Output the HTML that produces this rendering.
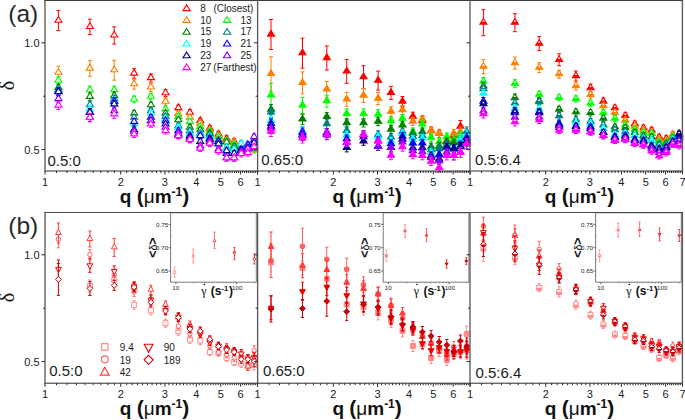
<!DOCTYPE html>
<html><head><meta charset="utf-8"><style>
html,body{margin:0;padding:0;background:#fff;width:685px;height:420px;overflow:hidden;}
body{position:relative;font-family:"Liberation Sans", sans-serif;}
</style></head><body>
<svg width="685" height="420" viewBox="0 0 685 420" style="position:absolute;left:0;top:0" font-family='"Liberation Sans", sans-serif'>
<rect width="685" height="420" fill="#fff"/>
<path d="M58.4,10.6 V30.6 M56.4,10.6 H60.4 M56.4,30.6 H60.4" stroke="#ff0000" stroke-width="1.0" fill="none"/>
<polygon points="54.9,22.2 62,22.2 58.4,16.5" fill="#fff"/>
<polygon points="54.9,22.2 62,22.2 58.4,16.5" fill="none" stroke="#ff0000" stroke-width="1.1" stroke-linejoin="miter"/>
<path d="M89.9,19.2 V34.6 M87.9,19.2 H91.9 M87.9,34.6 H91.9" stroke="#ff0000" stroke-width="1.0" fill="none"/>
<polygon points="86.3,28.5 93.4,28.5 89.9,22.8" fill="#fff"/>
<polygon points="86.3,28.5 93.4,28.5 89.9,22.8" fill="none" stroke="#ff0000" stroke-width="1.1" stroke-linejoin="miter"/>
<path d="M114.2,26.8 V44 M112.2,26.8 H116.2 M112.2,44 H116.2" stroke="#ff0000" stroke-width="1.0" fill="none"/>
<polygon points="110.7,37 117.8,37 114.2,31.3" fill="#fff"/>
<polygon points="110.7,37 117.8,37 114.2,31.3" fill="none" stroke="#ff0000" stroke-width="1.1" stroke-linejoin="miter"/>
<path d="M134.1,68.7 V78.3 M132.1,68.7 H136.1 M132.1,78.3 H136.1" stroke="#ff0000" stroke-width="1.0" fill="none"/>
<polygon points="130.6,75.1 137.7,75.1 134.1,69.4" fill="#fff"/>
<polygon points="130.6,75.1 137.7,75.1 134.1,69.4" fill="none" stroke="#ff0000" stroke-width="1.1" stroke-linejoin="miter"/>
<path d="M150.9,74 V82 M148.9,74 H152.9 M148.9,82 H152.9" stroke="#ff0000" stroke-width="1.0" fill="none"/>
<polygon points="147.4,79.6 154.5,79.6 150.9,73.9" fill="#fff"/>
<polygon points="147.4,79.6 154.5,79.6 150.9,73.9" fill="none" stroke="#ff0000" stroke-width="1.1" stroke-linejoin="miter"/>
<path d="M165.5,89.6 V96.6 M163.5,89.6 H167.5 M163.5,96.6 H167.5" stroke="#ff0000" stroke-width="1.0" fill="none"/>
<polygon points="162,94.7 169.1,94.7 165.5,89" fill="#fff"/>
<polygon points="162,94.7 169.1,94.7 165.5,89" fill="none" stroke="#ff0000" stroke-width="1.1" stroke-linejoin="miter"/>
<path d="M178.4,105 V111 M176.4,105 H180.4 M176.4,111 H180.4" stroke="#ff0000" stroke-width="1.0" fill="none"/>
<polygon points="174.8,109.6 181.9,109.6 178.4,103.9" fill="#fff"/>
<polygon points="174.8,109.6 181.9,109.6 178.4,103.9" fill="none" stroke="#ff0000" stroke-width="1.1" stroke-linejoin="miter"/>
<path d="M189.9,109.7 V115.7 M187.9,109.7 H191.9 M187.9,115.7 H191.9" stroke="#ff0000" stroke-width="1.0" fill="none"/>
<polygon points="186.3,114.3 193.4,114.3 189.9,108.6" fill="#fff"/>
<polygon points="186.3,114.3 193.4,114.3 189.9,108.6" fill="none" stroke="#ff0000" stroke-width="1.1" stroke-linejoin="miter"/>
<path d="M200.3,118 V124 M198.3,118 H202.3 M198.3,124 H202.3" stroke="#ff0000" stroke-width="1.0" fill="none"/>
<polygon points="196.7,122.6 203.8,122.6 200.3,116.9" fill="#fff"/>
<polygon points="196.7,122.6 203.8,122.6 200.3,116.9" fill="none" stroke="#ff0000" stroke-width="1.1" stroke-linejoin="miter"/>
<path d="M209.8,125.5 V131.5 M207.8,125.5 H211.8 M207.8,131.5 H211.8" stroke="#ff0000" stroke-width="1.0" fill="none"/>
<polygon points="206.2,130.1 213.3,130.1 209.8,124.4" fill="#fff"/>
<polygon points="206.2,130.1 213.3,130.1 209.8,124.4" fill="none" stroke="#ff0000" stroke-width="1.1" stroke-linejoin="miter"/>
<path d="M218.5,131.3 V137.3 M216.5,131.3 H220.5 M216.5,137.3 H220.5" stroke="#ff0000" stroke-width="1.0" fill="none"/>
<polygon points="215,135.9 222.1,135.9 218.5,130.2" fill="#fff"/>
<polygon points="215,135.9 222.1,135.9 218.5,130.2" fill="none" stroke="#ff0000" stroke-width="1.1" stroke-linejoin="miter"/>
<path d="M226.6,135.9 V141.9 M224.6,135.9 H228.6 M224.6,141.9 H228.6" stroke="#ff0000" stroke-width="1.0" fill="none"/>
<polygon points="223.1,140.5 230.2,140.5 226.6,134.8" fill="#fff"/>
<polygon points="223.1,140.5 230.2,140.5 226.6,134.8" fill="none" stroke="#ff0000" stroke-width="1.1" stroke-linejoin="miter"/>
<path d="M234.2,138.7 V144.7 M232.2,138.7 H236.2 M232.2,144.7 H236.2" stroke="#ff0000" stroke-width="1.0" fill="none"/>
<polygon points="230.6,143.3 237.7,143.3 234.2,137.6" fill="#fff"/>
<polygon points="230.6,143.3 237.7,143.3 234.2,137.6" fill="none" stroke="#ff0000" stroke-width="1.1" stroke-linejoin="miter"/>
<path d="M241.2,142 V148 M239.2,142 H243.2 M239.2,148 H243.2" stroke="#ff0000" stroke-width="1.0" fill="none"/>
<polygon points="237.7,146.6 244.8,146.6 241.2,140.9" fill="#fff"/>
<polygon points="237.7,146.6 244.8,146.6 241.2,140.9" fill="none" stroke="#ff0000" stroke-width="1.1" stroke-linejoin="miter"/>
<path d="M247.8,143 V149 M245.8,143 H249.8 M245.8,149 H249.8" stroke="#ff0000" stroke-width="1.0" fill="none"/>
<polygon points="244.3,147.6 251.4,147.6 247.8,141.9" fill="#fff"/>
<polygon points="244.3,147.6 251.4,147.6 247.8,141.9" fill="none" stroke="#ff0000" stroke-width="1.1" stroke-linejoin="miter"/>
<path d="M254.1,145 V151 M252.1,145 H256.1 M252.1,151 H256.1" stroke="#ff0000" stroke-width="1.0" fill="none"/>
<polygon points="250.5,149.6 257.6,149.6 254.1,143.9" fill="#fff"/>
<polygon points="250.5,149.6 257.6,149.6 254.1,143.9" fill="none" stroke="#ff0000" stroke-width="1.1" stroke-linejoin="miter"/>
<path d="M58.4,66.2 V79.2 M56.4,66.2 H60.4 M56.4,79.2 H60.4" stroke="#ff8000" stroke-width="1.0" fill="none"/>
<polygon points="54.9,74.3 62,74.3 58.4,68.6" fill="#fff"/>
<polygon points="54.9,74.3 62,74.3 58.4,68.6" fill="none" stroke="#ff8000" stroke-width="1.1" stroke-linejoin="miter"/>
<path d="M89.9,60.7 V76.3 M87.9,60.7 H91.9 M87.9,76.3 H91.9" stroke="#ff8000" stroke-width="1.0" fill="none"/>
<polygon points="86.3,70.1 93.4,70.1 89.9,64.4" fill="#fff"/>
<polygon points="86.3,70.1 93.4,70.1 89.9,64.4" fill="none" stroke="#ff8000" stroke-width="1.1" stroke-linejoin="miter"/>
<path d="M114.2,60.2 V80.2 M112.2,60.2 H116.2 M112.2,80.2 H116.2" stroke="#ff8000" stroke-width="1.0" fill="none"/>
<polygon points="110.7,71.8 117.8,71.8 114.2,66.1" fill="#fff"/>
<polygon points="110.7,71.8 117.8,71.8 114.2,66.1" fill="none" stroke="#ff8000" stroke-width="1.1" stroke-linejoin="miter"/>
<path d="M134.1,79.2 V89.2 M132.1,79.2 H136.1 M132.1,89.2 H136.1" stroke="#ff8000" stroke-width="1.0" fill="none"/>
<polygon points="130.6,85.8 137.7,85.8 134.1,80.1" fill="#fff"/>
<polygon points="130.6,85.8 137.7,85.8 134.1,80.1" fill="none" stroke="#ff8000" stroke-width="1.1" stroke-linejoin="miter"/>
<path d="M150.9,83.4 V91.4 M148.9,83.4 H152.9 M148.9,91.4 H152.9" stroke="#ff8000" stroke-width="1.0" fill="none"/>
<polygon points="147.4,89 154.5,89 150.9,83.3" fill="#fff"/>
<polygon points="147.4,89 154.5,89 150.9,83.3" fill="none" stroke="#ff8000" stroke-width="1.1" stroke-linejoin="miter"/>
<path d="M165.5,98.2 V105.2 M163.5,98.2 H167.5 M163.5,105.2 H167.5" stroke="#ff8000" stroke-width="1.0" fill="none"/>
<polygon points="162,103.3 169.1,103.3 165.5,97.6" fill="#fff"/>
<polygon points="162,103.3 169.1,103.3 165.5,97.6" fill="none" stroke="#ff8000" stroke-width="1.1" stroke-linejoin="miter"/>
<path d="M178.4,111 V117 M176.4,111 H180.4 M176.4,117 H180.4" stroke="#ff8000" stroke-width="1.0" fill="none"/>
<polygon points="174.8,115.6 181.9,115.6 178.4,109.9" fill="#fff"/>
<polygon points="174.8,115.6 181.9,115.6 178.4,109.9" fill="none" stroke="#ff8000" stroke-width="1.1" stroke-linejoin="miter"/>
<path d="M189.9,114.7 V120.7 M187.9,114.7 H191.9 M187.9,120.7 H191.9" stroke="#ff8000" stroke-width="1.0" fill="none"/>
<polygon points="186.3,119.3 193.4,119.3 189.9,113.6" fill="#fff"/>
<polygon points="186.3,119.3 193.4,119.3 189.9,113.6" fill="none" stroke="#ff8000" stroke-width="1.1" stroke-linejoin="miter"/>
<path d="M200.3,120.5 V126.5 M198.3,120.5 H202.3 M198.3,126.5 H202.3" stroke="#ff8000" stroke-width="1.0" fill="none"/>
<polygon points="196.7,125.1 203.8,125.1 200.3,119.4" fill="#fff"/>
<polygon points="196.7,125.1 203.8,125.1 200.3,119.4" fill="none" stroke="#ff8000" stroke-width="1.1" stroke-linejoin="miter"/>
<path d="M209.8,127.2 V133.2 M207.8,127.2 H211.8 M207.8,133.2 H211.8" stroke="#ff8000" stroke-width="1.0" fill="none"/>
<polygon points="206.2,131.8 213.3,131.8 209.8,126.1" fill="#fff"/>
<polygon points="206.2,131.8 213.3,131.8 209.8,126.1" fill="none" stroke="#ff8000" stroke-width="1.1" stroke-linejoin="miter"/>
<path d="M218.5,133 V139 M216.5,133 H220.5 M216.5,139 H220.5" stroke="#ff8000" stroke-width="1.0" fill="none"/>
<polygon points="215,137.6 222.1,137.6 218.5,131.9" fill="#fff"/>
<polygon points="215,137.6 222.1,137.6 218.5,131.9" fill="none" stroke="#ff8000" stroke-width="1.1" stroke-linejoin="miter"/>
<path d="M226.6,138 V144 M224.6,138 H228.6 M224.6,144 H228.6" stroke="#ff8000" stroke-width="1.0" fill="none"/>
<polygon points="223.1,142.6 230.2,142.6 226.6,136.9" fill="#fff"/>
<polygon points="223.1,142.6 230.2,142.6 226.6,136.9" fill="none" stroke="#ff8000" stroke-width="1.1" stroke-linejoin="miter"/>
<path d="M234.2,139.5 V145.5 M232.2,139.5 H236.2 M232.2,145.5 H236.2" stroke="#ff8000" stroke-width="1.0" fill="none"/>
<polygon points="230.6,144.1 237.7,144.1 234.2,138.4" fill="#fff"/>
<polygon points="230.6,144.1 237.7,144.1 234.2,138.4" fill="none" stroke="#ff8000" stroke-width="1.1" stroke-linejoin="miter"/>
<path d="M241.2,144 V150 M239.2,144 H243.2 M239.2,150 H243.2" stroke="#ff8000" stroke-width="1.0" fill="none"/>
<polygon points="237.7,148.6 244.8,148.6 241.2,142.9" fill="#fff"/>
<polygon points="237.7,148.6 244.8,148.6 241.2,142.9" fill="none" stroke="#ff8000" stroke-width="1.1" stroke-linejoin="miter"/>
<path d="M247.8,146 V152 M245.8,146 H249.8 M245.8,152 H249.8" stroke="#ff8000" stroke-width="1.0" fill="none"/>
<polygon points="244.3,150.6 251.4,150.6 247.8,144.9" fill="#fff"/>
<polygon points="244.3,150.6 251.4,150.6 247.8,144.9" fill="none" stroke="#ff8000" stroke-width="1.1" stroke-linejoin="miter"/>
<path d="M254.1,147 V153 M252.1,147 H256.1 M252.1,153 H256.1" stroke="#ff8000" stroke-width="1.0" fill="none"/>
<polygon points="250.5,151.6 257.6,151.6 254.1,145.9" fill="#fff"/>
<polygon points="250.5,151.6 257.6,151.6 254.1,145.9" fill="none" stroke="#ff8000" stroke-width="1.1" stroke-linejoin="miter"/>
<path d="M58.4,76.6 V84.6 M56.4,76.6 H60.4 M56.4,84.6 H60.4" stroke="#00ff00" stroke-width="1.0" fill="none"/>
<polygon points="54.9,82.2 62,82.2 58.4,76.5" fill="#fff"/>
<polygon points="54.9,82.2 62,82.2 58.4,76.5" fill="none" stroke="#00ff00" stroke-width="1.1" stroke-linejoin="miter"/>
<path d="M89.9,86.2 V94.2 M87.9,86.2 H91.9 M87.9,94.2 H91.9" stroke="#00ff00" stroke-width="1.0" fill="none"/>
<polygon points="86.3,91.8 93.4,91.8 89.9,86.1" fill="#fff"/>
<polygon points="86.3,91.8 93.4,91.8 89.9,86.1" fill="none" stroke="#00ff00" stroke-width="1.1" stroke-linejoin="miter"/>
<path d="M114.2,86.2 V94.2 M112.2,86.2 H116.2 M112.2,94.2 H116.2" stroke="#00ff00" stroke-width="1.0" fill="none"/>
<polygon points="110.7,91.8 117.8,91.8 114.2,86.1" fill="#fff"/>
<polygon points="110.7,91.8 117.8,91.8 114.2,86.1" fill="none" stroke="#00ff00" stroke-width="1.1" stroke-linejoin="miter"/>
<path d="M134.1,96.2 V102.6 M132.1,96.2 H136.1 M132.1,102.6 H136.1" stroke="#00ff00" stroke-width="1.0" fill="none"/>
<polygon points="130.6,101 137.7,101 134.1,95.3" fill="#fff"/>
<polygon points="130.6,101 137.7,101 134.1,95.3" fill="none" stroke="#00ff00" stroke-width="1.1" stroke-linejoin="miter"/>
<path d="M150.9,93.7 V99.7 M148.9,93.7 H152.9 M148.9,99.7 H152.9" stroke="#00ff00" stroke-width="1.0" fill="none"/>
<polygon points="147.4,98.3 154.5,98.3 150.9,92.6" fill="#fff"/>
<polygon points="147.4,98.3 154.5,98.3 150.9,92.6" fill="none" stroke="#00ff00" stroke-width="1.1" stroke-linejoin="miter"/>
<path d="M165.5,106.3 V112.3 M163.5,106.3 H167.5 M163.5,112.3 H167.5" stroke="#00ff00" stroke-width="1.0" fill="none"/>
<polygon points="162,110.9 169.1,110.9 165.5,105.2" fill="#fff"/>
<polygon points="162,110.9 169.1,110.9 165.5,105.2" fill="none" stroke="#00ff00" stroke-width="1.1" stroke-linejoin="miter"/>
<path d="M178.4,113.8 V119.8 M176.4,113.8 H180.4 M176.4,119.8 H180.4" stroke="#00ff00" stroke-width="1.0" fill="none"/>
<polygon points="174.8,118.4 181.9,118.4 178.4,112.7" fill="#fff"/>
<polygon points="174.8,118.4 181.9,118.4 178.4,112.7" fill="none" stroke="#00ff00" stroke-width="1.1" stroke-linejoin="miter"/>
<path d="M189.9,118.8 V124.8 M187.9,118.8 H191.9 M187.9,124.8 H191.9" stroke="#00ff00" stroke-width="1.0" fill="none"/>
<polygon points="186.3,123.4 193.4,123.4 189.9,117.7" fill="#fff"/>
<polygon points="186.3,123.4 193.4,123.4 189.9,117.7" fill="none" stroke="#00ff00" stroke-width="1.1" stroke-linejoin="miter"/>
<path d="M200.3,123.8 V129.8 M198.3,123.8 H202.3 M198.3,129.8 H202.3" stroke="#00ff00" stroke-width="1.0" fill="none"/>
<polygon points="196.7,128.4 203.8,128.4 200.3,122.7" fill="#fff"/>
<polygon points="196.7,128.4 203.8,128.4 200.3,122.7" fill="none" stroke="#00ff00" stroke-width="1.1" stroke-linejoin="miter"/>
<path d="M209.8,128.8 V134.8 M207.8,128.8 H211.8 M207.8,134.8 H211.8" stroke="#00ff00" stroke-width="1.0" fill="none"/>
<polygon points="206.2,133.4 213.3,133.4 209.8,127.7" fill="#fff"/>
<polygon points="206.2,133.4 213.3,133.4 209.8,127.7" fill="none" stroke="#00ff00" stroke-width="1.1" stroke-linejoin="miter"/>
<path d="M218.5,133.8 V139.8 M216.5,133.8 H220.5 M216.5,139.8 H220.5" stroke="#00ff00" stroke-width="1.0" fill="none"/>
<polygon points="215,138.4 222.1,138.4 218.5,132.7" fill="#fff"/>
<polygon points="215,138.4 222.1,138.4 218.5,132.7" fill="none" stroke="#00ff00" stroke-width="1.1" stroke-linejoin="miter"/>
<path d="M226.6,138 V144 M224.6,138 H228.6 M224.6,144 H228.6" stroke="#00ff00" stroke-width="1.0" fill="none"/>
<polygon points="223.1,142.6 230.2,142.6 226.6,136.9" fill="#fff"/>
<polygon points="223.1,142.6 230.2,142.6 226.6,136.9" fill="none" stroke="#00ff00" stroke-width="1.1" stroke-linejoin="miter"/>
<path d="M234.2,141.6 V147.6 M232.2,141.6 H236.2 M232.2,147.6 H236.2" stroke="#00ff00" stroke-width="1.0" fill="none"/>
<polygon points="230.6,146.2 237.7,146.2 234.2,140.5" fill="#fff"/>
<polygon points="230.6,146.2 237.7,146.2 234.2,140.5" fill="none" stroke="#00ff00" stroke-width="1.1" stroke-linejoin="miter"/>
<path d="M241.2,143 V149 M239.2,143 H243.2 M239.2,149 H243.2" stroke="#00ff00" stroke-width="1.0" fill="none"/>
<polygon points="237.7,147.6 244.8,147.6 241.2,141.9" fill="#fff"/>
<polygon points="237.7,147.6 244.8,147.6 241.2,141.9" fill="none" stroke="#00ff00" stroke-width="1.1" stroke-linejoin="miter"/>
<path d="M247.8,145 V151 M245.8,145 H249.8 M245.8,151 H249.8" stroke="#00ff00" stroke-width="1.0" fill="none"/>
<polygon points="244.3,149.6 251.4,149.6 247.8,143.9" fill="#fff"/>
<polygon points="244.3,149.6 251.4,149.6 247.8,143.9" fill="none" stroke="#00ff00" stroke-width="1.1" stroke-linejoin="miter"/>
<path d="M254.1,146 V152 M252.1,146 H256.1 M252.1,152 H256.1" stroke="#00ff00" stroke-width="1.0" fill="none"/>
<polygon points="250.5,150.6 257.6,150.6 254.1,144.9" fill="#fff"/>
<polygon points="250.5,150.6 257.6,150.6 254.1,144.9" fill="none" stroke="#00ff00" stroke-width="1.1" stroke-linejoin="miter"/>
<path d="M58.4,83.8 V91.8 M56.4,83.8 H60.4 M56.4,91.8 H60.4" stroke="#008000" stroke-width="1.0" fill="none"/>
<polygon points="54.9,89.4 62,89.4 58.4,83.7" fill="#fff"/>
<polygon points="54.9,89.4 62,89.4 58.4,83.7" fill="none" stroke="#008000" stroke-width="1.1" stroke-linejoin="miter"/>
<path d="M89.9,92.8 V100.8 M87.9,92.8 H91.9 M87.9,100.8 H91.9" stroke="#008000" stroke-width="1.0" fill="none"/>
<polygon points="86.3,98.4 93.4,98.4 89.9,92.7" fill="#fff"/>
<polygon points="86.3,98.4 93.4,98.4 89.9,92.7" fill="none" stroke="#008000" stroke-width="1.1" stroke-linejoin="miter"/>
<path d="M114.2,92 V100 M112.2,92 H116.2 M112.2,100 H116.2" stroke="#008000" stroke-width="1.0" fill="none"/>
<polygon points="110.7,97.6 117.8,97.6 114.2,91.9" fill="#fff"/>
<polygon points="110.7,97.6 117.8,97.6 114.2,91.9" fill="none" stroke="#008000" stroke-width="1.1" stroke-linejoin="miter"/>
<path d="M134.1,110.4 V116.8 M132.1,110.4 H136.1 M132.1,116.8 H136.1" stroke="#008000" stroke-width="1.0" fill="none"/>
<polygon points="130.6,115.2 137.7,115.2 134.1,109.5" fill="#fff"/>
<polygon points="130.6,115.2 137.7,115.2 134.1,109.5" fill="none" stroke="#008000" stroke-width="1.1" stroke-linejoin="miter"/>
<path d="M150.9,102.2 V108.2 M148.9,102.2 H152.9 M148.9,108.2 H152.9" stroke="#008000" stroke-width="1.0" fill="none"/>
<polygon points="147.4,106.8 154.5,106.8 150.9,101.1" fill="#fff"/>
<polygon points="147.4,106.8 154.5,106.8 150.9,101.1" fill="none" stroke="#008000" stroke-width="1.1" stroke-linejoin="miter"/>
<path d="M165.5,110.5 V116.5 M163.5,110.5 H167.5 M163.5,116.5 H167.5" stroke="#008000" stroke-width="1.0" fill="none"/>
<polygon points="162,115.1 169.1,115.1 165.5,109.4" fill="#fff"/>
<polygon points="162,115.1 169.1,115.1 165.5,109.4" fill="none" stroke="#008000" stroke-width="1.1" stroke-linejoin="miter"/>
<path d="M178.4,117.2 V123.2 M176.4,117.2 H180.4 M176.4,123.2 H180.4" stroke="#008000" stroke-width="1.0" fill="none"/>
<polygon points="174.8,121.8 181.9,121.8 178.4,116.1" fill="#fff"/>
<polygon points="174.8,121.8 181.9,121.8 178.4,116.1" fill="none" stroke="#008000" stroke-width="1.1" stroke-linejoin="miter"/>
<path d="M189.9,124.7 V130.7 M187.9,124.7 H191.9 M187.9,130.7 H191.9" stroke="#008000" stroke-width="1.0" fill="none"/>
<polygon points="186.3,129.3 193.4,129.3 189.9,123.6" fill="#fff"/>
<polygon points="186.3,129.3 193.4,129.3 189.9,123.6" fill="none" stroke="#008000" stroke-width="1.1" stroke-linejoin="miter"/>
<path d="M200.3,127.2 V133.2 M198.3,127.2 H202.3 M198.3,133.2 H202.3" stroke="#008000" stroke-width="1.0" fill="none"/>
<polygon points="196.7,131.8 203.8,131.8 200.3,126.1" fill="#fff"/>
<polygon points="196.7,131.8 203.8,131.8 200.3,126.1" fill="none" stroke="#008000" stroke-width="1.1" stroke-linejoin="miter"/>
<path d="M209.8,130.5 V136.5 M207.8,130.5 H211.8 M207.8,136.5 H211.8" stroke="#008000" stroke-width="1.0" fill="none"/>
<polygon points="206.2,135.1 213.3,135.1 209.8,129.4" fill="#fff"/>
<polygon points="206.2,135.1 213.3,135.1 209.8,129.4" fill="none" stroke="#008000" stroke-width="1.1" stroke-linejoin="miter"/>
<path d="M218.5,137.2 V143.2 M216.5,137.2 H220.5 M216.5,143.2 H220.5" stroke="#008000" stroke-width="1.0" fill="none"/>
<polygon points="215,141.8 222.1,141.8 218.5,136.1" fill="#fff"/>
<polygon points="215,141.8 222.1,141.8 218.5,136.1" fill="none" stroke="#008000" stroke-width="1.1" stroke-linejoin="miter"/>
<path d="M226.6,139.4 V145.4 M224.6,139.4 H228.6 M224.6,145.4 H228.6" stroke="#008000" stroke-width="1.0" fill="none"/>
<polygon points="223.1,144 230.2,144 226.6,138.3" fill="#fff"/>
<polygon points="223.1,144 230.2,144 226.6,138.3" fill="none" stroke="#008000" stroke-width="1.1" stroke-linejoin="miter"/>
<path d="M234.2,143.7 V149.7 M232.2,143.7 H236.2 M232.2,149.7 H236.2" stroke="#008000" stroke-width="1.0" fill="none"/>
<polygon points="230.6,148.3 237.7,148.3 234.2,142.6" fill="#fff"/>
<polygon points="230.6,148.3 237.7,148.3 234.2,142.6" fill="none" stroke="#008000" stroke-width="1.1" stroke-linejoin="miter"/>
<path d="M241.2,145 V151 M239.2,145 H243.2 M239.2,151 H243.2" stroke="#008000" stroke-width="1.0" fill="none"/>
<polygon points="237.7,149.6 244.8,149.6 241.2,143.9" fill="#fff"/>
<polygon points="237.7,149.6 244.8,149.6 241.2,143.9" fill="none" stroke="#008000" stroke-width="1.1" stroke-linejoin="miter"/>
<path d="M247.8,145 V151 M245.8,145 H249.8 M245.8,151 H249.8" stroke="#008000" stroke-width="1.0" fill="none"/>
<polygon points="244.3,149.6 251.4,149.6 247.8,143.9" fill="#fff"/>
<polygon points="244.3,149.6 251.4,149.6 247.8,143.9" fill="none" stroke="#008000" stroke-width="1.1" stroke-linejoin="miter"/>
<path d="M254.1,144 V150 M252.1,144 H256.1 M252.1,150 H256.1" stroke="#008000" stroke-width="1.0" fill="none"/>
<polygon points="250.5,148.6 257.6,148.6 254.1,142.9" fill="#fff"/>
<polygon points="250.5,148.6 257.6,148.6 254.1,142.9" fill="none" stroke="#008000" stroke-width="1.1" stroke-linejoin="miter"/>
<path d="M58.4,86 V94 M56.4,86 H60.4 M56.4,94 H60.4" stroke="#008080" stroke-width="1.0" fill="none"/>
<polygon points="54.9,91.6 62,91.6 58.4,85.9" fill="#fff"/>
<polygon points="54.9,91.6 62,91.6 58.4,85.9" fill="none" stroke="#008080" stroke-width="1.1" stroke-linejoin="miter"/>
<path d="M89.9,101.2 V109.2 M87.9,101.2 H91.9 M87.9,109.2 H91.9" stroke="#008080" stroke-width="1.0" fill="none"/>
<polygon points="86.3,106.8 93.4,106.8 89.9,101.1" fill="#fff"/>
<polygon points="86.3,106.8 93.4,106.8 89.9,101.1" fill="none" stroke="#008080" stroke-width="1.1" stroke-linejoin="miter"/>
<path d="M114.2,95.3 V103.3 M112.2,95.3 H116.2 M112.2,103.3 H116.2" stroke="#008080" stroke-width="1.0" fill="none"/>
<polygon points="110.7,100.9 117.8,100.9 114.2,95.2" fill="#fff"/>
<polygon points="110.7,100.9 117.8,100.9 114.2,95.2" fill="none" stroke="#008080" stroke-width="1.1" stroke-linejoin="miter"/>
<path d="M134.1,114.5 V120.9 M132.1,114.5 H136.1 M132.1,120.9 H136.1" stroke="#008080" stroke-width="1.0" fill="none"/>
<polygon points="130.6,119.3 137.7,119.3 134.1,113.6" fill="#fff"/>
<polygon points="130.6,119.3 137.7,119.3 134.1,113.6" fill="none" stroke="#008080" stroke-width="1.1" stroke-linejoin="miter"/>
<path d="M150.9,108 V114 M148.9,108 H152.9 M148.9,114 H152.9" stroke="#008080" stroke-width="1.0" fill="none"/>
<polygon points="147.4,112.6 154.5,112.6 150.9,106.9" fill="#fff"/>
<polygon points="147.4,112.6 154.5,112.6 150.9,106.9" fill="none" stroke="#008080" stroke-width="1.1" stroke-linejoin="miter"/>
<path d="M165.5,113.8 V119.8 M163.5,113.8 H167.5 M163.5,119.8 H167.5" stroke="#008080" stroke-width="1.0" fill="none"/>
<polygon points="162,118.4 169.1,118.4 165.5,112.7" fill="#fff"/>
<polygon points="162,118.4 169.1,118.4 165.5,112.7" fill="none" stroke="#008080" stroke-width="1.1" stroke-linejoin="miter"/>
<path d="M178.4,123 V129 M176.4,123 H180.4 M176.4,129 H180.4" stroke="#008080" stroke-width="1.0" fill="none"/>
<polygon points="174.8,127.6 181.9,127.6 178.4,121.9" fill="#fff"/>
<polygon points="174.8,127.6 181.9,127.6 178.4,121.9" fill="none" stroke="#008080" stroke-width="1.1" stroke-linejoin="miter"/>
<path d="M189.9,128 V134 M187.9,128 H191.9 M187.9,134 H191.9" stroke="#008080" stroke-width="1.0" fill="none"/>
<polygon points="186.3,132.6 193.4,132.6 189.9,126.9" fill="#fff"/>
<polygon points="186.3,132.6 193.4,132.6 189.9,126.9" fill="none" stroke="#008080" stroke-width="1.1" stroke-linejoin="miter"/>
<path d="M200.3,130.5 V136.5 M198.3,130.5 H202.3 M198.3,136.5 H202.3" stroke="#008080" stroke-width="1.0" fill="none"/>
<polygon points="196.7,135.1 203.8,135.1 200.3,129.4" fill="#fff"/>
<polygon points="196.7,135.1 203.8,135.1 200.3,129.4" fill="none" stroke="#008080" stroke-width="1.1" stroke-linejoin="miter"/>
<path d="M209.8,132.2 V138.2 M207.8,132.2 H211.8 M207.8,138.2 H211.8" stroke="#008080" stroke-width="1.0" fill="none"/>
<polygon points="206.2,136.8 213.3,136.8 209.8,131.1" fill="#fff"/>
<polygon points="206.2,136.8 213.3,136.8 209.8,131.1" fill="none" stroke="#008080" stroke-width="1.1" stroke-linejoin="miter"/>
<path d="M218.5,139 V145 M216.5,139 H220.5 M216.5,145 H220.5" stroke="#008080" stroke-width="1.0" fill="none"/>
<polygon points="215,143.6 222.1,143.6 218.5,137.9" fill="#fff"/>
<polygon points="215,143.6 222.1,143.6 218.5,137.9" fill="none" stroke="#008080" stroke-width="1.1" stroke-linejoin="miter"/>
<path d="M226.6,145.1 V151.1 M224.6,145.1 H228.6 M224.6,151.1 H228.6" stroke="#008080" stroke-width="1.0" fill="none"/>
<polygon points="223.1,149.7 230.2,149.7 226.6,144" fill="#fff"/>
<polygon points="223.1,149.7 230.2,149.7 226.6,144" fill="none" stroke="#008080" stroke-width="1.1" stroke-linejoin="miter"/>
<path d="M234.2,146 V152 M232.2,146 H236.2 M232.2,152 H236.2" stroke="#008080" stroke-width="1.0" fill="none"/>
<polygon points="230.6,150.6 237.7,150.6 234.2,144.9" fill="#fff"/>
<polygon points="230.6,150.6 237.7,150.6 234.2,144.9" fill="none" stroke="#008080" stroke-width="1.1" stroke-linejoin="miter"/>
<path d="M241.2,141 V147 M239.2,141 H243.2 M239.2,147 H243.2" stroke="#008080" stroke-width="1.0" fill="none"/>
<polygon points="237.7,145.6 244.8,145.6 241.2,139.9" fill="#fff"/>
<polygon points="237.7,145.6 244.8,145.6 241.2,139.9" fill="none" stroke="#008080" stroke-width="1.1" stroke-linejoin="miter"/>
<path d="M247.8,143 V149 M245.8,143 H249.8 M245.8,149 H249.8" stroke="#008080" stroke-width="1.0" fill="none"/>
<polygon points="244.3,147.6 251.4,147.6 247.8,141.9" fill="#fff"/>
<polygon points="244.3,147.6 251.4,147.6 247.8,141.9" fill="none" stroke="#008080" stroke-width="1.1" stroke-linejoin="miter"/>
<path d="M254.1,142 V148 M252.1,142 H256.1 M252.1,148 H256.1" stroke="#008080" stroke-width="1.0" fill="none"/>
<polygon points="250.5,146.6 257.6,146.6 254.1,140.9" fill="#fff"/>
<polygon points="250.5,146.6 257.6,146.6 254.1,140.9" fill="none" stroke="#008080" stroke-width="1.1" stroke-linejoin="miter"/>
<path d="M58.4,87 V95 M56.4,87 H60.4 M56.4,95 H60.4" stroke="#00ffff" stroke-width="1.0" fill="none"/>
<polygon points="54.9,92.6 62,92.6 58.4,86.9" fill="#fff"/>
<polygon points="54.9,92.6 62,92.6 58.4,86.9" fill="none" stroke="#00ffff" stroke-width="1.1" stroke-linejoin="miter"/>
<path d="M89.9,105.3 V113.3 M87.9,105.3 H91.9 M87.9,113.3 H91.9" stroke="#00ffff" stroke-width="1.0" fill="none"/>
<polygon points="86.3,110.9 93.4,110.9 89.9,105.2" fill="#fff"/>
<polygon points="86.3,110.9 93.4,110.9 89.9,105.2" fill="none" stroke="#00ffff" stroke-width="1.1" stroke-linejoin="miter"/>
<path d="M114.2,97 V105 M112.2,97 H116.2 M112.2,105 H116.2" stroke="#00ffff" stroke-width="1.0" fill="none"/>
<polygon points="110.7,102.6 117.8,102.6 114.2,96.9" fill="#fff"/>
<polygon points="110.7,102.6 117.8,102.6 114.2,96.9" fill="none" stroke="#00ffff" stroke-width="1.1" stroke-linejoin="miter"/>
<path d="M134.1,121.1 V127.5 M132.1,121.1 H136.1 M132.1,127.5 H136.1" stroke="#00ffff" stroke-width="1.0" fill="none"/>
<polygon points="130.6,125.9 137.7,125.9 134.1,120.2" fill="#fff"/>
<polygon points="130.6,125.9 137.7,125.9 134.1,120.2" fill="none" stroke="#00ffff" stroke-width="1.1" stroke-linejoin="miter"/>
<path d="M150.9,110.5 V116.5 M148.9,110.5 H152.9 M148.9,116.5 H152.9" stroke="#00ffff" stroke-width="1.0" fill="none"/>
<polygon points="147.4,115.1 154.5,115.1 150.9,109.4" fill="#fff"/>
<polygon points="147.4,115.1 154.5,115.1 150.9,109.4" fill="none" stroke="#00ffff" stroke-width="1.1" stroke-linejoin="miter"/>
<path d="M165.5,116 V122 M163.5,116 H167.5 M163.5,122 H167.5" stroke="#00ffff" stroke-width="1.0" fill="none"/>
<polygon points="162,120.6 169.1,120.6 165.5,114.9" fill="#fff"/>
<polygon points="162,120.6 169.1,120.6 165.5,114.9" fill="none" stroke="#00ffff" stroke-width="1.1" stroke-linejoin="miter"/>
<path d="M178.4,124.7 V130.7 M176.4,124.7 H180.4 M176.4,130.7 H180.4" stroke="#00ffff" stroke-width="1.0" fill="none"/>
<polygon points="174.8,129.3 181.9,129.3 178.4,123.6" fill="#fff"/>
<polygon points="174.8,129.3 181.9,129.3 178.4,123.6" fill="none" stroke="#00ffff" stroke-width="1.1" stroke-linejoin="miter"/>
<path d="M189.9,130.5 V136.5 M187.9,130.5 H191.9 M187.9,136.5 H191.9" stroke="#00ffff" stroke-width="1.0" fill="none"/>
<polygon points="186.3,135.1 193.4,135.1 189.9,129.4" fill="#fff"/>
<polygon points="186.3,135.1 193.4,135.1 189.9,129.4" fill="none" stroke="#00ffff" stroke-width="1.1" stroke-linejoin="miter"/>
<path d="M200.3,132 V138 M198.3,132 H202.3 M198.3,138 H202.3" stroke="#00ffff" stroke-width="1.0" fill="none"/>
<polygon points="196.7,136.6 203.8,136.6 200.3,130.9" fill="#fff"/>
<polygon points="196.7,136.6 203.8,136.6 200.3,130.9" fill="none" stroke="#00ffff" stroke-width="1.1" stroke-linejoin="miter"/>
<path d="M209.8,133.8 V139.8 M207.8,133.8 H211.8 M207.8,139.8 H211.8" stroke="#00ffff" stroke-width="1.0" fill="none"/>
<polygon points="206.2,138.4 213.3,138.4 209.8,132.7" fill="#fff"/>
<polygon points="206.2,138.4 213.3,138.4 209.8,132.7" fill="none" stroke="#00ffff" stroke-width="1.1" stroke-linejoin="miter"/>
<path d="M218.5,140 V146 M216.5,140 H220.5 M216.5,146 H220.5" stroke="#00ffff" stroke-width="1.0" fill="none"/>
<polygon points="215,144.6 222.1,144.6 218.5,138.9" fill="#fff"/>
<polygon points="215,144.6 222.1,144.6 218.5,138.9" fill="none" stroke="#00ffff" stroke-width="1.1" stroke-linejoin="miter"/>
<path d="M226.6,145.1 V151.1 M224.6,145.1 H228.6 M224.6,151.1 H228.6" stroke="#00ffff" stroke-width="1.0" fill="none"/>
<polygon points="223.1,149.7 230.2,149.7 226.6,144" fill="#fff"/>
<polygon points="223.1,149.7 230.2,149.7 226.6,144" fill="none" stroke="#00ffff" stroke-width="1.1" stroke-linejoin="miter"/>
<path d="M234.2,147 V153 M232.2,147 H236.2 M232.2,153 H236.2" stroke="#00ffff" stroke-width="1.0" fill="none"/>
<polygon points="230.6,151.6 237.7,151.6 234.2,145.9" fill="#fff"/>
<polygon points="230.6,151.6 237.7,151.6 234.2,145.9" fill="none" stroke="#00ffff" stroke-width="1.1" stroke-linejoin="miter"/>
<path d="M241.2,141 V147 M239.2,141 H243.2 M239.2,147 H243.2" stroke="#00ffff" stroke-width="1.0" fill="none"/>
<polygon points="237.7,145.6 244.8,145.6 241.2,139.9" fill="#fff"/>
<polygon points="237.7,145.6 244.8,145.6 241.2,139.9" fill="none" stroke="#00ffff" stroke-width="1.1" stroke-linejoin="miter"/>
<path d="M247.8,144 V150 M245.8,144 H249.8 M245.8,150 H249.8" stroke="#00ffff" stroke-width="1.0" fill="none"/>
<polygon points="244.3,148.6 251.4,148.6 247.8,142.9" fill="#fff"/>
<polygon points="244.3,148.6 251.4,148.6 247.8,142.9" fill="none" stroke="#00ffff" stroke-width="1.1" stroke-linejoin="miter"/>
<path d="M254.1,141 V147 M252.1,141 H256.1 M252.1,147 H256.1" stroke="#00ffff" stroke-width="1.0" fill="none"/>
<polygon points="250.5,145.6 257.6,145.6 254.1,139.9" fill="#fff"/>
<polygon points="250.5,145.6 257.6,145.6 254.1,139.9" fill="none" stroke="#00ffff" stroke-width="1.1" stroke-linejoin="miter"/>
<path d="M58.4,87.5 V95.5 M56.4,87.5 H60.4 M56.4,95.5 H60.4" stroke="#0000ff" stroke-width="1.0" fill="none"/>
<polygon points="54.9,93.1 62,93.1 58.4,87.4" fill="#fff"/>
<polygon points="54.9,93.1 62,93.1 58.4,87.4" fill="none" stroke="#0000ff" stroke-width="1.1" stroke-linejoin="miter"/>
<path d="M89.9,108.7 V116.7 M87.9,108.7 H91.9 M87.9,116.7 H91.9" stroke="#0000ff" stroke-width="1.0" fill="none"/>
<polygon points="86.3,114.3 93.4,114.3 89.9,108.6" fill="#fff"/>
<polygon points="86.3,114.3 93.4,114.3 89.9,108.6" fill="none" stroke="#0000ff" stroke-width="1.1" stroke-linejoin="miter"/>
<path d="M114.2,97.8 V105.8 M112.2,97.8 H116.2 M112.2,105.8 H116.2" stroke="#0000ff" stroke-width="1.0" fill="none"/>
<polygon points="110.7,103.4 117.8,103.4 114.2,97.7" fill="#fff"/>
<polygon points="110.7,103.4 117.8,103.4 114.2,97.7" fill="none" stroke="#0000ff" stroke-width="1.1" stroke-linejoin="miter"/>
<path d="M134.1,118.6 V125 M132.1,118.6 H136.1 M132.1,125 H136.1" stroke="#0000ff" stroke-width="1.0" fill="none"/>
<polygon points="130.6,123.4 137.7,123.4 134.1,117.7" fill="#fff"/>
<polygon points="130.6,123.4 137.7,123.4 134.1,117.7" fill="none" stroke="#0000ff" stroke-width="1.1" stroke-linejoin="miter"/>
<path d="M150.9,114.7 V120.7 M148.9,114.7 H152.9 M148.9,120.7 H152.9" stroke="#0000ff" stroke-width="1.0" fill="none"/>
<polygon points="147.4,119.3 154.5,119.3 150.9,113.6" fill="#fff"/>
<polygon points="147.4,119.3 154.5,119.3 150.9,113.6" fill="none" stroke="#0000ff" stroke-width="1.1" stroke-linejoin="miter"/>
<path d="M165.5,118 V124 M163.5,118 H167.5 M163.5,124 H167.5" stroke="#0000ff" stroke-width="1.0" fill="none"/>
<polygon points="162,122.6 169.1,122.6 165.5,116.9" fill="#fff"/>
<polygon points="162,122.6 169.1,122.6 165.5,116.9" fill="none" stroke="#0000ff" stroke-width="1.1" stroke-linejoin="miter"/>
<path d="M178.4,128 V134 M176.4,128 H180.4 M176.4,134 H180.4" stroke="#0000ff" stroke-width="1.0" fill="none"/>
<polygon points="174.8,132.6 181.9,132.6 178.4,126.9" fill="#fff"/>
<polygon points="174.8,132.6 181.9,132.6 178.4,126.9" fill="none" stroke="#0000ff" stroke-width="1.1" stroke-linejoin="miter"/>
<path d="M189.9,133 V139 M187.9,133 H191.9 M187.9,139 H191.9" stroke="#0000ff" stroke-width="1.0" fill="none"/>
<polygon points="186.3,137.6 193.4,137.6 189.9,131.9" fill="#fff"/>
<polygon points="186.3,137.6 193.4,137.6 189.9,131.9" fill="none" stroke="#0000ff" stroke-width="1.1" stroke-linejoin="miter"/>
<path d="M200.3,133 V139 M198.3,133 H202.3 M198.3,139 H202.3" stroke="#0000ff" stroke-width="1.0" fill="none"/>
<polygon points="196.7,137.6 203.8,137.6 200.3,131.9" fill="#fff"/>
<polygon points="196.7,137.6 203.8,137.6 200.3,131.9" fill="none" stroke="#0000ff" stroke-width="1.1" stroke-linejoin="miter"/>
<path d="M209.8,135.5 V141.5 M207.8,135.5 H211.8 M207.8,141.5 H211.8" stroke="#0000ff" stroke-width="1.0" fill="none"/>
<polygon points="206.2,140.1 213.3,140.1 209.8,134.4" fill="#fff"/>
<polygon points="206.2,140.1 213.3,140.1 209.8,134.4" fill="none" stroke="#0000ff" stroke-width="1.1" stroke-linejoin="miter"/>
<path d="M218.5,138.8 V144.8 M216.5,138.8 H220.5 M216.5,144.8 H220.5" stroke="#0000ff" stroke-width="1.0" fill="none"/>
<polygon points="215,143.4 222.1,143.4 218.5,137.7" fill="#fff"/>
<polygon points="215,143.4 222.1,143.4 218.5,137.7" fill="none" stroke="#0000ff" stroke-width="1.1" stroke-linejoin="miter"/>
<path d="M226.6,150.9 V156.9 M224.6,150.9 H228.6 M224.6,156.9 H228.6" stroke="#0000ff" stroke-width="1.0" fill="none"/>
<polygon points="223.1,155.5 230.2,155.5 226.6,149.8" fill="#fff"/>
<polygon points="223.1,155.5 230.2,155.5 226.6,149.8" fill="none" stroke="#0000ff" stroke-width="1.1" stroke-linejoin="miter"/>
<path d="M234.2,150.9 V156.9 M232.2,150.9 H236.2 M232.2,156.9 H236.2" stroke="#0000ff" stroke-width="1.0" fill="none"/>
<polygon points="230.6,155.5 237.7,155.5 234.2,149.8" fill="#fff"/>
<polygon points="230.6,155.5 237.7,155.5 234.2,149.8" fill="none" stroke="#0000ff" stroke-width="1.1" stroke-linejoin="miter"/>
<path d="M241.2,146.6 V152.6 M239.2,146.6 H243.2 M239.2,152.6 H243.2" stroke="#0000ff" stroke-width="1.0" fill="none"/>
<polygon points="237.7,151.2 244.8,151.2 241.2,145.5" fill="#fff"/>
<polygon points="237.7,151.2 244.8,151.2 241.2,145.5" fill="none" stroke="#0000ff" stroke-width="1.1" stroke-linejoin="miter"/>
<path d="M247.8,142 V148 M245.8,142 H249.8 M245.8,148 H249.8" stroke="#0000ff" stroke-width="1.0" fill="none"/>
<polygon points="244.3,146.6 251.4,146.6 247.8,140.9" fill="#fff"/>
<polygon points="244.3,146.6 251.4,146.6 247.8,140.9" fill="none" stroke="#0000ff" stroke-width="1.1" stroke-linejoin="miter"/>
<path d="M254.1,137.3 V143.3 M252.1,137.3 H256.1 M252.1,143.3 H256.1" stroke="#0000ff" stroke-width="1.0" fill="none"/>
<polygon points="250.5,141.9 257.6,141.9 254.1,136.2" fill="#fff"/>
<polygon points="250.5,141.9 257.6,141.9 254.1,136.2" fill="none" stroke="#0000ff" stroke-width="1.1" stroke-linejoin="miter"/>
<path d="M58.4,88 V96 M56.4,88 H60.4 M56.4,96 H60.4" stroke="#000080" stroke-width="1.0" fill="none"/>
<polygon points="54.9,93.6 62,93.6 58.4,87.9" fill="#fff"/>
<polygon points="54.9,93.6 62,93.6 58.4,87.9" fill="none" stroke="#000080" stroke-width="1.1" stroke-linejoin="miter"/>
<path d="M89.9,108.7 V116.7 M87.9,108.7 H91.9 M87.9,116.7 H91.9" stroke="#000080" stroke-width="1.0" fill="none"/>
<polygon points="86.3,114.3 93.4,114.3 89.9,108.6" fill="#fff"/>
<polygon points="86.3,114.3 93.4,114.3 89.9,108.6" fill="none" stroke="#000080" stroke-width="1.1" stroke-linejoin="miter"/>
<path d="M114.2,100.3 V108.3 M112.2,100.3 H116.2 M112.2,108.3 H116.2" stroke="#000080" stroke-width="1.0" fill="none"/>
<polygon points="110.7,105.9 117.8,105.9 114.2,100.2" fill="#fff"/>
<polygon points="110.7,105.9 117.8,105.9 114.2,100.2" fill="none" stroke="#000080" stroke-width="1.1" stroke-linejoin="miter"/>
<path d="M134.1,127 V133.4 M132.1,127 H136.1 M132.1,133.4 H136.1" stroke="#000080" stroke-width="1.0" fill="none"/>
<polygon points="130.6,131.8 137.7,131.8 134.1,126.1" fill="#fff"/>
<polygon points="130.6,131.8 137.7,131.8 134.1,126.1" fill="none" stroke="#000080" stroke-width="1.1" stroke-linejoin="miter"/>
<path d="M150.9,118 V124 M148.9,118 H152.9 M148.9,124 H152.9" stroke="#000080" stroke-width="1.0" fill="none"/>
<polygon points="147.4,122.6 154.5,122.6 150.9,116.9" fill="#fff"/>
<polygon points="147.4,122.6 154.5,122.6 150.9,116.9" fill="none" stroke="#000080" stroke-width="1.1" stroke-linejoin="miter"/>
<path d="M165.5,121.3 V127.3 M163.5,121.3 H167.5 M163.5,127.3 H167.5" stroke="#000080" stroke-width="1.0" fill="none"/>
<polygon points="162,125.9 169.1,125.9 165.5,120.2" fill="#fff"/>
<polygon points="162,125.9 169.1,125.9 165.5,120.2" fill="none" stroke="#000080" stroke-width="1.1" stroke-linejoin="miter"/>
<path d="M178.4,132.2 V138.2 M176.4,132.2 H180.4 M176.4,138.2 H180.4" stroke="#000080" stroke-width="1.0" fill="none"/>
<polygon points="174.8,136.8 181.9,136.8 178.4,131.1" fill="#fff"/>
<polygon points="174.8,136.8 181.9,136.8 178.4,131.1" fill="none" stroke="#000080" stroke-width="1.1" stroke-linejoin="miter"/>
<path d="M189.9,134.7 V140.7 M187.9,134.7 H191.9 M187.9,140.7 H191.9" stroke="#000080" stroke-width="1.0" fill="none"/>
<polygon points="186.3,139.3 193.4,139.3 189.9,133.6" fill="#fff"/>
<polygon points="186.3,139.3 193.4,139.3 189.9,133.6" fill="none" stroke="#000080" stroke-width="1.1" stroke-linejoin="miter"/>
<path d="M200.3,138.8 V144.8 M198.3,138.8 H202.3 M198.3,144.8 H202.3" stroke="#000080" stroke-width="1.0" fill="none"/>
<polygon points="196.7,143.4 203.8,143.4 200.3,137.7" fill="#fff"/>
<polygon points="196.7,143.4 203.8,143.4 200.3,137.7" fill="none" stroke="#000080" stroke-width="1.1" stroke-linejoin="miter"/>
<path d="M209.8,137 V143 M207.8,137 H211.8 M207.8,143 H211.8" stroke="#000080" stroke-width="1.0" fill="none"/>
<polygon points="206.2,141.6 213.3,141.6 209.8,135.9" fill="#fff"/>
<polygon points="206.2,141.6 213.3,141.6 209.8,135.9" fill="none" stroke="#000080" stroke-width="1.1" stroke-linejoin="miter"/>
<path d="M218.5,141.3 V147.3 M216.5,141.3 H220.5 M216.5,147.3 H220.5" stroke="#000080" stroke-width="1.0" fill="none"/>
<polygon points="215,145.9 222.1,145.9 218.5,140.2" fill="#fff"/>
<polygon points="215,145.9 222.1,145.9 218.5,140.2" fill="none" stroke="#000080" stroke-width="1.1" stroke-linejoin="miter"/>
<path d="M226.6,148 V154 M224.6,148 H228.6 M224.6,154 H228.6" stroke="#000080" stroke-width="1.0" fill="none"/>
<polygon points="223.1,152.6 230.2,152.6 226.6,146.9" fill="#fff"/>
<polygon points="223.1,152.6 230.2,152.6 226.6,146.9" fill="none" stroke="#000080" stroke-width="1.1" stroke-linejoin="miter"/>
<path d="M234.2,150.9 V156.9 M232.2,150.9 H236.2 M232.2,156.9 H236.2" stroke="#000080" stroke-width="1.0" fill="none"/>
<polygon points="230.6,155.5 237.7,155.5 234.2,149.8" fill="#fff"/>
<polygon points="230.6,155.5 237.7,155.5 234.2,149.8" fill="none" stroke="#000080" stroke-width="1.1" stroke-linejoin="miter"/>
<path d="M241.2,148 V154 M239.2,148 H243.2 M239.2,154 H243.2" stroke="#000080" stroke-width="1.0" fill="none"/>
<polygon points="237.7,152.6 244.8,152.6 241.2,146.9" fill="#fff"/>
<polygon points="237.7,152.6 244.8,152.6 241.2,146.9" fill="none" stroke="#000080" stroke-width="1.1" stroke-linejoin="miter"/>
<path d="M247.8,145 V151 M245.8,145 H249.8 M245.8,151 H249.8" stroke="#000080" stroke-width="1.0" fill="none"/>
<polygon points="244.3,149.6 251.4,149.6 247.8,143.9" fill="#fff"/>
<polygon points="244.3,149.6 251.4,149.6 247.8,143.9" fill="none" stroke="#000080" stroke-width="1.1" stroke-linejoin="miter"/>
<path d="M254.1,140 V146 M252.1,140 H256.1 M252.1,146 H256.1" stroke="#000080" stroke-width="1.0" fill="none"/>
<polygon points="250.5,144.6 257.6,144.6 254.1,138.9" fill="#fff"/>
<polygon points="250.5,144.6 257.6,144.6 254.1,138.9" fill="none" stroke="#000080" stroke-width="1.1" stroke-linejoin="miter"/>
<path d="M58.4,95 V103 M56.4,95 H60.4 M56.4,103 H60.4" stroke="#8000ff" stroke-width="1.0" fill="none"/>
<polygon points="54.9,100.6 62,100.6 58.4,94.9" fill="#fff"/>
<polygon points="54.9,100.6 62,100.6 58.4,94.9" fill="none" stroke="#8000ff" stroke-width="1.1" stroke-linejoin="miter"/>
<path d="M89.9,113.7 V121.7 M87.9,113.7 H91.9 M87.9,121.7 H91.9" stroke="#8000ff" stroke-width="1.0" fill="none"/>
<polygon points="86.3,119.3 93.4,119.3 89.9,113.6" fill="#fff"/>
<polygon points="86.3,119.3 93.4,119.3 89.9,113.6" fill="none" stroke="#8000ff" stroke-width="1.1" stroke-linejoin="miter"/>
<path d="M114.2,107 V115 M112.2,107 H116.2 M112.2,115 H116.2" stroke="#8000ff" stroke-width="1.0" fill="none"/>
<polygon points="110.7,112.6 117.8,112.6 114.2,106.9" fill="#fff"/>
<polygon points="110.7,112.6 117.8,112.6 114.2,106.9" fill="none" stroke="#8000ff" stroke-width="1.1" stroke-linejoin="miter"/>
<path d="M134.1,128.6 V135 M132.1,128.6 H136.1 M132.1,135 H136.1" stroke="#8000ff" stroke-width="1.0" fill="none"/>
<polygon points="130.6,133.4 137.7,133.4 134.1,127.7" fill="#fff"/>
<polygon points="130.6,133.4 137.7,133.4 134.1,127.7" fill="none" stroke="#8000ff" stroke-width="1.1" stroke-linejoin="miter"/>
<path d="M150.9,118 V124 M148.9,118 H152.9 M148.9,124 H152.9" stroke="#8000ff" stroke-width="1.0" fill="none"/>
<polygon points="147.4,122.6 154.5,122.6 150.9,116.9" fill="#fff"/>
<polygon points="147.4,122.6 154.5,122.6 150.9,116.9" fill="none" stroke="#8000ff" stroke-width="1.1" stroke-linejoin="miter"/>
<path d="M165.5,124.7 V130.7 M163.5,124.7 H167.5 M163.5,130.7 H167.5" stroke="#8000ff" stroke-width="1.0" fill="none"/>
<polygon points="162,129.3 169.1,129.3 165.5,123.6" fill="#fff"/>
<polygon points="162,129.3 169.1,129.3 165.5,123.6" fill="none" stroke="#8000ff" stroke-width="1.1" stroke-linejoin="miter"/>
<path d="M178.4,130.5 V136.5 M176.4,130.5 H180.4 M176.4,136.5 H180.4" stroke="#8000ff" stroke-width="1.0" fill="none"/>
<polygon points="174.8,135.1 181.9,135.1 178.4,129.4" fill="#fff"/>
<polygon points="174.8,135.1 181.9,135.1 178.4,129.4" fill="none" stroke="#8000ff" stroke-width="1.1" stroke-linejoin="miter"/>
<path d="M189.9,136.7 V142.7 M187.9,136.7 H191.9 M187.9,142.7 H191.9" stroke="#8000ff" stroke-width="1.0" fill="none"/>
<polygon points="186.3,141.3 193.4,141.3 189.9,135.6" fill="#fff"/>
<polygon points="186.3,141.3 193.4,141.3 189.9,135.6" fill="none" stroke="#8000ff" stroke-width="1.1" stroke-linejoin="miter"/>
<path d="M200.3,143 V149 M198.3,143 H202.3 M198.3,149 H202.3" stroke="#8000ff" stroke-width="1.0" fill="none"/>
<polygon points="196.7,147.6 203.8,147.6 200.3,141.9" fill="#fff"/>
<polygon points="196.7,147.6 203.8,147.6 200.3,141.9" fill="none" stroke="#8000ff" stroke-width="1.1" stroke-linejoin="miter"/>
<path d="M209.8,138.8 V144.8 M207.8,138.8 H211.8 M207.8,144.8 H211.8" stroke="#8000ff" stroke-width="1.0" fill="none"/>
<polygon points="206.2,143.4 213.3,143.4 209.8,137.7" fill="#fff"/>
<polygon points="206.2,143.4 213.3,143.4 209.8,137.7" fill="none" stroke="#8000ff" stroke-width="1.1" stroke-linejoin="miter"/>
<path d="M218.5,146.3 V152.3 M216.5,146.3 H220.5 M216.5,152.3 H220.5" stroke="#8000ff" stroke-width="1.0" fill="none"/>
<polygon points="215,150.9 222.1,150.9 218.5,145.2" fill="#fff"/>
<polygon points="215,150.9 222.1,150.9 218.5,145.2" fill="none" stroke="#8000ff" stroke-width="1.1" stroke-linejoin="miter"/>
<path d="M226.6,155.1 V161.1 M224.6,155.1 H228.6 M224.6,161.1 H228.6" stroke="#8000ff" stroke-width="1.0" fill="none"/>
<polygon points="223.1,159.7 230.2,159.7 226.6,154" fill="#fff"/>
<polygon points="223.1,159.7 230.2,159.7 226.6,154" fill="none" stroke="#8000ff" stroke-width="1.1" stroke-linejoin="miter"/>
<path d="M234.2,155.1 V161.1 M232.2,155.1 H236.2 M232.2,161.1 H236.2" stroke="#8000ff" stroke-width="1.0" fill="none"/>
<polygon points="230.6,159.7 237.7,159.7 234.2,154" fill="#fff"/>
<polygon points="230.6,159.7 237.7,159.7 234.2,154" fill="none" stroke="#8000ff" stroke-width="1.1" stroke-linejoin="miter"/>
<path d="M241.2,149 V155 M239.2,149 H243.2 M239.2,155 H243.2" stroke="#8000ff" stroke-width="1.0" fill="none"/>
<polygon points="237.7,153.6 244.8,153.6 241.2,147.9" fill="#fff"/>
<polygon points="237.7,153.6 244.8,153.6 241.2,147.9" fill="none" stroke="#8000ff" stroke-width="1.1" stroke-linejoin="miter"/>
<path d="M247.8,146 V152 M245.8,146 H249.8 M245.8,152 H249.8" stroke="#8000ff" stroke-width="1.0" fill="none"/>
<polygon points="244.3,150.6 251.4,150.6 247.8,144.9" fill="#fff"/>
<polygon points="244.3,150.6 251.4,150.6 247.8,144.9" fill="none" stroke="#8000ff" stroke-width="1.1" stroke-linejoin="miter"/>
<path d="M254.1,134 V140 M252.1,134 H256.1 M252.1,140 H256.1" stroke="#8000ff" stroke-width="1.0" fill="none"/>
<polygon points="250.5,138.6 257.6,138.6 254.1,132.9" fill="#fff"/>
<polygon points="250.5,138.6 257.6,138.6 254.1,132.9" fill="none" stroke="#8000ff" stroke-width="1.1" stroke-linejoin="miter"/>
<path d="M58.4,101.5 V109.5 M56.4,101.5 H60.4 M56.4,109.5 H60.4" stroke="#ff00ff" stroke-width="1.0" fill="none"/>
<polygon points="54.9,107.1 62,107.1 58.4,101.4" fill="#fff"/>
<polygon points="54.9,107.1 62,107.1 58.4,101.4" fill="none" stroke="#ff00ff" stroke-width="1.1" stroke-linejoin="miter"/>
<path d="M89.9,113.7 V121.7 M87.9,113.7 H91.9 M87.9,121.7 H91.9" stroke="#ff00ff" stroke-width="1.0" fill="none"/>
<polygon points="86.3,119.3 93.4,119.3 89.9,113.6" fill="#fff"/>
<polygon points="86.3,119.3 93.4,119.3 89.9,113.6" fill="none" stroke="#ff00ff" stroke-width="1.1" stroke-linejoin="miter"/>
<path d="M114.2,110.3 V118.3 M112.2,110.3 H116.2 M112.2,118.3 H116.2" stroke="#ff00ff" stroke-width="1.0" fill="none"/>
<polygon points="110.7,115.9 117.8,115.9 114.2,110.2" fill="#fff"/>
<polygon points="110.7,115.9 117.8,115.9 114.2,110.2" fill="none" stroke="#ff00ff" stroke-width="1.1" stroke-linejoin="miter"/>
<path d="M134.1,131.1 V137.5 M132.1,131.1 H136.1 M132.1,137.5 H136.1" stroke="#ff00ff" stroke-width="1.0" fill="none"/>
<polygon points="130.6,135.9 137.7,135.9 134.1,130.2" fill="#fff"/>
<polygon points="130.6,135.9 137.7,135.9 134.1,130.2" fill="none" stroke="#ff00ff" stroke-width="1.1" stroke-linejoin="miter"/>
<path d="M150.9,121.3 V127.3 M148.9,121.3 H152.9 M148.9,127.3 H152.9" stroke="#ff00ff" stroke-width="1.0" fill="none"/>
<polygon points="147.4,125.9 154.5,125.9 150.9,120.2" fill="#fff"/>
<polygon points="147.4,125.9 154.5,125.9 150.9,120.2" fill="none" stroke="#ff00ff" stroke-width="1.1" stroke-linejoin="miter"/>
<path d="M165.5,128 V134 M163.5,128 H167.5 M163.5,134 H167.5" stroke="#ff00ff" stroke-width="1.0" fill="none"/>
<polygon points="162,132.6 169.1,132.6 165.5,126.9" fill="#fff"/>
<polygon points="162,132.6 169.1,132.6 165.5,126.9" fill="none" stroke="#ff00ff" stroke-width="1.1" stroke-linejoin="miter"/>
<path d="M178.4,133 V139 M176.4,133 H180.4 M176.4,139 H180.4" stroke="#ff00ff" stroke-width="1.0" fill="none"/>
<polygon points="174.8,137.6 181.9,137.6 178.4,131.9" fill="#fff"/>
<polygon points="174.8,137.6 181.9,137.6 178.4,131.9" fill="none" stroke="#ff00ff" stroke-width="1.1" stroke-linejoin="miter"/>
<path d="M189.9,136.7 V142.7 M187.9,136.7 H191.9 M187.9,142.7 H191.9" stroke="#ff00ff" stroke-width="1.0" fill="none"/>
<polygon points="186.3,141.3 193.4,141.3 189.9,135.6" fill="#fff"/>
<polygon points="186.3,141.3 193.4,141.3 189.9,135.6" fill="none" stroke="#ff00ff" stroke-width="1.1" stroke-linejoin="miter"/>
<path d="M200.3,145.5 V151.5 M198.3,145.5 H202.3 M198.3,151.5 H202.3" stroke="#ff00ff" stroke-width="1.0" fill="none"/>
<polygon points="196.7,150.1 203.8,150.1 200.3,144.4" fill="#fff"/>
<polygon points="196.7,150.1 203.8,150.1 200.3,144.4" fill="none" stroke="#ff00ff" stroke-width="1.1" stroke-linejoin="miter"/>
<path d="M209.8,140.5 V146.5 M207.8,140.5 H211.8 M207.8,146.5 H211.8" stroke="#ff00ff" stroke-width="1.0" fill="none"/>
<polygon points="206.2,145.1 213.3,145.1 209.8,139.4" fill="#fff"/>
<polygon points="206.2,145.1 213.3,145.1 209.8,139.4" fill="none" stroke="#ff00ff" stroke-width="1.1" stroke-linejoin="miter"/>
<path d="M218.5,148 V154 M216.5,148 H220.5 M216.5,154 H220.5" stroke="#ff00ff" stroke-width="1.0" fill="none"/>
<polygon points="215,152.6 222.1,152.6 218.5,146.9" fill="#fff"/>
<polygon points="215,152.6 222.1,152.6 218.5,146.9" fill="none" stroke="#ff00ff" stroke-width="1.1" stroke-linejoin="miter"/>
<path d="M226.6,155.1 V161.1 M224.6,155.1 H228.6 M224.6,161.1 H228.6" stroke="#ff00ff" stroke-width="1.0" fill="none"/>
<polygon points="223.1,159.7 230.2,159.7 226.6,154" fill="#fff"/>
<polygon points="223.1,159.7 230.2,159.7 226.6,154" fill="none" stroke="#ff00ff" stroke-width="1.1" stroke-linejoin="miter"/>
<path d="M234.2,155.1 V161.1 M232.2,155.1 H236.2 M232.2,161.1 H236.2" stroke="#ff00ff" stroke-width="1.0" fill="none"/>
<polygon points="230.6,159.7 237.7,159.7 234.2,154" fill="#fff"/>
<polygon points="230.6,159.7 237.7,159.7 234.2,154" fill="none" stroke="#ff00ff" stroke-width="1.1" stroke-linejoin="miter"/>
<path d="M241.2,150.9 V156.9 M239.2,150.9 H243.2 M239.2,156.9 H243.2" stroke="#ff00ff" stroke-width="1.0" fill="none"/>
<polygon points="237.7,155.5 244.8,155.5 241.2,149.8" fill="#fff"/>
<polygon points="237.7,155.5 244.8,155.5 241.2,149.8" fill="none" stroke="#ff00ff" stroke-width="1.1" stroke-linejoin="miter"/>
<path d="M247.8,150 V156 M245.8,150 H249.8 M245.8,156 H249.8" stroke="#ff00ff" stroke-width="1.0" fill="none"/>
<polygon points="244.3,154.6 251.4,154.6 247.8,148.9" fill="#fff"/>
<polygon points="244.3,154.6 251.4,154.6 247.8,148.9" fill="none" stroke="#ff00ff" stroke-width="1.1" stroke-linejoin="miter"/>
<path d="M254.1,144 V150 M252.1,144 H256.1 M252.1,150 H256.1" stroke="#ff00ff" stroke-width="1.0" fill="none"/>
<polygon points="250.5,148.6 257.6,148.6 254.1,142.9" fill="#fff"/>
<polygon points="250.5,148.6 257.6,148.6 254.1,142.9" fill="none" stroke="#ff00ff" stroke-width="1.1" stroke-linejoin="miter"/>
<path d="M271,19.5 V49.5 M269,19.5 H273 M269,49.5 H273" stroke="#ff0000" stroke-width="1.0" fill="none"/>
<polygon points="267.5,36.1 274.6,36.1 271,30.4" fill="#ff0000" stroke="#ff0000" stroke-width="1.1" stroke-linejoin="miter"/>
<path d="M302.5,38.2 V68.2 M300.5,38.2 H304.5 M300.5,68.2 H304.5" stroke="#ff0000" stroke-width="1.0" fill="none"/>
<polygon points="298.9,54.8 306,54.8 302.5,49.1" fill="#ff0000" stroke="#ff0000" stroke-width="1.1" stroke-linejoin="miter"/>
<path d="M326.8,46 V70 M324.8,46 H328.8 M324.8,70 H328.8" stroke="#ff0000" stroke-width="1.0" fill="none"/>
<polygon points="323.3,59.6 330.4,59.6 326.8,53.9" fill="#ff0000" stroke="#ff0000" stroke-width="1.1" stroke-linejoin="miter"/>
<path d="M346.7,59.4 V83.4 M344.7,59.4 H348.7 M344.7,83.4 H348.7" stroke="#ff0000" stroke-width="1.0" fill="none"/>
<polygon points="343.2,73 350.3,73 346.7,67.3" fill="#ff0000" stroke="#ff0000" stroke-width="1.1" stroke-linejoin="miter"/>
<path d="M363.5,65.7 V88.7 M361.5,65.7 H365.5 M361.5,88.7 H365.5" stroke="#ff0000" stroke-width="1.0" fill="none"/>
<polygon points="360,78.8 367.1,78.8 363.5,73.1" fill="#ff0000" stroke="#ff0000" stroke-width="1.1" stroke-linejoin="miter"/>
<path d="M378.1,71.1 V90.1 M376.1,71.1 H380.1 M376.1,90.1 H380.1" stroke="#ff0000" stroke-width="1.0" fill="none"/>
<polygon points="374.6,82.2 381.7,82.2 378.1,76.5" fill="#ff0000" stroke="#ff0000" stroke-width="1.1" stroke-linejoin="miter"/>
<path d="M391,86.4 V99.4 M389,86.4 H393 M389,99.4 H393" stroke="#ff0000" stroke-width="1.0" fill="none"/>
<polygon points="387.4,94.5 394.5,94.5 391,88.8" fill="#ff0000" stroke="#ff0000" stroke-width="1.1" stroke-linejoin="miter"/>
<path d="M402.5,96.5 V106.5 M400.5,96.5 H404.5 M400.5,106.5 H404.5" stroke="#ff0000" stroke-width="1.0" fill="none"/>
<polygon points="398.9,103.1 406,103.1 402.5,97.4" fill="#ff0000" stroke="#ff0000" stroke-width="1.1" stroke-linejoin="miter"/>
<path d="M412.9,112.2 V121.2 M410.9,112.2 H414.9 M410.9,121.2 H414.9" stroke="#ff0000" stroke-width="1.0" fill="none"/>
<polygon points="409.3,118.3 416.4,118.3 412.9,112.6" fill="#ff0000" stroke="#ff0000" stroke-width="1.1" stroke-linejoin="miter"/>
<path d="M422.4,116.5 V125.5 M420.4,116.5 H424.4 M420.4,125.5 H424.4" stroke="#ff0000" stroke-width="1.0" fill="none"/>
<polygon points="418.8,122.6 425.9,122.6 422.4,116.9" fill="#ff0000" stroke="#ff0000" stroke-width="1.1" stroke-linejoin="miter"/>
<path d="M431.1,127 V135 M429.1,127 H433.1 M429.1,135 H433.1" stroke="#ff0000" stroke-width="1.0" fill="none"/>
<polygon points="427.6,132.6 434.7,132.6 431.1,126.9" fill="#ff0000" stroke="#ff0000" stroke-width="1.1" stroke-linejoin="miter"/>
<path d="M439.2,129.6 V137.6 M437.2,129.6 H441.2 M437.2,137.6 H441.2" stroke="#ff0000" stroke-width="1.0" fill="none"/>
<polygon points="435.7,135.2 442.8,135.2 439.2,129.5" fill="#ff0000" stroke="#ff0000" stroke-width="1.1" stroke-linejoin="miter"/>
<path d="M446.8,137 V145 M444.8,137 H448.8 M444.8,145 H448.8" stroke="#ff0000" stroke-width="1.0" fill="none"/>
<polygon points="443.2,142.6 450.3,142.6 446.8,136.9" fill="#ff0000" stroke="#ff0000" stroke-width="1.1" stroke-linejoin="miter"/>
<path d="M453.8,132 V140 M451.8,132 H455.8 M451.8,140 H455.8" stroke="#ff0000" stroke-width="1.0" fill="none"/>
<polygon points="450.3,137.6 457.4,137.6 453.8,131.9" fill="#ff0000" stroke="#ff0000" stroke-width="1.1" stroke-linejoin="miter"/>
<path d="M460.4,120.5 V132.5 M458.4,120.5 H462.4 M458.4,132.5 H462.4" stroke="#ff0000" stroke-width="1.0" fill="none"/>
<polygon points="456.9,128.1 464,128.1 460.4,122.4" fill="#ff0000" stroke="#ff0000" stroke-width="1.1" stroke-linejoin="miter"/>
<path d="M466.7,137 V145 M464.7,137 H468.7 M464.7,145 H468.7" stroke="#ff0000" stroke-width="1.0" fill="none"/>
<polygon points="463.1,142.6 470.2,142.6 466.7,136.9" fill="#ff0000" stroke="#ff0000" stroke-width="1.1" stroke-linejoin="miter"/>
<path d="M271,56.8 V90.8 M269,56.8 H273 M269,90.8 H273" stroke="#ff8000" stroke-width="1.0" fill="none"/>
<polygon points="267.5,75.4 274.6,75.4 271,69.7" fill="#ff8000" stroke="#ff8000" stroke-width="1.1" stroke-linejoin="miter"/>
<path d="M302.5,71.9 V93.9 M300.5,71.9 H304.5 M300.5,93.9 H304.5" stroke="#ff8000" stroke-width="1.0" fill="none"/>
<polygon points="298.9,84.5 306,84.5 302.5,78.8" fill="#ff8000" stroke="#ff8000" stroke-width="1.1" stroke-linejoin="miter"/>
<path d="M326.8,81.4 V97.4 M324.8,81.4 H328.8 M324.8,97.4 H328.8" stroke="#ff8000" stroke-width="1.0" fill="none"/>
<polygon points="323.3,91 330.4,91 326.8,85.3" fill="#ff8000" stroke="#ff8000" stroke-width="1.1" stroke-linejoin="miter"/>
<path d="M346.7,92.4 V106.4 M344.7,92.4 H348.7 M344.7,106.4 H348.7" stroke="#ff8000" stroke-width="1.0" fill="none"/>
<polygon points="343.2,101 350.3,101 346.7,95.3" fill="#ff8000" stroke="#ff8000" stroke-width="1.1" stroke-linejoin="miter"/>
<path d="M363.5,88.5 V102.5 M361.5,88.5 H365.5 M361.5,102.5 H365.5" stroke="#ff8000" stroke-width="1.0" fill="none"/>
<polygon points="360,97.1 367.1,97.1 363.5,91.4" fill="#ff8000" stroke="#ff8000" stroke-width="1.1" stroke-linejoin="miter"/>
<path d="M378.1,92.6 V104.6 M376.1,92.6 H380.1 M376.1,104.6 H380.1" stroke="#ff8000" stroke-width="1.0" fill="none"/>
<polygon points="374.6,100.2 381.7,100.2 378.1,94.5" fill="#ff8000" stroke="#ff8000" stroke-width="1.1" stroke-linejoin="miter"/>
<path d="M391,106.7 V116.7 M389,106.7 H393 M389,116.7 H393" stroke="#ff8000" stroke-width="1.0" fill="none"/>
<polygon points="387.4,113.3 394.5,113.3 391,107.6" fill="#ff8000" stroke="#ff8000" stroke-width="1.1" stroke-linejoin="miter"/>
<path d="M402.5,105.5 V114.5 M400.5,105.5 H404.5 M400.5,114.5 H404.5" stroke="#ff8000" stroke-width="1.0" fill="none"/>
<polygon points="398.9,111.6 406,111.6 402.5,105.9" fill="#ff8000" stroke="#ff8000" stroke-width="1.1" stroke-linejoin="miter"/>
<path d="M412.9,117.5 V125.5 M410.9,117.5 H414.9 M410.9,125.5 H414.9" stroke="#ff8000" stroke-width="1.0" fill="none"/>
<polygon points="409.3,123.1 416.4,123.1 412.9,117.4" fill="#ff8000" stroke="#ff8000" stroke-width="1.1" stroke-linejoin="miter"/>
<path d="M422.4,115.5 V123.5 M420.4,115.5 H424.4 M420.4,123.5 H424.4" stroke="#ff8000" stroke-width="1.0" fill="none"/>
<polygon points="418.8,121.1 425.9,121.1 422.4,115.4" fill="#ff8000" stroke="#ff8000" stroke-width="1.1" stroke-linejoin="miter"/>
<path d="M431.1,127 V135 M429.1,127 H433.1 M429.1,135 H433.1" stroke="#ff8000" stroke-width="1.0" fill="none"/>
<polygon points="427.6,132.6 434.7,132.6 431.1,126.9" fill="#ff8000" stroke="#ff8000" stroke-width="1.1" stroke-linejoin="miter"/>
<path d="M439.2,129.6 V137.6 M437.2,129.6 H441.2 M437.2,137.6 H441.2" stroke="#ff8000" stroke-width="1.0" fill="none"/>
<polygon points="435.7,135.2 442.8,135.2 439.2,129.5" fill="#ff8000" stroke="#ff8000" stroke-width="1.1" stroke-linejoin="miter"/>
<path d="M446.8,138 V146 M444.8,138 H448.8 M444.8,146 H448.8" stroke="#ff8000" stroke-width="1.0" fill="none"/>
<polygon points="443.2,143.6 450.3,143.6 446.8,137.9" fill="#ff8000" stroke="#ff8000" stroke-width="1.1" stroke-linejoin="miter"/>
<path d="M453.8,129.6 V137.6 M451.8,129.6 H455.8 M451.8,137.6 H455.8" stroke="#ff8000" stroke-width="1.0" fill="none"/>
<polygon points="450.3,135.2 457.4,135.2 453.8,129.5" fill="#ff8000" stroke="#ff8000" stroke-width="1.1" stroke-linejoin="miter"/>
<path d="M460.4,126.9 V136.9 M458.4,126.9 H462.4 M458.4,136.9 H462.4" stroke="#ff8000" stroke-width="1.0" fill="none"/>
<polygon points="456.9,133.5 464,133.5 460.4,127.8" fill="#ff8000" stroke="#ff8000" stroke-width="1.1" stroke-linejoin="miter"/>
<path d="M466.7,132 V140 M464.7,132 H468.7 M464.7,140 H468.7" stroke="#ff8000" stroke-width="1.0" fill="none"/>
<polygon points="463.1,137.6 470.2,137.6 466.7,131.9" fill="#ff8000" stroke="#ff8000" stroke-width="1.1" stroke-linejoin="miter"/>
<path d="M271,83.3 V107.3 M269,83.3 H273 M269,107.3 H273" stroke="#00ff00" stroke-width="1.0" fill="none"/>
<polygon points="267.5,96.9 274.6,96.9 271,91.2" fill="#00ff00" stroke="#00ff00" stroke-width="1.1" stroke-linejoin="miter"/>
<path d="M302.5,97.5 V113.5 M300.5,97.5 H304.5 M300.5,113.5 H304.5" stroke="#00ff00" stroke-width="1.0" fill="none"/>
<polygon points="298.9,107.1 306,107.1 302.5,101.4" fill="#00ff00" stroke="#00ff00" stroke-width="1.1" stroke-linejoin="miter"/>
<path d="M326.8,95.2 V107.2 M324.8,95.2 H328.8 M324.8,107.2 H328.8" stroke="#00ff00" stroke-width="1.0" fill="none"/>
<polygon points="323.3,102.8 330.4,102.8 326.8,97.1" fill="#00ff00" stroke="#00ff00" stroke-width="1.1" stroke-linejoin="miter"/>
<path d="M346.7,108.8 V118.8 M344.7,108.8 H348.7 M344.7,118.8 H348.7" stroke="#00ff00" stroke-width="1.0" fill="none"/>
<polygon points="343.2,115.4 350.3,115.4 346.7,109.7" fill="#00ff00" stroke="#00ff00" stroke-width="1.1" stroke-linejoin="miter"/>
<path d="M363.5,108.8 V118.8 M361.5,108.8 H365.5 M361.5,118.8 H365.5" stroke="#00ff00" stroke-width="1.0" fill="none"/>
<polygon points="360,115.4 367.1,115.4 363.5,109.7" fill="#00ff00" stroke="#00ff00" stroke-width="1.1" stroke-linejoin="miter"/>
<path d="M378.1,109.6 V119.6 M376.1,109.6 H380.1 M376.1,119.6 H380.1" stroke="#00ff00" stroke-width="1.0" fill="none"/>
<polygon points="374.6,116.2 381.7,116.2 378.1,110.5" fill="#00ff00" stroke="#00ff00" stroke-width="1.1" stroke-linejoin="miter"/>
<path d="M391,117.2 V125.2 M389,117.2 H393 M389,125.2 H393" stroke="#00ff00" stroke-width="1.0" fill="none"/>
<polygon points="387.4,122.8 394.5,122.8 391,117.1" fill="#00ff00" stroke="#00ff00" stroke-width="1.1" stroke-linejoin="miter"/>
<path d="M402.5,114.6 V122.6 M400.5,114.6 H404.5 M400.5,122.6 H404.5" stroke="#00ff00" stroke-width="1.0" fill="none"/>
<polygon points="398.9,120.2 406,120.2 402.5,114.5" fill="#00ff00" stroke="#00ff00" stroke-width="1.1" stroke-linejoin="miter"/>
<path d="M412.9,128 V136 M410.9,128 H414.9 M410.9,136 H414.9" stroke="#00ff00" stroke-width="1.0" fill="none"/>
<polygon points="409.3,133.6 416.4,133.6 412.9,127.9" fill="#00ff00" stroke="#00ff00" stroke-width="1.1" stroke-linejoin="miter"/>
<path d="M422.4,120.3 V128.3 M420.4,120.3 H424.4 M420.4,128.3 H424.4" stroke="#00ff00" stroke-width="1.0" fill="none"/>
<polygon points="418.8,125.9 425.9,125.9 422.4,120.2" fill="#00ff00" stroke="#00ff00" stroke-width="1.1" stroke-linejoin="miter"/>
<path d="M431.1,133.7 V141.7 M429.1,133.7 H433.1 M429.1,141.7 H433.1" stroke="#00ff00" stroke-width="1.0" fill="none"/>
<polygon points="427.6,139.3 434.7,139.3 431.1,133.6" fill="#00ff00" stroke="#00ff00" stroke-width="1.1" stroke-linejoin="miter"/>
<path d="M439.2,138.2 V146.2 M437.2,138.2 H441.2 M437.2,146.2 H441.2" stroke="#00ff00" stroke-width="1.0" fill="none"/>
<polygon points="435.7,143.8 442.8,143.8 439.2,138.1" fill="#00ff00" stroke="#00ff00" stroke-width="1.1" stroke-linejoin="miter"/>
<path d="M446.8,133 V141 M444.8,133 H448.8 M444.8,141 H448.8" stroke="#00ff00" stroke-width="1.0" fill="none"/>
<polygon points="443.2,138.6 450.3,138.6 446.8,132.9" fill="#00ff00" stroke="#00ff00" stroke-width="1.1" stroke-linejoin="miter"/>
<path d="M453.8,135.6 V143.6 M451.8,135.6 H455.8 M451.8,143.6 H455.8" stroke="#00ff00" stroke-width="1.0" fill="none"/>
<polygon points="450.3,141.2 457.4,141.2 453.8,135.5" fill="#00ff00" stroke="#00ff00" stroke-width="1.1" stroke-linejoin="miter"/>
<path d="M460.4,131.3 V139.3 M458.4,131.3 H462.4 M458.4,139.3 H462.4" stroke="#00ff00" stroke-width="1.0" fill="none"/>
<polygon points="456.9,136.9 464,136.9 460.4,131.2" fill="#00ff00" stroke="#00ff00" stroke-width="1.1" stroke-linejoin="miter"/>
<path d="M466.7,135 V143 M464.7,135 H468.7 M464.7,143 H468.7" stroke="#00ff00" stroke-width="1.0" fill="none"/>
<polygon points="463.1,140.6 470.2,140.6 466.7,134.9" fill="#00ff00" stroke="#00ff00" stroke-width="1.1" stroke-linejoin="miter"/>
<path d="M271,104.6 V114.6 M269,104.6 H273 M269,114.6 H273" stroke="#008000" stroke-width="1.0" fill="none"/>
<polygon points="267.5,111.2 274.6,111.2 271,105.5" fill="#008000" stroke="#008000" stroke-width="1.1" stroke-linejoin="miter"/>
<path d="M302.5,114.3 V124.3 M300.5,114.3 H304.5 M300.5,124.3 H304.5" stroke="#008000" stroke-width="1.0" fill="none"/>
<polygon points="298.9,120.9 306,120.9 302.5,115.2" fill="#008000" stroke="#008000" stroke-width="1.1" stroke-linejoin="miter"/>
<path d="M326.8,112.4 V121.4 M324.8,112.4 H328.8 M324.8,121.4 H328.8" stroke="#008000" stroke-width="1.0" fill="none"/>
<polygon points="323.3,118.5 330.4,118.5 326.8,112.8" fill="#008000" stroke="#008000" stroke-width="1.1" stroke-linejoin="miter"/>
<path d="M346.7,119 V127 M344.7,119 H348.7 M344.7,127 H348.7" stroke="#008000" stroke-width="1.0" fill="none"/>
<polygon points="343.2,124.6 350.3,124.6 346.7,118.9" fill="#008000" stroke="#008000" stroke-width="1.1" stroke-linejoin="miter"/>
<path d="M363.5,119 V127 M361.5,119 H365.5 M361.5,127 H365.5" stroke="#008000" stroke-width="1.0" fill="none"/>
<polygon points="360,124.6 367.1,124.6 363.5,118.9" fill="#008000" stroke="#008000" stroke-width="1.1" stroke-linejoin="miter"/>
<path d="M378.1,117.7 V125.7 M376.1,117.7 H380.1 M376.1,125.7 H380.1" stroke="#008000" stroke-width="1.0" fill="none"/>
<polygon points="374.6,123.3 381.7,123.3 378.1,117.6" fill="#008000" stroke="#008000" stroke-width="1.1" stroke-linejoin="miter"/>
<path d="M391,125.5 V133.5 M389,125.5 H393 M389,133.5 H393" stroke="#008000" stroke-width="1.0" fill="none"/>
<polygon points="387.4,131.1 394.5,131.1 391,125.4" fill="#008000" stroke="#008000" stroke-width="1.1" stroke-linejoin="miter"/>
<path d="M402.5,121.3 V129.3 M400.5,121.3 H404.5 M400.5,129.3 H404.5" stroke="#008000" stroke-width="1.0" fill="none"/>
<polygon points="398.9,126.9 406,126.9 402.5,121.2" fill="#008000" stroke="#008000" stroke-width="1.1" stroke-linejoin="miter"/>
<path d="M412.9,129.9 V137.9 M410.9,129.9 H414.9 M410.9,137.9 H414.9" stroke="#008000" stroke-width="1.0" fill="none"/>
<polygon points="409.3,135.5 416.4,135.5 412.9,129.8" fill="#008000" stroke="#008000" stroke-width="1.1" stroke-linejoin="miter"/>
<path d="M422.4,128 V136 M420.4,128 H424.4 M420.4,136 H424.4" stroke="#008000" stroke-width="1.0" fill="none"/>
<polygon points="418.8,133.6 425.9,133.6 422.4,127.9" fill="#008000" stroke="#008000" stroke-width="1.1" stroke-linejoin="miter"/>
<path d="M431.1,143.2 V151.2 M429.1,143.2 H433.1 M429.1,151.2 H433.1" stroke="#008000" stroke-width="1.0" fill="none"/>
<polygon points="427.6,148.8 434.7,148.8 431.1,143.1" fill="#008000" stroke="#008000" stroke-width="1.1" stroke-linejoin="miter"/>
<path d="M439.2,142.5 V150.5 M437.2,142.5 H441.2 M437.2,150.5 H441.2" stroke="#008000" stroke-width="1.0" fill="none"/>
<polygon points="435.7,148.1 442.8,148.1 439.2,142.4" fill="#008000" stroke="#008000" stroke-width="1.1" stroke-linejoin="miter"/>
<path d="M446.8,138.2 V146.2 M444.8,138.2 H448.8 M444.8,146.2 H448.8" stroke="#008000" stroke-width="1.0" fill="none"/>
<polygon points="443.2,143.8 450.3,143.8 446.8,138.1" fill="#008000" stroke="#008000" stroke-width="1.1" stroke-linejoin="miter"/>
<path d="M453.8,139 V147 M451.8,139 H455.8 M451.8,147 H455.8" stroke="#008000" stroke-width="1.0" fill="none"/>
<polygon points="450.3,144.6 457.4,144.6 453.8,138.9" fill="#008000" stroke="#008000" stroke-width="1.1" stroke-linejoin="miter"/>
<path d="M460.4,137.2 V147.2 M458.4,137.2 H462.4 M458.4,147.2 H462.4" stroke="#008000" stroke-width="1.0" fill="none"/>
<polygon points="456.9,143.8 464,143.8 460.4,138.1" fill="#008000" stroke="#008000" stroke-width="1.1" stroke-linejoin="miter"/>
<path d="M466.7,136 V146 M464.7,136 H468.7 M464.7,146 H468.7" stroke="#008000" stroke-width="1.0" fill="none"/>
<polygon points="463.1,142.6 470.2,142.6 466.7,136.9" fill="#008000" stroke="#008000" stroke-width="1.1" stroke-linejoin="miter"/>
<path d="M271,107.4 V117.4 M269,107.4 H273 M269,117.4 H273" stroke="#008080" stroke-width="1.0" fill="none"/>
<polygon points="267.5,114 274.6,114 271,108.3" fill="#008080" stroke="#008080" stroke-width="1.1" stroke-linejoin="miter"/>
<path d="M302.5,126.5 V136.5 M300.5,126.5 H304.5 M300.5,136.5 H304.5" stroke="#008080" stroke-width="1.0" fill="none"/>
<polygon points="298.9,133.1 306,133.1 302.5,127.4" fill="#008080" stroke="#008080" stroke-width="1.1" stroke-linejoin="miter"/>
<path d="M326.8,119.7 V128.7 M324.8,119.7 H328.8 M324.8,128.7 H328.8" stroke="#008080" stroke-width="1.0" fill="none"/>
<polygon points="323.3,125.8 330.4,125.8 326.8,120.1" fill="#008080" stroke="#008080" stroke-width="1.1" stroke-linejoin="miter"/>
<path d="M346.7,126.8 V134.8 M344.7,126.8 H348.7 M344.7,134.8 H348.7" stroke="#008080" stroke-width="1.0" fill="none"/>
<polygon points="343.2,132.4 350.3,132.4 346.7,126.7" fill="#008080" stroke="#008080" stroke-width="1.1" stroke-linejoin="miter"/>
<path d="M363.5,130.8 V138.8 M361.5,130.8 H365.5 M361.5,138.8 H365.5" stroke="#008080" stroke-width="1.0" fill="none"/>
<polygon points="360,136.4 367.1,136.4 363.5,130.7" fill="#008080" stroke="#008080" stroke-width="1.1" stroke-linejoin="miter"/>
<path d="M378.1,130.8 V138.8 M376.1,130.8 H380.1 M376.1,138.8 H380.1" stroke="#008080" stroke-width="1.0" fill="none"/>
<polygon points="374.6,136.4 381.7,136.4 378.1,130.7" fill="#008080" stroke="#008080" stroke-width="1.1" stroke-linejoin="miter"/>
<path d="M391,133.4 V141.4 M389,133.4 H393 M389,141.4 H393" stroke="#008080" stroke-width="1.0" fill="none"/>
<polygon points="387.4,139 394.5,139 391,133.3" fill="#008080" stroke="#008080" stroke-width="1.1" stroke-linejoin="miter"/>
<path d="M402.5,128 V136 M400.5,128 H404.5 M400.5,136 H404.5" stroke="#008080" stroke-width="1.0" fill="none"/>
<polygon points="398.9,133.6 406,133.6 402.5,127.9" fill="#008080" stroke="#008080" stroke-width="1.1" stroke-linejoin="miter"/>
<path d="M412.9,132.7 V140.7 M410.9,132.7 H414.9 M410.9,140.7 H414.9" stroke="#008080" stroke-width="1.0" fill="none"/>
<polygon points="409.3,138.3 416.4,138.3 412.9,132.6" fill="#008080" stroke="#008080" stroke-width="1.1" stroke-linejoin="miter"/>
<path d="M422.4,131.8 V139.8 M420.4,131.8 H424.4 M420.4,139.8 H424.4" stroke="#008080" stroke-width="1.0" fill="none"/>
<polygon points="418.8,137.4 425.9,137.4 422.4,131.7" fill="#008080" stroke="#008080" stroke-width="1.1" stroke-linejoin="miter"/>
<path d="M431.1,146 V154 M429.1,146 H433.1 M429.1,154 H433.1" stroke="#008080" stroke-width="1.0" fill="none"/>
<polygon points="427.6,151.6 434.7,151.6 431.1,145.9" fill="#008080" stroke="#008080" stroke-width="1.1" stroke-linejoin="miter"/>
<path d="M439.2,145 V153 M437.2,145 H441.2 M437.2,153 H441.2" stroke="#008080" stroke-width="1.0" fill="none"/>
<polygon points="435.7,150.6 442.8,150.6 439.2,144.9" fill="#008080" stroke="#008080" stroke-width="1.1" stroke-linejoin="miter"/>
<path d="M446.8,141 V149 M444.8,141 H448.8 M444.8,149 H448.8" stroke="#008080" stroke-width="1.0" fill="none"/>
<polygon points="443.2,146.6 450.3,146.6 446.8,140.9" fill="#008080" stroke="#008080" stroke-width="1.1" stroke-linejoin="miter"/>
<path d="M453.8,145 V153 M451.8,145 H455.8 M451.8,153 H455.8" stroke="#008080" stroke-width="1.0" fill="none"/>
<polygon points="450.3,150.6 457.4,150.6 453.8,144.9" fill="#008080" stroke="#008080" stroke-width="1.1" stroke-linejoin="miter"/>
<path d="M460.4,134.6 V144.6 M458.4,134.6 H462.4 M458.4,144.6 H462.4" stroke="#008080" stroke-width="1.0" fill="none"/>
<polygon points="456.9,141.2 464,141.2 460.4,135.5" fill="#008080" stroke="#008080" stroke-width="1.1" stroke-linejoin="miter"/>
<path d="M466.7,126.9 V136.9 M464.7,126.9 H468.7 M464.7,136.9 H468.7" stroke="#008080" stroke-width="1.0" fill="none"/>
<polygon points="463.1,133.5 470.2,133.5 466.7,127.8" fill="#008080" stroke="#008080" stroke-width="1.1" stroke-linejoin="miter"/>
<path d="M271,116 V126 M269,116 H273 M269,126 H273" stroke="#00ffff" stroke-width="1.0" fill="none"/>
<polygon points="267.5,122.6 274.6,122.6 271,116.9" fill="#00ffff" stroke="#00ffff" stroke-width="1.1" stroke-linejoin="miter"/>
<path d="M302.5,126.5 V136.5 M300.5,126.5 H304.5 M300.5,136.5 H304.5" stroke="#00ffff" stroke-width="1.0" fill="none"/>
<polygon points="298.9,133.1 306,133.1 302.5,127.4" fill="#00ffff" stroke="#00ffff" stroke-width="1.1" stroke-linejoin="miter"/>
<path d="M326.8,130.7 V139.7 M324.8,130.7 H328.8 M324.8,139.7 H328.8" stroke="#00ffff" stroke-width="1.0" fill="none"/>
<polygon points="323.3,136.8 330.4,136.8 326.8,131.1" fill="#00ffff" stroke="#00ffff" stroke-width="1.1" stroke-linejoin="miter"/>
<path d="M346.7,131.3 V139.3 M344.7,131.3 H348.7 M344.7,139.3 H348.7" stroke="#00ffff" stroke-width="1.0" fill="none"/>
<polygon points="343.2,136.9 350.3,136.9 346.7,131.2" fill="#00ffff" stroke="#00ffff" stroke-width="1.1" stroke-linejoin="miter"/>
<path d="M363.5,130.8 V138.8 M361.5,130.8 H365.5 M361.5,138.8 H365.5" stroke="#00ffff" stroke-width="1.0" fill="none"/>
<polygon points="360,136.4 367.1,136.4 363.5,130.7" fill="#00ffff" stroke="#00ffff" stroke-width="1.1" stroke-linejoin="miter"/>
<path d="M378.1,133 V141 M376.1,133 H380.1 M376.1,141 H380.1" stroke="#00ffff" stroke-width="1.0" fill="none"/>
<polygon points="374.6,138.6 381.7,138.6 378.1,132.9" fill="#00ffff" stroke="#00ffff" stroke-width="1.1" stroke-linejoin="miter"/>
<path d="M391,137.3 V145.3 M389,137.3 H393 M389,145.3 H393" stroke="#00ffff" stroke-width="1.0" fill="none"/>
<polygon points="387.4,142.9 394.5,142.9 391,137.2" fill="#00ffff" stroke="#00ffff" stroke-width="1.1" stroke-linejoin="miter"/>
<path d="M402.5,129.9 V137.9 M400.5,129.9 H404.5 M400.5,137.9 H404.5" stroke="#00ffff" stroke-width="1.0" fill="none"/>
<polygon points="398.9,135.5 406,135.5 402.5,129.8" fill="#00ffff" stroke="#00ffff" stroke-width="1.1" stroke-linejoin="miter"/>
<path d="M412.9,135.6 V143.6 M410.9,135.6 H414.9 M410.9,143.6 H414.9" stroke="#00ffff" stroke-width="1.0" fill="none"/>
<polygon points="409.3,141.2 416.4,141.2 412.9,135.5" fill="#00ffff" stroke="#00ffff" stroke-width="1.1" stroke-linejoin="miter"/>
<path d="M422.4,134.6 V142.6 M420.4,134.6 H424.4 M420.4,142.6 H424.4" stroke="#00ffff" stroke-width="1.0" fill="none"/>
<polygon points="418.8,140.2 425.9,140.2 422.4,134.5" fill="#00ffff" stroke="#00ffff" stroke-width="1.1" stroke-linejoin="miter"/>
<path d="M431.1,148.9 V156.9 M429.1,148.9 H433.1 M429.1,156.9 H433.1" stroke="#00ffff" stroke-width="1.0" fill="none"/>
<polygon points="427.6,154.5 434.7,154.5 431.1,148.8" fill="#00ffff" stroke="#00ffff" stroke-width="1.1" stroke-linejoin="miter"/>
<path d="M439.2,151 V159 M437.2,151 H441.2 M437.2,159 H441.2" stroke="#00ffff" stroke-width="1.0" fill="none"/>
<polygon points="435.7,156.6 442.8,156.6 439.2,150.9" fill="#00ffff" stroke="#00ffff" stroke-width="1.1" stroke-linejoin="miter"/>
<path d="M446.8,143 V151 M444.8,143 H448.8 M444.8,151 H448.8" stroke="#00ffff" stroke-width="1.0" fill="none"/>
<polygon points="443.2,148.6 450.3,148.6 446.8,142.9" fill="#00ffff" stroke="#00ffff" stroke-width="1.1" stroke-linejoin="miter"/>
<path d="M453.8,145 V153 M451.8,145 H455.8 M451.8,153 H455.8" stroke="#00ffff" stroke-width="1.0" fill="none"/>
<polygon points="450.3,150.6 457.4,150.6 453.8,144.9" fill="#00ffff" stroke="#00ffff" stroke-width="1.1" stroke-linejoin="miter"/>
<path d="M460.4,134.6 V144.6 M458.4,134.6 H462.4 M458.4,144.6 H462.4" stroke="#00ffff" stroke-width="1.0" fill="none"/>
<polygon points="456.9,141.2 464,141.2 460.4,135.5" fill="#00ffff" stroke="#00ffff" stroke-width="1.1" stroke-linejoin="miter"/>
<path d="M466.7,130 V140 M464.7,130 H468.7 M464.7,140 H468.7" stroke="#00ffff" stroke-width="1.0" fill="none"/>
<polygon points="463.1,136.6 470.2,136.6 466.7,130.9" fill="#00ffff" stroke="#00ffff" stroke-width="1.1" stroke-linejoin="miter"/>
<path d="M271,118.9 V128.9 M269,118.9 H273 M269,128.9 H273" stroke="#0000ff" stroke-width="1.0" fill="none"/>
<polygon points="267.5,125.5 274.6,125.5 271,119.8" fill="#0000ff" stroke="#0000ff" stroke-width="1.1" stroke-linejoin="miter"/>
<path d="M302.5,128 V138 M300.5,128 H304.5 M300.5,138 H304.5" stroke="#0000ff" stroke-width="1.0" fill="none"/>
<polygon points="298.9,134.6 306,134.6 302.5,128.9" fill="#0000ff" stroke="#0000ff" stroke-width="1.1" stroke-linejoin="miter"/>
<path d="M326.8,128.5 V137.5 M324.8,128.5 H328.8 M324.8,137.5 H328.8" stroke="#0000ff" stroke-width="1.0" fill="none"/>
<polygon points="323.3,134.6 330.4,134.6 326.8,128.9" fill="#0000ff" stroke="#0000ff" stroke-width="1.1" stroke-linejoin="miter"/>
<path d="M346.7,135 V143 M344.7,135 H348.7 M344.7,143 H348.7" stroke="#0000ff" stroke-width="1.0" fill="none"/>
<polygon points="343.2,140.6 350.3,140.6 346.7,134.9" fill="#0000ff" stroke="#0000ff" stroke-width="1.1" stroke-linejoin="miter"/>
<path d="M363.5,133 V141 M361.5,133 H365.5 M361.5,141 H365.5" stroke="#0000ff" stroke-width="1.0" fill="none"/>
<polygon points="360,138.6 367.1,138.6 363.5,132.9" fill="#0000ff" stroke="#0000ff" stroke-width="1.1" stroke-linejoin="miter"/>
<path d="M378.1,137 V145 M376.1,137 H380.1 M376.1,145 H380.1" stroke="#0000ff" stroke-width="1.0" fill="none"/>
<polygon points="374.6,142.6 381.7,142.6 378.1,136.9" fill="#0000ff" stroke="#0000ff" stroke-width="1.1" stroke-linejoin="miter"/>
<path d="M391,140 V148 M389,140 H393 M389,148 H393" stroke="#0000ff" stroke-width="1.0" fill="none"/>
<polygon points="387.4,145.6 394.5,145.6 391,139.9" fill="#0000ff" stroke="#0000ff" stroke-width="1.1" stroke-linejoin="miter"/>
<path d="M402.5,132.7 V140.7 M400.5,132.7 H404.5 M400.5,140.7 H404.5" stroke="#0000ff" stroke-width="1.0" fill="none"/>
<polygon points="398.9,138.3 406,138.3 402.5,132.6" fill="#0000ff" stroke="#0000ff" stroke-width="1.1" stroke-linejoin="miter"/>
<path d="M412.9,139.4 V147.4 M410.9,139.4 H414.9 M410.9,147.4 H414.9" stroke="#0000ff" stroke-width="1.0" fill="none"/>
<polygon points="409.3,145 416.4,145 412.9,139.3" fill="#0000ff" stroke="#0000ff" stroke-width="1.1" stroke-linejoin="miter"/>
<path d="M422.4,139.4 V147.4 M420.4,139.4 H424.4 M420.4,147.4 H424.4" stroke="#0000ff" stroke-width="1.0" fill="none"/>
<polygon points="418.8,145 425.9,145 422.4,139.3" fill="#0000ff" stroke="#0000ff" stroke-width="1.1" stroke-linejoin="miter"/>
<path d="M431.1,153.7 V161.7 M429.1,153.7 H433.1 M429.1,161.7 H433.1" stroke="#0000ff" stroke-width="1.0" fill="none"/>
<polygon points="427.6,159.3 434.7,159.3 431.1,153.6" fill="#0000ff" stroke="#0000ff" stroke-width="1.1" stroke-linejoin="miter"/>
<path d="M439.2,151 V159 M437.2,151 H441.2 M437.2,159 H441.2" stroke="#0000ff" stroke-width="1.0" fill="none"/>
<polygon points="435.7,156.6 442.8,156.6 439.2,150.9" fill="#0000ff" stroke="#0000ff" stroke-width="1.1" stroke-linejoin="miter"/>
<path d="M446.8,143.3 V151.3 M444.8,143.3 H448.8 M444.8,151.3 H448.8" stroke="#0000ff" stroke-width="1.0" fill="none"/>
<polygon points="443.2,148.9 450.3,148.9 446.8,143.2" fill="#0000ff" stroke="#0000ff" stroke-width="1.1" stroke-linejoin="miter"/>
<path d="M453.8,145 V153 M451.8,145 H455.8 M451.8,153 H455.8" stroke="#0000ff" stroke-width="1.0" fill="none"/>
<polygon points="450.3,150.6 457.4,150.6 453.8,144.9" fill="#0000ff" stroke="#0000ff" stroke-width="1.1" stroke-linejoin="miter"/>
<path d="M460.4,141 V151 M458.4,141 H462.4 M458.4,151 H462.4" stroke="#0000ff" stroke-width="1.0" fill="none"/>
<polygon points="456.9,147.6 464,147.6 460.4,141.9" fill="#0000ff" stroke="#0000ff" stroke-width="1.1" stroke-linejoin="miter"/>
<path d="M466.7,132.9 V142.9 M464.7,132.9 H468.7 M464.7,142.9 H468.7" stroke="#0000ff" stroke-width="1.0" fill="none"/>
<polygon points="463.1,139.5 470.2,139.5 466.7,133.8" fill="#0000ff" stroke="#0000ff" stroke-width="1.1" stroke-linejoin="miter"/>
<path d="M271,121.7 V131.7 M269,121.7 H273 M269,131.7 H273" stroke="#000080" stroke-width="1.0" fill="none"/>
<polygon points="267.5,128.3 274.6,128.3 271,122.6" fill="#000080" stroke="#000080" stroke-width="1.1" stroke-linejoin="miter"/>
<path d="M302.5,130.3 V140.3 M300.5,130.3 H304.5 M300.5,140.3 H304.5" stroke="#000080" stroke-width="1.0" fill="none"/>
<polygon points="298.9,136.9 306,136.9 302.5,131.2" fill="#000080" stroke="#000080" stroke-width="1.1" stroke-linejoin="miter"/>
<path d="M326.8,130.5 V139.5 M324.8,130.5 H328.8 M324.8,139.5 H328.8" stroke="#000080" stroke-width="1.0" fill="none"/>
<polygon points="323.3,136.6 330.4,136.6 326.8,130.9" fill="#000080" stroke="#000080" stroke-width="1.1" stroke-linejoin="miter"/>
<path d="M346.7,143.9 V151.9 M344.7,143.9 H348.7 M344.7,151.9 H348.7" stroke="#000080" stroke-width="1.0" fill="none"/>
<polygon points="343.2,149.5 350.3,149.5 346.7,143.8" fill="#000080" stroke="#000080" stroke-width="1.1" stroke-linejoin="miter"/>
<path d="M363.5,137.3 V145.3 M361.5,137.3 H365.5 M361.5,145.3 H365.5" stroke="#000080" stroke-width="1.0" fill="none"/>
<polygon points="360,142.9 367.1,142.9 363.5,137.2" fill="#000080" stroke="#000080" stroke-width="1.1" stroke-linejoin="miter"/>
<path d="M378.1,142.5 V150.5 M376.1,142.5 H380.1 M376.1,150.5 H380.1" stroke="#000080" stroke-width="1.0" fill="none"/>
<polygon points="374.6,148.1 381.7,148.1 378.1,142.4" fill="#000080" stroke="#000080" stroke-width="1.1" stroke-linejoin="miter"/>
<path d="M391,143.9 V151.9 M389,143.9 H393 M389,151.9 H393" stroke="#000080" stroke-width="1.0" fill="none"/>
<polygon points="387.4,149.5 394.5,149.5 391,143.8" fill="#000080" stroke="#000080" stroke-width="1.1" stroke-linejoin="miter"/>
<path d="M402.5,135.6 V143.6 M400.5,135.6 H404.5 M400.5,143.6 H404.5" stroke="#000080" stroke-width="1.0" fill="none"/>
<polygon points="398.9,141.2 406,141.2 402.5,135.5" fill="#000080" stroke="#000080" stroke-width="1.1" stroke-linejoin="miter"/>
<path d="M412.9,144.1 V152.1 M410.9,144.1 H414.9 M410.9,152.1 H414.9" stroke="#000080" stroke-width="1.0" fill="none"/>
<polygon points="409.3,149.7 416.4,149.7 412.9,144" fill="#000080" stroke="#000080" stroke-width="1.1" stroke-linejoin="miter"/>
<path d="M422.4,144.1 V152.1 M420.4,144.1 H424.4 M420.4,152.1 H424.4" stroke="#000080" stroke-width="1.0" fill="none"/>
<polygon points="418.8,149.7 425.9,149.7 422.4,144" fill="#000080" stroke="#000080" stroke-width="1.1" stroke-linejoin="miter"/>
<path d="M431.1,152 V160 M429.1,152 H433.1 M429.1,160 H433.1" stroke="#000080" stroke-width="1.0" fill="none"/>
<polygon points="427.6,157.6 434.7,157.6 431.1,151.9" fill="#000080" stroke="#000080" stroke-width="1.1" stroke-linejoin="miter"/>
<path d="M439.2,155.3 V163.3 M437.2,155.3 H441.2 M437.2,163.3 H441.2" stroke="#000080" stroke-width="1.0" fill="none"/>
<polygon points="435.7,160.9 442.8,160.9 439.2,155.2" fill="#000080" stroke="#000080" stroke-width="1.1" stroke-linejoin="miter"/>
<path d="M446.8,143.3 V151.3 M444.8,143.3 H448.8 M444.8,151.3 H448.8" stroke="#000080" stroke-width="1.0" fill="none"/>
<polygon points="443.2,148.9 450.3,148.9 446.8,143.2" fill="#000080" stroke="#000080" stroke-width="1.1" stroke-linejoin="miter"/>
<path d="M453.8,145 V153 M451.8,145 H455.8 M451.8,153 H455.8" stroke="#000080" stroke-width="1.0" fill="none"/>
<polygon points="450.3,150.6 457.4,150.6 453.8,144.9" fill="#000080" stroke="#000080" stroke-width="1.1" stroke-linejoin="miter"/>
<path d="M460.4,142 V152 M458.4,142 H462.4 M458.4,152 H462.4" stroke="#000080" stroke-width="1.0" fill="none"/>
<polygon points="456.9,148.6 464,148.6 460.4,142.9" fill="#000080" stroke="#000080" stroke-width="1.1" stroke-linejoin="miter"/>
<path d="M466.7,136 V146 M464.7,136 H468.7 M464.7,146 H468.7" stroke="#000080" stroke-width="1.0" fill="none"/>
<polygon points="463.1,142.6 470.2,142.6 466.7,136.9" fill="#000080" stroke="#000080" stroke-width="1.1" stroke-linejoin="miter"/>
<path d="M271,123.6 V133.6 M269,123.6 H273 M269,133.6 H273" stroke="#8000ff" stroke-width="1.0" fill="none"/>
<polygon points="267.5,130.2 274.6,130.2 271,124.5" fill="#8000ff" stroke="#8000ff" stroke-width="1.1" stroke-linejoin="miter"/>
<path d="M302.5,130.3 V140.3 M300.5,130.3 H304.5 M300.5,140.3 H304.5" stroke="#8000ff" stroke-width="1.0" fill="none"/>
<polygon points="298.9,136.9 306,136.9 302.5,131.2" fill="#8000ff" stroke="#8000ff" stroke-width="1.1" stroke-linejoin="miter"/>
<path d="M326.8,128.5 V137.5 M324.8,128.5 H328.8 M324.8,137.5 H328.8" stroke="#8000ff" stroke-width="1.0" fill="none"/>
<polygon points="323.3,134.6 330.4,134.6 326.8,128.9" fill="#8000ff" stroke="#8000ff" stroke-width="1.1" stroke-linejoin="miter"/>
<path d="M346.7,138.6 V146.6 M344.7,138.6 H348.7 M344.7,146.6 H348.7" stroke="#8000ff" stroke-width="1.0" fill="none"/>
<polygon points="343.2,144.2 350.3,144.2 346.7,138.5" fill="#8000ff" stroke="#8000ff" stroke-width="1.1" stroke-linejoin="miter"/>
<path d="M363.5,130.8 V138.8 M361.5,130.8 H365.5 M361.5,138.8 H365.5" stroke="#8000ff" stroke-width="1.0" fill="none"/>
<polygon points="360,136.4 367.1,136.4 363.5,130.7" fill="#8000ff" stroke="#8000ff" stroke-width="1.1" stroke-linejoin="miter"/>
<path d="M378.1,142.5 V150.5 M376.1,142.5 H380.1 M376.1,150.5 H380.1" stroke="#8000ff" stroke-width="1.0" fill="none"/>
<polygon points="374.6,148.1 381.7,148.1 378.1,142.4" fill="#8000ff" stroke="#8000ff" stroke-width="1.1" stroke-linejoin="miter"/>
<path d="M391,143.9 V151.9 M389,143.9 H393 M389,151.9 H393" stroke="#8000ff" stroke-width="1.0" fill="none"/>
<polygon points="387.4,149.5 394.5,149.5 391,143.8" fill="#8000ff" stroke="#8000ff" stroke-width="1.1" stroke-linejoin="miter"/>
<path d="M402.5,138.4 V146.4 M400.5,138.4 H404.5 M400.5,146.4 H404.5" stroke="#8000ff" stroke-width="1.0" fill="none"/>
<polygon points="398.9,144 406,144 402.5,138.3" fill="#8000ff" stroke="#8000ff" stroke-width="1.1" stroke-linejoin="miter"/>
<path d="M412.9,147 V155 M410.9,147 H414.9 M410.9,155 H414.9" stroke="#8000ff" stroke-width="1.0" fill="none"/>
<polygon points="409.3,152.6 416.4,152.6 412.9,146.9" fill="#8000ff" stroke="#8000ff" stroke-width="1.1" stroke-linejoin="miter"/>
<path d="M422.4,148 V156 M420.4,148 H424.4 M420.4,156 H424.4" stroke="#8000ff" stroke-width="1.0" fill="none"/>
<polygon points="418.8,153.6 425.9,153.6 422.4,147.9" fill="#8000ff" stroke="#8000ff" stroke-width="1.1" stroke-linejoin="miter"/>
<path d="M431.1,153.7 V161.7 M429.1,153.7 H433.1 M429.1,161.7 H433.1" stroke="#8000ff" stroke-width="1.0" fill="none"/>
<polygon points="427.6,159.3 434.7,159.3 431.1,153.6" fill="#8000ff" stroke="#8000ff" stroke-width="1.1" stroke-linejoin="miter"/>
<path d="M439.2,157 V165 M437.2,157 H441.2 M437.2,165 H441.2" stroke="#8000ff" stroke-width="1.0" fill="none"/>
<polygon points="435.7,162.6 442.8,162.6 439.2,156.9" fill="#8000ff" stroke="#8000ff" stroke-width="1.1" stroke-linejoin="miter"/>
<path d="M446.8,148.5 V156.5 M444.8,148.5 H448.8 M444.8,156.5 H448.8" stroke="#8000ff" stroke-width="1.0" fill="none"/>
<polygon points="443.2,154.1 450.3,154.1 446.8,148.4" fill="#8000ff" stroke="#8000ff" stroke-width="1.1" stroke-linejoin="miter"/>
<path d="M453.8,151.9 V159.9 M451.8,151.9 H455.8 M451.8,159.9 H455.8" stroke="#8000ff" stroke-width="1.0" fill="none"/>
<polygon points="450.3,157.5 457.4,157.5 453.8,151.8" fill="#8000ff" stroke="#8000ff" stroke-width="1.1" stroke-linejoin="miter"/>
<path d="M460.4,147.5 V157.5 M458.4,147.5 H462.4 M458.4,157.5 H462.4" stroke="#8000ff" stroke-width="1.0" fill="none"/>
<polygon points="456.9,154.1 464,154.1 460.4,148.4" fill="#8000ff" stroke="#8000ff" stroke-width="1.1" stroke-linejoin="miter"/>
<path d="M466.7,138.9 V148.9 M464.7,138.9 H468.7 M464.7,148.9 H468.7" stroke="#8000ff" stroke-width="1.0" fill="none"/>
<polygon points="463.1,145.5 470.2,145.5 466.7,139.8" fill="#8000ff" stroke="#8000ff" stroke-width="1.1" stroke-linejoin="miter"/>
<path d="M271,126.5 V136.5 M269,126.5 H273 M269,136.5 H273" stroke="#ff00ff" stroke-width="1.0" fill="none"/>
<polygon points="267.5,133.1 274.6,133.1 271,127.4" fill="#ff00ff" stroke="#ff00ff" stroke-width="1.1" stroke-linejoin="miter"/>
<path d="M302.5,133 V143 M300.5,133 H304.5 M300.5,143 H304.5" stroke="#ff00ff" stroke-width="1.0" fill="none"/>
<polygon points="298.9,139.6 306,139.6 302.5,133.9" fill="#ff00ff" stroke="#ff00ff" stroke-width="1.1" stroke-linejoin="miter"/>
<path d="M326.8,130.7 V139.7 M324.8,130.7 H328.8 M324.8,139.7 H328.8" stroke="#ff00ff" stroke-width="1.0" fill="none"/>
<polygon points="323.3,136.8 330.4,136.8 326.8,131.1" fill="#ff00ff" stroke="#ff00ff" stroke-width="1.1" stroke-linejoin="miter"/>
<path d="M346.7,138.6 V146.6 M344.7,138.6 H348.7 M344.7,146.6 H348.7" stroke="#ff00ff" stroke-width="1.0" fill="none"/>
<polygon points="343.2,144.2 350.3,144.2 346.7,138.5" fill="#ff00ff" stroke="#ff00ff" stroke-width="1.1" stroke-linejoin="miter"/>
<path d="M363.5,130.8 V138.8 M361.5,130.8 H365.5 M361.5,138.8 H365.5" stroke="#ff00ff" stroke-width="1.0" fill="none"/>
<polygon points="360,136.4 367.1,136.4 363.5,130.7" fill="#ff00ff" stroke="#ff00ff" stroke-width="1.1" stroke-linejoin="miter"/>
<path d="M378.1,137.3 V145.3 M376.1,137.3 H380.1 M376.1,145.3 H380.1" stroke="#ff00ff" stroke-width="1.0" fill="none"/>
<polygon points="374.6,142.9 381.7,142.9 378.1,137.2" fill="#ff00ff" stroke="#ff00ff" stroke-width="1.1" stroke-linejoin="miter"/>
<path d="M391,151.7 V159.7 M389,151.7 H393 M389,159.7 H393" stroke="#ff00ff" stroke-width="1.0" fill="none"/>
<polygon points="387.4,157.3 394.5,157.3 391,151.6" fill="#ff00ff" stroke="#ff00ff" stroke-width="1.1" stroke-linejoin="miter"/>
<path d="M402.5,143.2 V151.2 M400.5,143.2 H404.5 M400.5,151.2 H404.5" stroke="#ff00ff" stroke-width="1.0" fill="none"/>
<polygon points="398.9,148.8 406,148.8 402.5,143.1" fill="#ff00ff" stroke="#ff00ff" stroke-width="1.1" stroke-linejoin="miter"/>
<path d="M412.9,150.8 V158.8 M410.9,150.8 H414.9 M410.9,158.8 H414.9" stroke="#ff00ff" stroke-width="1.0" fill="none"/>
<polygon points="409.3,156.4 416.4,156.4 412.9,150.7" fill="#ff00ff" stroke="#ff00ff" stroke-width="1.1" stroke-linejoin="miter"/>
<path d="M422.4,151.8 V159.8 M420.4,151.8 H424.4 M420.4,159.8 H424.4" stroke="#ff00ff" stroke-width="1.0" fill="none"/>
<polygon points="418.8,157.4 425.9,157.4 422.4,151.7" fill="#ff00ff" stroke="#ff00ff" stroke-width="1.1" stroke-linejoin="miter"/>
<path d="M431.1,157.5 V165.5 M429.1,157.5 H433.1 M429.1,165.5 H433.1" stroke="#ff00ff" stroke-width="1.0" fill="none"/>
<polygon points="427.6,163.1 434.7,163.1 431.1,157.4" fill="#ff00ff" stroke="#ff00ff" stroke-width="1.1" stroke-linejoin="miter"/>
<path d="M439.2,163.9 V171.9 M437.2,163.9 H441.2 M437.2,171.9 H441.2" stroke="#ff00ff" stroke-width="1.0" fill="none"/>
<polygon points="435.7,169.5 442.8,169.5 439.2,163.8" fill="#ff00ff" stroke="#ff00ff" stroke-width="1.1" stroke-linejoin="miter"/>
<path d="M446.8,151.9 V159.9 M444.8,151.9 H448.8 M444.8,159.9 H448.8" stroke="#ff00ff" stroke-width="1.0" fill="none"/>
<polygon points="443.2,157.5 450.3,157.5 446.8,151.8" fill="#ff00ff" stroke="#ff00ff" stroke-width="1.1" stroke-linejoin="miter"/>
<path d="M453.8,151.9 V159.9 M451.8,151.9 H455.8 M451.8,159.9 H455.8" stroke="#ff00ff" stroke-width="1.0" fill="none"/>
<polygon points="450.3,157.5 457.4,157.5 453.8,151.8" fill="#ff00ff" stroke="#ff00ff" stroke-width="1.1" stroke-linejoin="miter"/>
<path d="M460.4,147.5 V157.5 M458.4,147.5 H462.4 M458.4,157.5 H462.4" stroke="#ff00ff" stroke-width="1.0" fill="none"/>
<polygon points="456.9,154.1 464,154.1 460.4,148.4" fill="#ff00ff" stroke="#ff00ff" stroke-width="1.1" stroke-linejoin="miter"/>
<path d="M466.7,138.9 V148.9 M464.7,138.9 H468.7 M464.7,148.9 H468.7" stroke="#ff00ff" stroke-width="1.0" fill="none"/>
<polygon points="463.1,145.5 470.2,145.5 466.7,139.8" fill="#ff00ff" stroke="#ff00ff" stroke-width="1.1" stroke-linejoin="miter"/>
<path d="M483.4,9.7 V35.7 M481.4,9.7 H485.4 M481.4,35.7 H485.4" stroke="#ff0000" stroke-width="1.0" fill="none"/>
<polygon points="479.9,24.3 487,24.3 483.4,18.6" fill="#fff"/>
<polygon points="481.5,21.7 485.4,21.7 487,24.3 479.9,24.3" fill="#ff0000"/>
<polygon points="479.9,24.3 487,24.3 483.4,18.6" fill="none" stroke="#ff0000" stroke-width="1.1" stroke-linejoin="miter"/>
<path d="M514.9,13.7 V31.7 M512.9,13.7 H516.9 M512.9,31.7 H516.9" stroke="#ff0000" stroke-width="1.0" fill="none"/>
<polygon points="511.3,24.3 518.4,24.3 514.9,18.6" fill="#fff"/>
<polygon points="512.9,21.7 516.8,21.7 518.4,24.3 511.3,24.3" fill="#ff0000"/>
<polygon points="511.3,24.3 518.4,24.3 514.9,18.6" fill="none" stroke="#ff0000" stroke-width="1.1" stroke-linejoin="miter"/>
<path d="M539.2,36.6 V50.6 M537.2,36.6 H541.2 M537.2,50.6 H541.2" stroke="#ff0000" stroke-width="1.0" fill="none"/>
<polygon points="535.7,45.2 542.8,45.2 539.2,39.5" fill="#fff"/>
<polygon points="537.3,42.6 541.2,42.6 542.8,45.2 535.7,45.2" fill="#ff0000"/>
<polygon points="535.7,45.2 542.8,45.2 539.2,39.5" fill="none" stroke="#ff0000" stroke-width="1.1" stroke-linejoin="miter"/>
<path d="M559.1,53.8 V65.8 M557.1,53.8 H561.1 M557.1,65.8 H561.1" stroke="#ff0000" stroke-width="1.0" fill="none"/>
<polygon points="555.6,61.4 562.7,61.4 559.1,55.7" fill="#fff"/>
<polygon points="557.2,58.8 561.1,58.8 562.7,61.4 555.6,61.4" fill="#ff0000"/>
<polygon points="555.6,61.4 562.7,61.4 559.1,55.7" fill="none" stroke="#ff0000" stroke-width="1.1" stroke-linejoin="miter"/>
<path d="M575.9,71 V81 M573.9,71 H577.9 M573.9,81 H577.9" stroke="#ff0000" stroke-width="1.0" fill="none"/>
<polygon points="572.4,77.6 579.5,77.6 575.9,71.9" fill="#fff"/>
<polygon points="574,75 577.9,75 579.5,77.6 572.4,77.6" fill="#ff0000"/>
<polygon points="572.4,77.6 579.5,77.6 575.9,71.9" fill="none" stroke="#ff0000" stroke-width="1.1" stroke-linejoin="miter"/>
<path d="M590.5,84.1 V92.1 M588.5,84.1 H592.5 M588.5,92.1 H592.5" stroke="#ff0000" stroke-width="1.0" fill="none"/>
<polygon points="587,89.7 594.1,89.7 590.5,84" fill="#fff"/>
<polygon points="588.6,87.1 592.5,87.1 594.1,89.7 587,89.7" fill="#ff0000"/>
<polygon points="587,89.7 594.1,89.7 590.5,84" fill="none" stroke="#ff0000" stroke-width="1.1" stroke-linejoin="miter"/>
<path d="M603.4,98 V105 M601.4,98 H605.4 M601.4,105 H605.4" stroke="#ff0000" stroke-width="1.0" fill="none"/>
<polygon points="599.8,103.1 606.9,103.1 603.4,97.4" fill="#fff"/>
<polygon points="601.4,100.5 605.4,100.5 606.9,103.1 599.8,103.1" fill="#ff0000"/>
<polygon points="599.8,103.1 606.9,103.1 603.4,97.4" fill="none" stroke="#ff0000" stroke-width="1.1" stroke-linejoin="miter"/>
<path d="M614.9,105.1 V111.1 M612.9,105.1 H616.9 M612.9,111.1 H616.9" stroke="#ff0000" stroke-width="1.0" fill="none"/>
<polygon points="611.3,109.7 618.4,109.7 614.9,104" fill="#fff"/>
<polygon points="612.9,107.1 616.9,107.1 618.4,109.7 611.3,109.7" fill="#ff0000"/>
<polygon points="611.3,109.7 618.4,109.7 614.9,104" fill="none" stroke="#ff0000" stroke-width="1.1" stroke-linejoin="miter"/>
<path d="M625.3,112.8 V118.8 M623.3,112.8 H627.3 M623.3,118.8 H627.3" stroke="#ff0000" stroke-width="1.0" fill="none"/>
<polygon points="621.7,117.4 628.8,117.4 625.3,111.7" fill="#fff"/>
<polygon points="623.3,114.8 627.3,114.8 628.8,117.4 621.7,117.4" fill="#ff0000"/>
<polygon points="621.7,117.4 628.8,117.4 625.3,111.7" fill="none" stroke="#ff0000" stroke-width="1.1" stroke-linejoin="miter"/>
<path d="M634.8,121.2 V127.2 M632.8,121.2 H636.8 M632.8,127.2 H636.8" stroke="#ff0000" stroke-width="1.0" fill="none"/>
<polygon points="631.2,125.8 638.3,125.8 634.8,120.1" fill="#fff"/>
<polygon points="632.8,123.2 636.8,123.2 638.3,125.8 631.2,125.8" fill="#ff0000"/>
<polygon points="631.2,125.8 638.3,125.8 634.8,120.1" fill="none" stroke="#ff0000" stroke-width="1.1" stroke-linejoin="miter"/>
<path d="M643.5,125.1 V131.1 M641.5,125.1 H645.5 M641.5,131.1 H645.5" stroke="#ff0000" stroke-width="1.0" fill="none"/>
<polygon points="640,129.7 647.1,129.7 643.5,124" fill="#fff"/>
<polygon points="641.6,127.1 645.5,127.1 647.1,129.7 640,129.7" fill="#ff0000"/>
<polygon points="640,129.7 647.1,129.7 643.5,124" fill="none" stroke="#ff0000" stroke-width="1.1" stroke-linejoin="miter"/>
<path d="M651.6,127.4 V133.4 M649.6,127.4 H653.6 M649.6,133.4 H653.6" stroke="#ff0000" stroke-width="1.0" fill="none"/>
<polygon points="648.1,132 655.2,132 651.6,126.3" fill="#fff"/>
<polygon points="649.7,129.4 653.6,129.4 655.2,132 648.1,132" fill="#ff0000"/>
<polygon points="648.1,132 655.2,132 651.6,126.3" fill="none" stroke="#ff0000" stroke-width="1.1" stroke-linejoin="miter"/>
<path d="M659.2,134.4 V140.4 M657.2,134.4 H661.2 M657.2,140.4 H661.2" stroke="#ff0000" stroke-width="1.0" fill="none"/>
<polygon points="655.6,139 662.7,139 659.2,133.3" fill="#fff"/>
<polygon points="657.2,136.4 661.1,136.4 662.7,139 655.6,139" fill="#ff0000"/>
<polygon points="655.6,139 662.7,139 659.2,133.3" fill="none" stroke="#ff0000" stroke-width="1.1" stroke-linejoin="miter"/>
<path d="M666.2,135.9 V141.9 M664.2,135.9 H668.2 M664.2,141.9 H668.2" stroke="#ff0000" stroke-width="1.0" fill="none"/>
<polygon points="662.7,140.5 669.8,140.5 666.2,134.8" fill="#fff"/>
<polygon points="664.2,137.9 668.2,137.9 669.8,140.5 662.7,140.5" fill="#ff0000"/>
<polygon points="662.7,140.5 669.8,140.5 666.2,134.8" fill="none" stroke="#ff0000" stroke-width="1.1" stroke-linejoin="miter"/>
<path d="M672.8,132 V138 M670.8,132 H674.8 M670.8,138 H674.8" stroke="#ff0000" stroke-width="1.0" fill="none"/>
<polygon points="669.3,136.6 676.4,136.6 672.8,130.9" fill="#fff"/>
<polygon points="670.9,134 674.8,134 676.4,136.6 669.3,136.6" fill="#ff0000"/>
<polygon points="669.3,136.6 676.4,136.6 672.8,130.9" fill="none" stroke="#ff0000" stroke-width="1.1" stroke-linejoin="miter"/>
<path d="M679.1,131 V137 M677.1,131 H681.1 M677.1,137 H681.1" stroke="#ff0000" stroke-width="1.0" fill="none"/>
<polygon points="675.5,135.6 682.6,135.6 679.1,129.9" fill="#fff"/>
<polygon points="677.1,133 681,133 682.6,135.6 675.5,135.6" fill="#ff0000"/>
<polygon points="675.5,135.6 682.6,135.6 679.1,129.9" fill="none" stroke="#ff0000" stroke-width="1.1" stroke-linejoin="miter"/>
<path d="M483.4,59.7 V73.7 M481.4,59.7 H485.4 M481.4,73.7 H485.4" stroke="#ff8000" stroke-width="1.0" fill="none"/>
<polygon points="479.9,68.3 487,68.3 483.4,62.6" fill="#fff"/>
<polygon points="481.5,65.7 485.4,65.7 487,68.3 479.9,68.3" fill="#ff8000"/>
<polygon points="479.9,68.3 487,68.3 483.4,62.6" fill="none" stroke="#ff8000" stroke-width="1.1" stroke-linejoin="miter"/>
<path d="M514.9,57.1 V69.1 M512.9,57.1 H516.9 M512.9,69.1 H516.9" stroke="#ff8000" stroke-width="1.0" fill="none"/>
<polygon points="511.3,64.7 518.4,64.7 514.9,59" fill="#fff"/>
<polygon points="512.9,62.1 516.8,62.1 518.4,64.7 511.3,64.7" fill="#ff8000"/>
<polygon points="511.3,64.7 518.4,64.7 514.9,59" fill="none" stroke="#ff8000" stroke-width="1.1" stroke-linejoin="miter"/>
<path d="M539.2,62.6 V72.6 M537.2,62.6 H541.2 M537.2,72.6 H541.2" stroke="#ff8000" stroke-width="1.0" fill="none"/>
<polygon points="535.7,69.2 542.8,69.2 539.2,63.5" fill="#fff"/>
<polygon points="537.3,66.6 541.2,66.6 542.8,69.2 535.7,69.2" fill="#ff8000"/>
<polygon points="535.7,69.2 542.8,69.2 539.2,63.5" fill="none" stroke="#ff8000" stroke-width="1.1" stroke-linejoin="miter"/>
<path d="M559.1,70.2 V78.2 M557.1,70.2 H561.1 M557.1,78.2 H561.1" stroke="#ff8000" stroke-width="1.0" fill="none"/>
<polygon points="555.6,75.8 562.7,75.8 559.1,70.1" fill="#fff"/>
<polygon points="557.2,73.2 561.1,73.2 562.7,75.8 555.6,75.8" fill="#ff8000"/>
<polygon points="555.6,75.8 562.7,75.8 559.1,70.1" fill="none" stroke="#ff8000" stroke-width="1.1" stroke-linejoin="miter"/>
<path d="M575.9,82 V90 M573.9,82 H577.9 M573.9,90 H577.9" stroke="#ff8000" stroke-width="1.0" fill="none"/>
<polygon points="572.4,87.6 579.5,87.6 575.9,81.9" fill="#fff"/>
<polygon points="574,85 577.9,85 579.5,87.6 572.4,87.6" fill="#ff8000"/>
<polygon points="572.4,87.6 579.5,87.6 575.9,81.9" fill="none" stroke="#ff8000" stroke-width="1.1" stroke-linejoin="miter"/>
<path d="M590.5,91.3 V98.3 M588.5,91.3 H592.5 M588.5,98.3 H592.5" stroke="#ff8000" stroke-width="1.0" fill="none"/>
<polygon points="587,96.4 594.1,96.4 590.5,90.7" fill="#fff"/>
<polygon points="588.6,93.8 592.5,93.8 594.1,96.4 587,96.4" fill="#ff8000"/>
<polygon points="587,96.4 594.1,96.4 590.5,90.7" fill="none" stroke="#ff8000" stroke-width="1.1" stroke-linejoin="miter"/>
<path d="M603.4,103.2 V109.2 M601.4,103.2 H605.4 M601.4,109.2 H605.4" stroke="#ff8000" stroke-width="1.0" fill="none"/>
<polygon points="599.8,107.8 606.9,107.8 603.4,102.1" fill="#fff"/>
<polygon points="601.4,105.2 605.4,105.2 606.9,107.8 599.8,107.8" fill="#ff8000"/>
<polygon points="599.8,107.8 606.9,107.8 603.4,102.1" fill="none" stroke="#ff8000" stroke-width="1.1" stroke-linejoin="miter"/>
<path d="M614.9,109.9 V115.9 M612.9,109.9 H616.9 M612.9,115.9 H616.9" stroke="#ff8000" stroke-width="1.0" fill="none"/>
<polygon points="611.3,114.5 618.4,114.5 614.9,108.8" fill="#fff"/>
<polygon points="612.9,111.9 616.9,111.9 618.4,114.5 611.3,114.5" fill="#ff8000"/>
<polygon points="611.3,114.5 618.4,114.5 614.9,108.8" fill="none" stroke="#ff8000" stroke-width="1.1" stroke-linejoin="miter"/>
<path d="M625.3,117.5 V123.5 M623.3,117.5 H627.3 M623.3,123.5 H627.3" stroke="#ff8000" stroke-width="1.0" fill="none"/>
<polygon points="621.7,122.1 628.8,122.1 625.3,116.4" fill="#fff"/>
<polygon points="623.3,119.5 627.3,119.5 628.8,122.1 621.7,122.1" fill="#ff8000"/>
<polygon points="621.7,122.1 628.8,122.1 625.3,116.4" fill="none" stroke="#ff8000" stroke-width="1.1" stroke-linejoin="miter"/>
<path d="M634.8,123.5 V129.5 M632.8,123.5 H636.8 M632.8,129.5 H636.8" stroke="#ff8000" stroke-width="1.0" fill="none"/>
<polygon points="631.2,128.1 638.3,128.1 634.8,122.4" fill="#fff"/>
<polygon points="632.8,125.5 636.8,125.5 638.3,128.1 631.2,128.1" fill="#ff8000"/>
<polygon points="631.2,128.1 638.3,128.1 634.8,122.4" fill="none" stroke="#ff8000" stroke-width="1.1" stroke-linejoin="miter"/>
<path d="M643.5,127.4 V133.4 M641.5,127.4 H645.5 M641.5,133.4 H645.5" stroke="#ff8000" stroke-width="1.0" fill="none"/>
<polygon points="640,132 647.1,132 643.5,126.3" fill="#fff"/>
<polygon points="641.6,129.4 645.5,129.4 647.1,132 640,132" fill="#ff8000"/>
<polygon points="640,132 647.1,132 643.5,126.3" fill="none" stroke="#ff8000" stroke-width="1.1" stroke-linejoin="miter"/>
<path d="M651.6,130.5 V136.5 M649.6,130.5 H653.6 M649.6,136.5 H653.6" stroke="#ff8000" stroke-width="1.0" fill="none"/>
<polygon points="648.1,135.1 655.2,135.1 651.6,129.4" fill="#fff"/>
<polygon points="649.7,132.5 653.6,132.5 655.2,135.1 648.1,135.1" fill="#ff8000"/>
<polygon points="648.1,135.1 655.2,135.1 651.6,129.4" fill="none" stroke="#ff8000" stroke-width="1.1" stroke-linejoin="miter"/>
<path d="M659.2,136.7 V142.7 M657.2,136.7 H661.2 M657.2,142.7 H661.2" stroke="#ff8000" stroke-width="1.0" fill="none"/>
<polygon points="655.6,141.3 662.7,141.3 659.2,135.6" fill="#fff"/>
<polygon points="657.2,138.7 661.1,138.7 662.7,141.3 655.6,141.3" fill="#ff8000"/>
<polygon points="655.6,141.3 662.7,141.3 659.2,135.6" fill="none" stroke="#ff8000" stroke-width="1.1" stroke-linejoin="miter"/>
<path d="M666.2,138 V144 M664.2,138 H668.2 M664.2,144 H668.2" stroke="#ff8000" stroke-width="1.0" fill="none"/>
<polygon points="662.7,142.6 669.8,142.6 666.2,136.9" fill="#fff"/>
<polygon points="664.2,140 668.2,140 669.8,142.6 662.7,142.6" fill="#ff8000"/>
<polygon points="662.7,142.6 669.8,142.6 666.2,136.9" fill="none" stroke="#ff8000" stroke-width="1.1" stroke-linejoin="miter"/>
<path d="M672.8,132 V138 M670.8,132 H674.8 M670.8,138 H674.8" stroke="#ff8000" stroke-width="1.0" fill="none"/>
<polygon points="669.3,136.6 676.4,136.6 672.8,130.9" fill="#fff"/>
<polygon points="670.9,134 674.8,134 676.4,136.6 669.3,136.6" fill="#ff8000"/>
<polygon points="669.3,136.6 676.4,136.6 672.8,130.9" fill="none" stroke="#ff8000" stroke-width="1.1" stroke-linejoin="miter"/>
<path d="M679.1,133 V139 M677.1,133 H681.1 M677.1,139 H681.1" stroke="#ff8000" stroke-width="1.0" fill="none"/>
<polygon points="675.5,137.6 682.6,137.6 679.1,131.9" fill="#fff"/>
<polygon points="677.1,135 681,135 682.6,137.6 675.5,137.6" fill="#ff8000"/>
<polygon points="675.5,137.6 682.6,137.6 679.1,131.9" fill="none" stroke="#ff8000" stroke-width="1.1" stroke-linejoin="miter"/>
<path d="M483.4,77.5 V85.5 M481.4,77.5 H485.4 M481.4,85.5 H485.4" stroke="#00ff00" stroke-width="1.0" fill="none"/>
<polygon points="479.9,83.1 487,83.1 483.4,77.4" fill="#fff"/>
<polygon points="481.5,80.5 485.4,80.5 487,83.1 479.9,83.1" fill="#00ff00"/>
<polygon points="479.9,83.1 487,83.1 483.4,77.4" fill="none" stroke="#00ff00" stroke-width="1.1" stroke-linejoin="miter"/>
<path d="M514.9,79.7 V87.7 M512.9,79.7 H516.9 M512.9,87.7 H516.9" stroke="#00ff00" stroke-width="1.0" fill="none"/>
<polygon points="511.3,85.3 518.4,85.3 514.9,79.6" fill="#fff"/>
<polygon points="512.9,82.7 516.8,82.7 518.4,85.3 511.3,85.3" fill="#00ff00"/>
<polygon points="511.3,85.3 518.4,85.3 514.9,79.6" fill="none" stroke="#00ff00" stroke-width="1.1" stroke-linejoin="miter"/>
<path d="M539.2,91.1 V98.1 M537.2,91.1 H541.2 M537.2,98.1 H541.2" stroke="#00ff00" stroke-width="1.0" fill="none"/>
<polygon points="535.7,96.2 542.8,96.2 539.2,90.5" fill="#fff"/>
<polygon points="537.3,93.6 541.2,93.6 542.8,96.2 535.7,96.2" fill="#00ff00"/>
<polygon points="535.7,96.2 542.8,96.2 539.2,90.5" fill="none" stroke="#00ff00" stroke-width="1.1" stroke-linejoin="miter"/>
<path d="M559.1,94.8 V100.8 M557.1,94.8 H561.1 M557.1,100.8 H561.1" stroke="#00ff00" stroke-width="1.0" fill="none"/>
<polygon points="555.6,99.4 562.7,99.4 559.1,93.7" fill="#fff"/>
<polygon points="557.2,96.8 561.1,96.8 562.7,99.4 555.6,99.4" fill="#00ff00"/>
<polygon points="555.6,99.4 562.7,99.4 559.1,93.7" fill="none" stroke="#00ff00" stroke-width="1.1" stroke-linejoin="miter"/>
<path d="M575.9,96 V102 M573.9,96 H577.9 M573.9,102 H577.9" stroke="#00ff00" stroke-width="1.0" fill="none"/>
<polygon points="572.4,100.6 579.5,100.6 575.9,94.9" fill="#fff"/>
<polygon points="574,98 577.9,98 579.5,100.6 572.4,100.6" fill="#00ff00"/>
<polygon points="572.4,100.6 579.5,100.6 575.9,94.9" fill="none" stroke="#00ff00" stroke-width="1.1" stroke-linejoin="miter"/>
<path d="M590.5,100.4 V106.4 M588.5,100.4 H592.5 M588.5,106.4 H592.5" stroke="#00ff00" stroke-width="1.0" fill="none"/>
<polygon points="587,105 594.1,105 590.5,99.3" fill="#fff"/>
<polygon points="588.6,102.4 592.5,102.4 594.1,105 587,105" fill="#00ff00"/>
<polygon points="587,105 594.1,105 590.5,99.3" fill="none" stroke="#00ff00" stroke-width="1.1" stroke-linejoin="miter"/>
<path d="M603.4,109.9 V115.9 M601.4,109.9 H605.4 M601.4,115.9 H605.4" stroke="#00ff00" stroke-width="1.0" fill="none"/>
<polygon points="599.8,114.5 606.9,114.5 603.4,108.8" fill="#fff"/>
<polygon points="601.4,111.9 605.4,111.9 606.9,114.5 599.8,114.5" fill="#00ff00"/>
<polygon points="599.8,114.5 606.9,114.5 603.4,108.8" fill="none" stroke="#00ff00" stroke-width="1.1" stroke-linejoin="miter"/>
<path d="M614.9,115.6 V121.6 M612.9,115.6 H616.9 M612.9,121.6 H616.9" stroke="#00ff00" stroke-width="1.0" fill="none"/>
<polygon points="611.3,120.2 618.4,120.2 614.9,114.5" fill="#fff"/>
<polygon points="612.9,117.6 616.9,117.6 618.4,120.2 611.3,120.2" fill="#00ff00"/>
<polygon points="611.3,120.2 618.4,120.2 614.9,114.5" fill="none" stroke="#00ff00" stroke-width="1.1" stroke-linejoin="miter"/>
<path d="M625.3,122.3 V128.3 M623.3,122.3 H627.3 M623.3,128.3 H627.3" stroke="#00ff00" stroke-width="1.0" fill="none"/>
<polygon points="621.7,126.9 628.8,126.9 625.3,121.2" fill="#fff"/>
<polygon points="623.3,124.3 627.3,124.3 628.8,126.9 621.7,126.9" fill="#00ff00"/>
<polygon points="621.7,126.9 628.8,126.9 625.3,121.2" fill="none" stroke="#00ff00" stroke-width="1.1" stroke-linejoin="miter"/>
<path d="M634.8,126.6 V132.6 M632.8,126.6 H636.8 M632.8,132.6 H636.8" stroke="#00ff00" stroke-width="1.0" fill="none"/>
<polygon points="631.2,131.2 638.3,131.2 634.8,125.5" fill="#fff"/>
<polygon points="632.8,128.6 636.8,128.6 638.3,131.2 631.2,131.2" fill="#00ff00"/>
<polygon points="631.2,131.2 638.3,131.2 634.8,125.5" fill="none" stroke="#00ff00" stroke-width="1.1" stroke-linejoin="miter"/>
<path d="M643.5,129.7 V135.7 M641.5,129.7 H645.5 M641.5,135.7 H645.5" stroke="#00ff00" stroke-width="1.0" fill="none"/>
<polygon points="640,134.3 647.1,134.3 643.5,128.6" fill="#fff"/>
<polygon points="641.6,131.7 645.5,131.7 647.1,134.3 640,134.3" fill="#00ff00"/>
<polygon points="640,134.3 647.1,134.3 643.5,128.6" fill="none" stroke="#00ff00" stroke-width="1.1" stroke-linejoin="miter"/>
<path d="M651.6,130.5 V136.5 M649.6,130.5 H653.6 M649.6,136.5 H653.6" stroke="#00ff00" stroke-width="1.0" fill="none"/>
<polygon points="648.1,135.1 655.2,135.1 651.6,129.4" fill="#fff"/>
<polygon points="649.7,132.5 653.6,132.5 655.2,135.1 648.1,135.1" fill="#00ff00"/>
<polygon points="648.1,135.1 655.2,135.1 651.6,129.4" fill="none" stroke="#00ff00" stroke-width="1.1" stroke-linejoin="miter"/>
<path d="M659.2,139 V145 M657.2,139 H661.2 M657.2,145 H661.2" stroke="#00ff00" stroke-width="1.0" fill="none"/>
<polygon points="655.6,143.6 662.7,143.6 659.2,137.9" fill="#fff"/>
<polygon points="657.2,141 661.1,141 662.7,143.6 655.6,143.6" fill="#00ff00"/>
<polygon points="655.6,143.6 662.7,143.6 659.2,137.9" fill="none" stroke="#00ff00" stroke-width="1.1" stroke-linejoin="miter"/>
<path d="M666.2,139.8 V145.8 M664.2,139.8 H668.2 M664.2,145.8 H668.2" stroke="#00ff00" stroke-width="1.0" fill="none"/>
<polygon points="662.7,144.4 669.8,144.4 666.2,138.7" fill="#fff"/>
<polygon points="664.2,141.8 668.2,141.8 669.8,144.4 662.7,144.4" fill="#00ff00"/>
<polygon points="662.7,144.4 669.8,144.4 666.2,138.7" fill="none" stroke="#00ff00" stroke-width="1.1" stroke-linejoin="miter"/>
<path d="M672.8,134 V140 M670.8,134 H674.8 M670.8,140 H674.8" stroke="#00ff00" stroke-width="1.0" fill="none"/>
<polygon points="669.3,138.6 676.4,138.6 672.8,132.9" fill="#fff"/>
<polygon points="670.9,136 674.8,136 676.4,138.6 669.3,138.6" fill="#00ff00"/>
<polygon points="669.3,138.6 676.4,138.6 672.8,132.9" fill="none" stroke="#00ff00" stroke-width="1.1" stroke-linejoin="miter"/>
<path d="M679.1,135 V141 M677.1,135 H681.1 M677.1,141 H681.1" stroke="#00ff00" stroke-width="1.0" fill="none"/>
<polygon points="675.5,139.6 682.6,139.6 679.1,133.9" fill="#fff"/>
<polygon points="677.1,137 681,137 682.6,139.6 675.5,139.6" fill="#00ff00"/>
<polygon points="675.5,139.6 682.6,139.6 679.1,133.9" fill="none" stroke="#00ff00" stroke-width="1.1" stroke-linejoin="miter"/>
<path d="M483.4,82.4 V90.4 M481.4,82.4 H485.4 M481.4,90.4 H485.4" stroke="#008000" stroke-width="1.0" fill="none"/>
<polygon points="479.9,88 487,88 483.4,82.3" fill="#fff"/>
<polygon points="481.5,85.4 485.4,85.4 487,88 479.9,88" fill="#008000"/>
<polygon points="479.9,88 487,88 483.4,82.3" fill="none" stroke="#008000" stroke-width="1.1" stroke-linejoin="miter"/>
<path d="M514.9,94 V102 M512.9,94 H516.9 M512.9,102 H516.9" stroke="#008000" stroke-width="1.0" fill="none"/>
<polygon points="511.3,99.6 518.4,99.6 514.9,93.9" fill="#fff"/>
<polygon points="512.9,97 516.8,97 518.4,99.6 511.3,99.6" fill="#008000"/>
<polygon points="511.3,99.6 518.4,99.6 514.9,93.9" fill="none" stroke="#008000" stroke-width="1.1" stroke-linejoin="miter"/>
<path d="M539.2,97.7 V104.7 M537.2,97.7 H541.2 M537.2,104.7 H541.2" stroke="#008000" stroke-width="1.0" fill="none"/>
<polygon points="535.7,102.8 542.8,102.8 539.2,97.1" fill="#fff"/>
<polygon points="537.3,100.2 541.2,100.2 542.8,102.8 535.7,102.8" fill="#008000"/>
<polygon points="535.7,102.8 542.8,102.8 539.2,97.1" fill="none" stroke="#008000" stroke-width="1.1" stroke-linejoin="miter"/>
<path d="M559.1,106.5 V112.5 M557.1,106.5 H561.1 M557.1,112.5 H561.1" stroke="#008000" stroke-width="1.0" fill="none"/>
<polygon points="555.6,111.1 562.7,111.1 559.1,105.4" fill="#fff"/>
<polygon points="557.2,108.5 561.1,108.5 562.7,111.1 555.6,111.1" fill="#008000"/>
<polygon points="555.6,111.1 562.7,111.1 559.1,105.4" fill="none" stroke="#008000" stroke-width="1.1" stroke-linejoin="miter"/>
<path d="M575.9,109.2 V115.2 M573.9,109.2 H577.9 M573.9,115.2 H577.9" stroke="#008000" stroke-width="1.0" fill="none"/>
<polygon points="572.4,113.8 579.5,113.8 575.9,108.1" fill="#fff"/>
<polygon points="574,111.2 577.9,111.2 579.5,113.8 572.4,113.8" fill="#008000"/>
<polygon points="572.4,113.8 579.5,113.8 575.9,108.1" fill="none" stroke="#008000" stroke-width="1.1" stroke-linejoin="miter"/>
<path d="M590.5,109.9 V115.9 M588.5,109.9 H592.5 M588.5,115.9 H592.5" stroke="#008000" stroke-width="1.0" fill="none"/>
<polygon points="587,114.5 594.1,114.5 590.5,108.8" fill="#fff"/>
<polygon points="588.6,111.9 592.5,111.9 594.1,114.5 587,114.5" fill="#008000"/>
<polygon points="587,114.5 594.1,114.5 590.5,108.8" fill="none" stroke="#008000" stroke-width="1.1" stroke-linejoin="miter"/>
<path d="M603.4,115.6 V121.6 M601.4,115.6 H605.4 M601.4,121.6 H605.4" stroke="#008000" stroke-width="1.0" fill="none"/>
<polygon points="599.8,120.2 606.9,120.2 603.4,114.5" fill="#fff"/>
<polygon points="601.4,117.6 605.4,117.6 606.9,120.2 599.8,120.2" fill="#008000"/>
<polygon points="599.8,120.2 606.9,120.2 603.4,114.5" fill="none" stroke="#008000" stroke-width="1.1" stroke-linejoin="miter"/>
<path d="M614.9,124.2 V130.2 M612.9,124.2 H616.9 M612.9,130.2 H616.9" stroke="#008000" stroke-width="1.0" fill="none"/>
<polygon points="611.3,128.8 618.4,128.8 614.9,123.1" fill="#fff"/>
<polygon points="612.9,126.2 616.9,126.2 618.4,128.8 611.3,128.8" fill="#008000"/>
<polygon points="611.3,128.8 618.4,128.8 614.9,123.1" fill="none" stroke="#008000" stroke-width="1.1" stroke-linejoin="miter"/>
<path d="M625.3,125.1 V131.1 M623.3,125.1 H627.3 M623.3,131.1 H627.3" stroke="#008000" stroke-width="1.0" fill="none"/>
<polygon points="621.7,129.7 628.8,129.7 625.3,124" fill="#fff"/>
<polygon points="623.3,127.1 627.3,127.1 628.8,129.7 621.7,129.7" fill="#008000"/>
<polygon points="621.7,129.7 628.8,129.7 625.3,124" fill="none" stroke="#008000" stroke-width="1.1" stroke-linejoin="miter"/>
<path d="M634.8,129.7 V135.7 M632.8,129.7 H636.8 M632.8,135.7 H636.8" stroke="#008000" stroke-width="1.0" fill="none"/>
<polygon points="631.2,134.3 638.3,134.3 634.8,128.6" fill="#fff"/>
<polygon points="632.8,131.7 636.8,131.7 638.3,134.3 631.2,134.3" fill="#008000"/>
<polygon points="631.2,134.3 638.3,134.3 634.8,128.6" fill="none" stroke="#008000" stroke-width="1.1" stroke-linejoin="miter"/>
<path d="M643.5,132.8 V138.8 M641.5,132.8 H645.5 M641.5,138.8 H645.5" stroke="#008000" stroke-width="1.0" fill="none"/>
<polygon points="640,137.4 647.1,137.4 643.5,131.7" fill="#fff"/>
<polygon points="641.6,134.8 645.5,134.8 647.1,137.4 640,137.4" fill="#008000"/>
<polygon points="640,137.4 647.1,137.4 643.5,131.7" fill="none" stroke="#008000" stroke-width="1.1" stroke-linejoin="miter"/>
<path d="M651.6,134.4 V140.4 M649.6,134.4 H653.6 M649.6,140.4 H653.6" stroke="#008000" stroke-width="1.0" fill="none"/>
<polygon points="648.1,139 655.2,139 651.6,133.3" fill="#fff"/>
<polygon points="649.7,136.4 653.6,136.4 655.2,139 648.1,139" fill="#008000"/>
<polygon points="648.1,139 655.2,139 651.6,133.3" fill="none" stroke="#008000" stroke-width="1.1" stroke-linejoin="miter"/>
<path d="M659.2,141.3 V147.3 M657.2,141.3 H661.2 M657.2,147.3 H661.2" stroke="#008000" stroke-width="1.0" fill="none"/>
<polygon points="655.6,145.9 662.7,145.9 659.2,140.2" fill="#fff"/>
<polygon points="657.2,143.3 661.1,143.3 662.7,145.9 655.6,145.9" fill="#008000"/>
<polygon points="655.6,145.9 662.7,145.9 659.2,140.2" fill="none" stroke="#008000" stroke-width="1.1" stroke-linejoin="miter"/>
<path d="M666.2,141 V147 M664.2,141 H668.2 M664.2,147 H668.2" stroke="#008000" stroke-width="1.0" fill="none"/>
<polygon points="662.7,145.6 669.8,145.6 666.2,139.9" fill="#fff"/>
<polygon points="664.2,143 668.2,143 669.8,145.6 662.7,145.6" fill="#008000"/>
<polygon points="662.7,145.6 669.8,145.6 666.2,139.9" fill="none" stroke="#008000" stroke-width="1.1" stroke-linejoin="miter"/>
<path d="M672.8,136 V142 M670.8,136 H674.8 M670.8,142 H674.8" stroke="#008000" stroke-width="1.0" fill="none"/>
<polygon points="669.3,140.6 676.4,140.6 672.8,134.9" fill="#fff"/>
<polygon points="670.9,138 674.8,138 676.4,140.6 669.3,140.6" fill="#008000"/>
<polygon points="669.3,140.6 676.4,140.6 672.8,134.9" fill="none" stroke="#008000" stroke-width="1.1" stroke-linejoin="miter"/>
<path d="M679.1,134 V140 M677.1,134 H681.1 M677.1,140 H681.1" stroke="#008000" stroke-width="1.0" fill="none"/>
<polygon points="675.5,138.6 682.6,138.6 679.1,132.9" fill="#fff"/>
<polygon points="677.1,136 681,136 682.6,138.6 675.5,138.6" fill="#008000"/>
<polygon points="675.5,138.6 682.6,138.6 679.1,132.9" fill="none" stroke="#008000" stroke-width="1.1" stroke-linejoin="miter"/>
<path d="M483.4,85 V93 M481.4,85 H485.4 M481.4,93 H485.4" stroke="#008080" stroke-width="1.0" fill="none"/>
<polygon points="479.9,90.6 487,90.6 483.4,84.9" fill="#fff"/>
<polygon points="481.5,88 485.4,88 487,90.6 479.9,90.6" fill="#008080"/>
<polygon points="479.9,90.6 487,90.6 483.4,84.9" fill="none" stroke="#008080" stroke-width="1.1" stroke-linejoin="miter"/>
<path d="M514.9,99.3 V107.3 M512.9,99.3 H516.9 M512.9,107.3 H516.9" stroke="#008080" stroke-width="1.0" fill="none"/>
<polygon points="511.3,104.9 518.4,104.9 514.9,99.2" fill="#fff"/>
<polygon points="512.9,102.3 516.8,102.3 518.4,104.9 511.3,104.9" fill="#008080"/>
<polygon points="511.3,104.9 518.4,104.9 514.9,99.2" fill="none" stroke="#008080" stroke-width="1.1" stroke-linejoin="miter"/>
<path d="M539.2,98.5 V105.5 M537.2,98.5 H541.2 M537.2,105.5 H541.2" stroke="#008080" stroke-width="1.0" fill="none"/>
<polygon points="535.7,103.6 542.8,103.6 539.2,97.9" fill="#fff"/>
<polygon points="537.3,101 541.2,101 542.8,103.6 535.7,103.6" fill="#008080"/>
<polygon points="535.7,103.6 542.8,103.6 539.2,97.9" fill="none" stroke="#008080" stroke-width="1.1" stroke-linejoin="miter"/>
<path d="M559.1,113.1 V119.1 M557.1,113.1 H561.1 M557.1,119.1 H561.1" stroke="#008080" stroke-width="1.0" fill="none"/>
<polygon points="555.6,117.7 562.7,117.7 559.1,112" fill="#fff"/>
<polygon points="557.2,115.1 561.1,115.1 562.7,117.7 555.6,117.7" fill="#008080"/>
<polygon points="555.6,117.7 562.7,117.7 559.1,112" fill="none" stroke="#008080" stroke-width="1.1" stroke-linejoin="miter"/>
<path d="M575.9,117 V123 M573.9,117 H577.9 M573.9,123 H577.9" stroke="#008080" stroke-width="1.0" fill="none"/>
<polygon points="572.4,121.6 579.5,121.6 575.9,115.9" fill="#fff"/>
<polygon points="574,119 577.9,119 579.5,121.6 572.4,121.6" fill="#008080"/>
<polygon points="572.4,121.6 579.5,121.6 575.9,115.9" fill="none" stroke="#008080" stroke-width="1.1" stroke-linejoin="miter"/>
<path d="M590.5,118.5 V124.5 M588.5,118.5 H592.5 M588.5,124.5 H592.5" stroke="#008080" stroke-width="1.0" fill="none"/>
<polygon points="587,123.1 594.1,123.1 590.5,117.4" fill="#fff"/>
<polygon points="588.6,120.5 592.5,120.5 594.1,123.1 587,123.1" fill="#008080"/>
<polygon points="587,123.1 594.1,123.1 590.5,117.4" fill="none" stroke="#008080" stroke-width="1.1" stroke-linejoin="miter"/>
<path d="M603.4,122.3 V128.3 M601.4,122.3 H605.4 M601.4,128.3 H605.4" stroke="#008080" stroke-width="1.0" fill="none"/>
<polygon points="599.8,126.9 606.9,126.9 603.4,121.2" fill="#fff"/>
<polygon points="601.4,124.3 605.4,124.3 606.9,126.9 599.8,126.9" fill="#008080"/>
<polygon points="599.8,126.9 606.9,126.9 603.4,121.2" fill="none" stroke="#008080" stroke-width="1.1" stroke-linejoin="miter"/>
<path d="M614.9,127 V133 M612.9,127 H616.9 M612.9,133 H616.9" stroke="#008080" stroke-width="1.0" fill="none"/>
<polygon points="611.3,131.6 618.4,131.6 614.9,125.9" fill="#fff"/>
<polygon points="612.9,129 616.9,129 618.4,131.6 611.3,131.6" fill="#008080"/>
<polygon points="611.3,131.6 618.4,131.6 614.9,125.9" fill="none" stroke="#008080" stroke-width="1.1" stroke-linejoin="miter"/>
<path d="M625.3,129 V135 M623.3,129 H627.3 M623.3,135 H627.3" stroke="#008080" stroke-width="1.0" fill="none"/>
<polygon points="621.7,133.6 628.8,133.6 625.3,127.9" fill="#fff"/>
<polygon points="623.3,131 627.3,131 628.8,133.6 621.7,133.6" fill="#008080"/>
<polygon points="621.7,133.6 628.8,133.6 625.3,127.9" fill="none" stroke="#008080" stroke-width="1.1" stroke-linejoin="miter"/>
<path d="M634.8,132.8 V138.8 M632.8,132.8 H636.8 M632.8,138.8 H636.8" stroke="#008080" stroke-width="1.0" fill="none"/>
<polygon points="631.2,137.4 638.3,137.4 634.8,131.7" fill="#fff"/>
<polygon points="632.8,134.8 636.8,134.8 638.3,137.4 631.2,137.4" fill="#008080"/>
<polygon points="631.2,137.4 638.3,137.4 634.8,131.7" fill="none" stroke="#008080" stroke-width="1.1" stroke-linejoin="miter"/>
<path d="M643.5,135.2 V141.2 M641.5,135.2 H645.5 M641.5,141.2 H645.5" stroke="#008080" stroke-width="1.0" fill="none"/>
<polygon points="640,139.8 647.1,139.8 643.5,134.1" fill="#fff"/>
<polygon points="641.6,137.2 645.5,137.2 647.1,139.8 640,139.8" fill="#008080"/>
<polygon points="640,139.8 647.1,139.8 643.5,134.1" fill="none" stroke="#008080" stroke-width="1.1" stroke-linejoin="miter"/>
<path d="M651.6,137.5 V143.5 M649.6,137.5 H653.6 M649.6,143.5 H653.6" stroke="#008080" stroke-width="1.0" fill="none"/>
<polygon points="648.1,142.1 655.2,142.1 651.6,136.4" fill="#fff"/>
<polygon points="649.7,139.5 653.6,139.5 655.2,142.1 648.1,142.1" fill="#008080"/>
<polygon points="648.1,142.1 655.2,142.1 651.6,136.4" fill="none" stroke="#008080" stroke-width="1.1" stroke-linejoin="miter"/>
<path d="M659.2,143 V149 M657.2,143 H661.2 M657.2,149 H661.2" stroke="#008080" stroke-width="1.0" fill="none"/>
<polygon points="655.6,147.6 662.7,147.6 659.2,141.9" fill="#fff"/>
<polygon points="657.2,145 661.1,145 662.7,147.6 655.6,147.6" fill="#008080"/>
<polygon points="655.6,147.6 662.7,147.6 659.2,141.9" fill="none" stroke="#008080" stroke-width="1.1" stroke-linejoin="miter"/>
<path d="M666.2,143 V149 M664.2,143 H668.2 M664.2,149 H668.2" stroke="#008080" stroke-width="1.0" fill="none"/>
<polygon points="662.7,147.6 669.8,147.6 666.2,141.9" fill="#fff"/>
<polygon points="664.2,145 668.2,145 669.8,147.6 662.7,147.6" fill="#008080"/>
<polygon points="662.7,147.6 669.8,147.6 666.2,141.9" fill="none" stroke="#008080" stroke-width="1.1" stroke-linejoin="miter"/>
<path d="M672.8,136.7 V142.7 M670.8,136.7 H674.8 M670.8,142.7 H674.8" stroke="#008080" stroke-width="1.0" fill="none"/>
<polygon points="669.3,141.3 676.4,141.3 672.8,135.6" fill="#fff"/>
<polygon points="670.9,138.7 674.8,138.7 676.4,141.3 669.3,141.3" fill="#008080"/>
<polygon points="669.3,141.3 676.4,141.3 672.8,135.6" fill="none" stroke="#008080" stroke-width="1.1" stroke-linejoin="miter"/>
<path d="M679.1,131.3 V137.3 M677.1,131.3 H681.1 M677.1,137.3 H681.1" stroke="#008080" stroke-width="1.0" fill="none"/>
<polygon points="675.5,135.9 682.6,135.9 679.1,130.2" fill="#fff"/>
<polygon points="677.1,133.3 681,133.3 682.6,135.9 675.5,135.9" fill="#008080"/>
<polygon points="675.5,135.9 682.6,135.9 679.1,130.2" fill="none" stroke="#008080" stroke-width="1.1" stroke-linejoin="miter"/>
<path d="M483.4,89.5 V97.5 M481.4,89.5 H485.4 M481.4,97.5 H485.4" stroke="#00ffff" stroke-width="1.0" fill="none"/>
<polygon points="479.9,95.1 487,95.1 483.4,89.4" fill="#fff"/>
<polygon points="481.5,92.5 485.4,92.5 487,95.1 479.9,95.1" fill="#00ffff"/>
<polygon points="479.9,95.1 487,95.1 483.4,89.4" fill="none" stroke="#00ffff" stroke-width="1.1" stroke-linejoin="miter"/>
<path d="M514.9,104.7 V112.7 M512.9,104.7 H516.9 M512.9,112.7 H516.9" stroke="#00ffff" stroke-width="1.0" fill="none"/>
<polygon points="511.3,110.3 518.4,110.3 514.9,104.6" fill="#fff"/>
<polygon points="512.9,107.7 516.8,107.7 518.4,110.3 511.3,110.3" fill="#00ffff"/>
<polygon points="511.3,110.3 518.4,110.3 514.9,104.6" fill="none" stroke="#00ffff" stroke-width="1.1" stroke-linejoin="miter"/>
<path d="M539.2,105.5 V112.5 M537.2,105.5 H541.2 M537.2,112.5 H541.2" stroke="#00ffff" stroke-width="1.0" fill="none"/>
<polygon points="535.7,110.6 542.8,110.6 539.2,104.9" fill="#fff"/>
<polygon points="537.3,108 541.2,108 542.8,110.6 535.7,110.6" fill="#00ffff"/>
<polygon points="535.7,110.6 542.8,110.6 539.2,104.9" fill="none" stroke="#00ffff" stroke-width="1.1" stroke-linejoin="miter"/>
<path d="M559.1,120.9 V126.9 M557.1,120.9 H561.1 M557.1,126.9 H561.1" stroke="#00ffff" stroke-width="1.0" fill="none"/>
<polygon points="555.6,125.5 562.7,125.5 559.1,119.8" fill="#fff"/>
<polygon points="557.2,122.9 561.1,122.9 562.7,125.5 555.6,125.5" fill="#00ffff"/>
<polygon points="555.6,125.5 562.7,125.5 559.1,119.8" fill="none" stroke="#00ffff" stroke-width="1.1" stroke-linejoin="miter"/>
<path d="M575.9,120 V126 M573.9,120 H577.9 M573.9,126 H577.9" stroke="#00ffff" stroke-width="1.0" fill="none"/>
<polygon points="572.4,124.6 579.5,124.6 575.9,118.9" fill="#fff"/>
<polygon points="574,122 577.9,122 579.5,124.6 572.4,124.6" fill="#00ffff"/>
<polygon points="572.4,124.6 579.5,124.6 575.9,118.9" fill="none" stroke="#00ffff" stroke-width="1.1" stroke-linejoin="miter"/>
<path d="M590.5,121 V127 M588.5,121 H592.5 M588.5,127 H592.5" stroke="#00ffff" stroke-width="1.0" fill="none"/>
<polygon points="587,125.6 594.1,125.6 590.5,119.9" fill="#fff"/>
<polygon points="588.6,123 592.5,123 594.1,125.6 587,125.6" fill="#00ffff"/>
<polygon points="587,125.6 594.1,125.6 590.5,119.9" fill="none" stroke="#00ffff" stroke-width="1.1" stroke-linejoin="miter"/>
<path d="M603.4,126 V132 M601.4,126 H605.4 M601.4,132 H605.4" stroke="#00ffff" stroke-width="1.0" fill="none"/>
<polygon points="599.8,130.6 606.9,130.6 603.4,124.9" fill="#fff"/>
<polygon points="601.4,128 605.4,128 606.9,130.6 599.8,130.6" fill="#00ffff"/>
<polygon points="599.8,130.6 606.9,130.6 603.4,124.9" fill="none" stroke="#00ffff" stroke-width="1.1" stroke-linejoin="miter"/>
<path d="M614.9,131.8 V137.8 M612.9,131.8 H616.9 M612.9,137.8 H616.9" stroke="#00ffff" stroke-width="1.0" fill="none"/>
<polygon points="611.3,136.4 618.4,136.4 614.9,130.7" fill="#fff"/>
<polygon points="612.9,133.8 616.9,133.8 618.4,136.4 611.3,136.4" fill="#00ffff"/>
<polygon points="611.3,136.4 618.4,136.4 614.9,130.7" fill="none" stroke="#00ffff" stroke-width="1.1" stroke-linejoin="miter"/>
<path d="M625.3,131 V137 M623.3,131 H627.3 M623.3,137 H627.3" stroke="#00ffff" stroke-width="1.0" fill="none"/>
<polygon points="621.7,135.6 628.8,135.6 625.3,129.9" fill="#fff"/>
<polygon points="623.3,133 627.3,133 628.8,135.6 621.7,135.6" fill="#00ffff"/>
<polygon points="621.7,135.6 628.8,135.6 625.3,129.9" fill="none" stroke="#00ffff" stroke-width="1.1" stroke-linejoin="miter"/>
<path d="M634.8,132.8 V138.8 M632.8,132.8 H636.8 M632.8,138.8 H636.8" stroke="#00ffff" stroke-width="1.0" fill="none"/>
<polygon points="631.2,137.4 638.3,137.4 634.8,131.7" fill="#fff"/>
<polygon points="632.8,134.8 636.8,134.8 638.3,137.4 631.2,137.4" fill="#00ffff"/>
<polygon points="631.2,137.4 638.3,137.4 634.8,131.7" fill="none" stroke="#00ffff" stroke-width="1.1" stroke-linejoin="miter"/>
<path d="M643.5,136 V142 M641.5,136 H645.5 M641.5,142 H645.5" stroke="#00ffff" stroke-width="1.0" fill="none"/>
<polygon points="640,140.6 647.1,140.6 643.5,134.9" fill="#fff"/>
<polygon points="641.6,138 645.5,138 647.1,140.6 640,140.6" fill="#00ffff"/>
<polygon points="640,140.6 647.1,140.6 643.5,134.9" fill="none" stroke="#00ffff" stroke-width="1.1" stroke-linejoin="miter"/>
<path d="M651.6,137.5 V143.5 M649.6,137.5 H653.6 M649.6,143.5 H653.6" stroke="#00ffff" stroke-width="1.0" fill="none"/>
<polygon points="648.1,142.1 655.2,142.1 651.6,136.4" fill="#fff"/>
<polygon points="649.7,139.5 653.6,139.5 655.2,142.1 648.1,142.1" fill="#00ffff"/>
<polygon points="648.1,142.1 655.2,142.1 651.6,136.4" fill="none" stroke="#00ffff" stroke-width="1.1" stroke-linejoin="miter"/>
<path d="M659.2,144 V150 M657.2,144 H661.2 M657.2,150 H661.2" stroke="#00ffff" stroke-width="1.0" fill="none"/>
<polygon points="655.6,148.6 662.7,148.6 659.2,142.9" fill="#fff"/>
<polygon points="657.2,146 661.1,146 662.7,148.6 655.6,148.6" fill="#00ffff"/>
<polygon points="655.6,148.6 662.7,148.6 659.2,142.9" fill="none" stroke="#00ffff" stroke-width="1.1" stroke-linejoin="miter"/>
<path d="M666.2,144 V150 M664.2,144 H668.2 M664.2,150 H668.2" stroke="#00ffff" stroke-width="1.0" fill="none"/>
<polygon points="662.7,148.6 669.8,148.6 666.2,142.9" fill="#fff"/>
<polygon points="664.2,146 668.2,146 669.8,148.6 662.7,148.6" fill="#00ffff"/>
<polygon points="662.7,148.6 669.8,148.6 666.2,142.9" fill="none" stroke="#00ffff" stroke-width="1.1" stroke-linejoin="miter"/>
<path d="M672.8,137 V143 M670.8,137 H674.8 M670.8,143 H674.8" stroke="#00ffff" stroke-width="1.0" fill="none"/>
<polygon points="669.3,141.6 676.4,141.6 672.8,135.9" fill="#fff"/>
<polygon points="670.9,139 674.8,139 676.4,141.6 669.3,141.6" fill="#00ffff"/>
<polygon points="669.3,141.6 676.4,141.6 672.8,135.9" fill="none" stroke="#00ffff" stroke-width="1.1" stroke-linejoin="miter"/>
<path d="M679.1,134 V140 M677.1,134 H681.1 M677.1,140 H681.1" stroke="#00ffff" stroke-width="1.0" fill="none"/>
<polygon points="675.5,138.6 682.6,138.6 679.1,132.9" fill="#fff"/>
<polygon points="677.1,136 681,136 682.6,138.6 675.5,138.6" fill="#00ffff"/>
<polygon points="675.5,138.6 682.6,138.6 679.1,132.9" fill="none" stroke="#00ffff" stroke-width="1.1" stroke-linejoin="miter"/>
<path d="M483.4,97.5 V105.5 M481.4,97.5 H485.4 M481.4,105.5 H485.4" stroke="#0000ff" stroke-width="1.0" fill="none"/>
<polygon points="479.9,103.1 487,103.1 483.4,97.4" fill="#fff"/>
<polygon points="481.5,100.5 485.4,100.5 487,103.1 479.9,103.1" fill="#0000ff"/>
<polygon points="479.9,103.1 487,103.1 483.4,97.4" fill="none" stroke="#0000ff" stroke-width="1.1" stroke-linejoin="miter"/>
<path d="M514.9,107.4 V115.4 M512.9,107.4 H516.9 M512.9,115.4 H516.9" stroke="#0000ff" stroke-width="1.0" fill="none"/>
<polygon points="511.3,113 518.4,113 514.9,107.3" fill="#fff"/>
<polygon points="512.9,110.4 516.8,110.4 518.4,113 511.3,113" fill="#0000ff"/>
<polygon points="511.3,113 518.4,113 514.9,107.3" fill="none" stroke="#0000ff" stroke-width="1.1" stroke-linejoin="miter"/>
<path d="M539.2,108.7 V115.7 M537.2,108.7 H541.2 M537.2,115.7 H541.2" stroke="#0000ff" stroke-width="1.0" fill="none"/>
<polygon points="535.7,113.8 542.8,113.8 539.2,108.1" fill="#fff"/>
<polygon points="537.3,111.2 541.2,111.2 542.8,113.8 535.7,113.8" fill="#0000ff"/>
<polygon points="535.7,113.8 542.8,113.8 539.2,108.1" fill="none" stroke="#0000ff" stroke-width="1.1" stroke-linejoin="miter"/>
<path d="M559.1,121 V127 M557.1,121 H561.1 M557.1,127 H561.1" stroke="#0000ff" stroke-width="1.0" fill="none"/>
<polygon points="555.6,125.6 562.7,125.6 559.1,119.9" fill="#fff"/>
<polygon points="557.2,123 561.1,123 562.7,125.6 555.6,125.6" fill="#0000ff"/>
<polygon points="555.6,125.6 562.7,125.6 559.1,119.9" fill="none" stroke="#0000ff" stroke-width="1.1" stroke-linejoin="miter"/>
<path d="M575.9,123.5 V129.5 M573.9,123.5 H577.9 M573.9,129.5 H577.9" stroke="#0000ff" stroke-width="1.0" fill="none"/>
<polygon points="572.4,128.1 579.5,128.1 575.9,122.4" fill="#fff"/>
<polygon points="574,125.5 577.9,125.5 579.5,128.1 572.4,128.1" fill="#0000ff"/>
<polygon points="572.4,128.1 579.5,128.1 575.9,122.4" fill="none" stroke="#0000ff" stroke-width="1.1" stroke-linejoin="miter"/>
<path d="M590.5,124.2 V130.2 M588.5,124.2 H592.5 M588.5,130.2 H592.5" stroke="#0000ff" stroke-width="1.0" fill="none"/>
<polygon points="587,128.8 594.1,128.8 590.5,123.1" fill="#fff"/>
<polygon points="588.6,126.2 592.5,126.2 594.1,128.8 587,128.8" fill="#0000ff"/>
<polygon points="587,128.8 594.1,128.8 590.5,123.1" fill="none" stroke="#0000ff" stroke-width="1.1" stroke-linejoin="miter"/>
<path d="M603.4,129.9 V135.9 M601.4,129.9 H605.4 M601.4,135.9 H605.4" stroke="#0000ff" stroke-width="1.0" fill="none"/>
<polygon points="599.8,134.5 606.9,134.5 603.4,128.8" fill="#fff"/>
<polygon points="601.4,131.9 605.4,131.9 606.9,134.5 599.8,134.5" fill="#0000ff"/>
<polygon points="599.8,134.5 606.9,134.5 603.4,128.8" fill="none" stroke="#0000ff" stroke-width="1.1" stroke-linejoin="miter"/>
<path d="M614.9,134 V140 M612.9,134 H616.9 M612.9,140 H616.9" stroke="#0000ff" stroke-width="1.0" fill="none"/>
<polygon points="611.3,138.6 618.4,138.6 614.9,132.9" fill="#fff"/>
<polygon points="612.9,136 616.9,136 618.4,138.6 611.3,138.6" fill="#0000ff"/>
<polygon points="611.3,138.6 618.4,138.6 614.9,132.9" fill="none" stroke="#0000ff" stroke-width="1.1" stroke-linejoin="miter"/>
<path d="M625.3,132.8 V138.8 M623.3,132.8 H627.3 M623.3,138.8 H627.3" stroke="#0000ff" stroke-width="1.0" fill="none"/>
<polygon points="621.7,137.4 628.8,137.4 625.3,131.7" fill="#fff"/>
<polygon points="623.3,134.8 627.3,134.8 628.8,137.4 621.7,137.4" fill="#0000ff"/>
<polygon points="621.7,137.4 628.8,137.4 625.3,131.7" fill="none" stroke="#0000ff" stroke-width="1.1" stroke-linejoin="miter"/>
<path d="M634.8,136.7 V142.7 M632.8,136.7 H636.8 M632.8,142.7 H636.8" stroke="#0000ff" stroke-width="1.0" fill="none"/>
<polygon points="631.2,141.3 638.3,141.3 634.8,135.6" fill="#fff"/>
<polygon points="632.8,138.7 636.8,138.7 638.3,141.3 631.2,141.3" fill="#0000ff"/>
<polygon points="631.2,141.3 638.3,141.3 634.8,135.6" fill="none" stroke="#0000ff" stroke-width="1.1" stroke-linejoin="miter"/>
<path d="M643.5,137.5 V143.5 M641.5,137.5 H645.5 M641.5,143.5 H645.5" stroke="#0000ff" stroke-width="1.0" fill="none"/>
<polygon points="640,142.1 647.1,142.1 643.5,136.4" fill="#fff"/>
<polygon points="641.6,139.5 645.5,139.5 647.1,142.1 640,142.1" fill="#0000ff"/>
<polygon points="640,142.1 647.1,142.1 643.5,136.4" fill="none" stroke="#0000ff" stroke-width="1.1" stroke-linejoin="miter"/>
<path d="M651.6,142.9 V148.9 M649.6,142.9 H653.6 M649.6,148.9 H653.6" stroke="#0000ff" stroke-width="1.0" fill="none"/>
<polygon points="648.1,147.5 655.2,147.5 651.6,141.8" fill="#fff"/>
<polygon points="649.7,144.9 653.6,144.9 655.2,147.5 648.1,147.5" fill="#0000ff"/>
<polygon points="648.1,147.5 655.2,147.5 651.6,141.8" fill="none" stroke="#0000ff" stroke-width="1.1" stroke-linejoin="miter"/>
<path d="M659.2,146 V152 M657.2,146 H661.2 M657.2,152 H661.2" stroke="#0000ff" stroke-width="1.0" fill="none"/>
<polygon points="655.6,150.6 662.7,150.6 659.2,144.9" fill="#fff"/>
<polygon points="657.2,148 661.1,148 662.7,150.6 655.6,150.6" fill="#0000ff"/>
<polygon points="655.6,150.6 662.7,150.6 659.2,144.9" fill="none" stroke="#0000ff" stroke-width="1.1" stroke-linejoin="miter"/>
<path d="M666.2,144.4 V150.4 M664.2,144.4 H668.2 M664.2,150.4 H668.2" stroke="#0000ff" stroke-width="1.0" fill="none"/>
<polygon points="662.7,149 669.8,149 666.2,143.3" fill="#fff"/>
<polygon points="664.2,146.4 668.2,146.4 669.8,149 662.7,149" fill="#0000ff"/>
<polygon points="662.7,149 669.8,149 666.2,143.3" fill="none" stroke="#0000ff" stroke-width="1.1" stroke-linejoin="miter"/>
<path d="M672.8,139 V145 M670.8,139 H674.8 M670.8,145 H674.8" stroke="#0000ff" stroke-width="1.0" fill="none"/>
<polygon points="669.3,143.6 676.4,143.6 672.8,137.9" fill="#fff"/>
<polygon points="670.9,141 674.8,141 676.4,143.6 669.3,143.6" fill="#0000ff"/>
<polygon points="669.3,143.6 676.4,143.6 672.8,137.9" fill="none" stroke="#0000ff" stroke-width="1.1" stroke-linejoin="miter"/>
<path d="M679.1,134 V140 M677.1,134 H681.1 M677.1,140 H681.1" stroke="#0000ff" stroke-width="1.0" fill="none"/>
<polygon points="675.5,138.6 682.6,138.6 679.1,132.9" fill="#fff"/>
<polygon points="677.1,136 681,136 682.6,138.6 675.5,138.6" fill="#0000ff"/>
<polygon points="675.5,138.6 682.6,138.6 679.1,132.9" fill="none" stroke="#0000ff" stroke-width="1.1" stroke-linejoin="miter"/>
<path d="M483.4,100.2 V108.2 M481.4,100.2 H485.4 M481.4,108.2 H485.4" stroke="#000080" stroke-width="1.0" fill="none"/>
<polygon points="479.9,105.8 487,105.8 483.4,100.1" fill="#fff"/>
<polygon points="481.5,103.2 485.4,103.2 487,105.8 479.9,105.8" fill="#000080"/>
<polygon points="479.9,105.8 487,105.8 483.4,100.1" fill="none" stroke="#000080" stroke-width="1.1" stroke-linejoin="miter"/>
<path d="M514.9,109 V117 M512.9,109 H516.9 M512.9,117 H516.9" stroke="#000080" stroke-width="1.0" fill="none"/>
<polygon points="511.3,114.6 518.4,114.6 514.9,108.9" fill="#fff"/>
<polygon points="512.9,112 516.8,112 518.4,114.6 511.3,114.6" fill="#000080"/>
<polygon points="511.3,114.6 518.4,114.6 514.9,108.9" fill="none" stroke="#000080" stroke-width="1.1" stroke-linejoin="miter"/>
<path d="M539.2,109.5 V116.5 M537.2,109.5 H541.2 M537.2,116.5 H541.2" stroke="#000080" stroke-width="1.0" fill="none"/>
<polygon points="535.7,114.6 542.8,114.6 539.2,108.9" fill="#fff"/>
<polygon points="537.3,112 541.2,112 542.8,114.6 535.7,114.6" fill="#000080"/>
<polygon points="535.7,114.6 542.8,114.6 539.2,108.9" fill="none" stroke="#000080" stroke-width="1.1" stroke-linejoin="miter"/>
<path d="M559.1,123 V129 M557.1,123 H561.1 M557.1,129 H561.1" stroke="#000080" stroke-width="1.0" fill="none"/>
<polygon points="555.6,127.6 562.7,127.6 559.1,121.9" fill="#fff"/>
<polygon points="557.2,125 561.1,125 562.7,127.6 555.6,127.6" fill="#000080"/>
<polygon points="555.6,127.6 562.7,127.6 559.1,121.9" fill="none" stroke="#000080" stroke-width="1.1" stroke-linejoin="miter"/>
<path d="M575.9,123.5 V129.5 M573.9,123.5 H577.9 M573.9,129.5 H577.9" stroke="#000080" stroke-width="1.0" fill="none"/>
<polygon points="572.4,128.1 579.5,128.1 575.9,122.4" fill="#fff"/>
<polygon points="574,125.5 577.9,125.5 579.5,128.1 572.4,128.1" fill="#000080"/>
<polygon points="572.4,128.1 579.5,128.1 575.9,122.4" fill="none" stroke="#000080" stroke-width="1.1" stroke-linejoin="miter"/>
<path d="M590.5,126.1 V132.1 M588.5,126.1 H592.5 M588.5,132.1 H592.5" stroke="#000080" stroke-width="1.0" fill="none"/>
<polygon points="587,130.7 594.1,130.7 590.5,125" fill="#fff"/>
<polygon points="588.6,128.1 592.5,128.1 594.1,130.7 587,130.7" fill="#000080"/>
<polygon points="587,130.7 594.1,130.7 590.5,125" fill="none" stroke="#000080" stroke-width="1.1" stroke-linejoin="miter"/>
<path d="M603.4,129.9 V135.9 M601.4,129.9 H605.4 M601.4,135.9 H605.4" stroke="#000080" stroke-width="1.0" fill="none"/>
<polygon points="599.8,134.5 606.9,134.5 603.4,128.8" fill="#fff"/>
<polygon points="601.4,131.9 605.4,131.9 606.9,134.5 599.8,134.5" fill="#000080"/>
<polygon points="599.8,134.5 606.9,134.5 603.4,128.8" fill="none" stroke="#000080" stroke-width="1.1" stroke-linejoin="miter"/>
<path d="M614.9,135 V141 M612.9,135 H616.9 M612.9,141 H616.9" stroke="#000080" stroke-width="1.0" fill="none"/>
<polygon points="611.3,139.6 618.4,139.6 614.9,133.9" fill="#fff"/>
<polygon points="612.9,137 616.9,137 618.4,139.6 611.3,139.6" fill="#000080"/>
<polygon points="611.3,139.6 618.4,139.6 614.9,133.9" fill="none" stroke="#000080" stroke-width="1.1" stroke-linejoin="miter"/>
<path d="M625.3,134.5 V140.5 M623.3,134.5 H627.3 M623.3,140.5 H627.3" stroke="#000080" stroke-width="1.0" fill="none"/>
<polygon points="621.7,139.1 628.8,139.1 625.3,133.4" fill="#fff"/>
<polygon points="623.3,136.5 627.3,136.5 628.8,139.1 621.7,139.1" fill="#000080"/>
<polygon points="621.7,139.1 628.8,139.1 625.3,133.4" fill="none" stroke="#000080" stroke-width="1.1" stroke-linejoin="miter"/>
<path d="M634.8,138 V144 M632.8,138 H636.8 M632.8,144 H636.8" stroke="#000080" stroke-width="1.0" fill="none"/>
<polygon points="631.2,142.6 638.3,142.6 634.8,136.9" fill="#fff"/>
<polygon points="632.8,140 636.8,140 638.3,142.6 631.2,142.6" fill="#000080"/>
<polygon points="631.2,142.6 638.3,142.6 634.8,136.9" fill="none" stroke="#000080" stroke-width="1.1" stroke-linejoin="miter"/>
<path d="M643.5,139 V145 M641.5,139 H645.5 M641.5,145 H645.5" stroke="#000080" stroke-width="1.0" fill="none"/>
<polygon points="640,143.6 647.1,143.6 643.5,137.9" fill="#fff"/>
<polygon points="641.6,141 645.5,141 647.1,143.6 640,143.6" fill="#000080"/>
<polygon points="640,143.6 647.1,143.6 643.5,137.9" fill="none" stroke="#000080" stroke-width="1.1" stroke-linejoin="miter"/>
<path d="M651.6,144 V150 M649.6,144 H653.6 M649.6,150 H653.6" stroke="#000080" stroke-width="1.0" fill="none"/>
<polygon points="648.1,148.6 655.2,148.6 651.6,142.9" fill="#fff"/>
<polygon points="649.7,146 653.6,146 655.2,148.6 648.1,148.6" fill="#000080"/>
<polygon points="648.1,148.6 655.2,148.6 651.6,142.9" fill="none" stroke="#000080" stroke-width="1.1" stroke-linejoin="miter"/>
<path d="M659.2,147 V153 M657.2,147 H661.2 M657.2,153 H661.2" stroke="#000080" stroke-width="1.0" fill="none"/>
<polygon points="655.6,151.6 662.7,151.6 659.2,145.9" fill="#fff"/>
<polygon points="657.2,149 661.1,149 662.7,151.6 655.6,151.6" fill="#000080"/>
<polygon points="655.6,151.6 662.7,151.6 659.2,145.9" fill="none" stroke="#000080" stroke-width="1.1" stroke-linejoin="miter"/>
<path d="M666.2,145 V151 M664.2,145 H668.2 M664.2,151 H668.2" stroke="#000080" stroke-width="1.0" fill="none"/>
<polygon points="662.7,149.6 669.8,149.6 666.2,143.9" fill="#fff"/>
<polygon points="664.2,147 668.2,147 669.8,149.6 662.7,149.6" fill="#000080"/>
<polygon points="662.7,149.6 669.8,149.6 666.2,143.9" fill="none" stroke="#000080" stroke-width="1.1" stroke-linejoin="miter"/>
<path d="M672.8,139 V145 M670.8,139 H674.8 M670.8,145 H674.8" stroke="#000080" stroke-width="1.0" fill="none"/>
<polygon points="669.3,143.6 676.4,143.6 672.8,137.9" fill="#fff"/>
<polygon points="670.9,141 674.8,141 676.4,143.6 669.3,143.6" fill="#000080"/>
<polygon points="669.3,143.6 676.4,143.6 672.8,137.9" fill="none" stroke="#000080" stroke-width="1.1" stroke-linejoin="miter"/>
<path d="M679.1,131.3 V137.3 M677.1,131.3 H681.1 M677.1,137.3 H681.1" stroke="#000080" stroke-width="1.0" fill="none"/>
<polygon points="675.5,135.9 682.6,135.9 679.1,130.2" fill="#fff"/>
<polygon points="677.1,133.3 681,133.3 682.6,135.9 675.5,135.9" fill="#000080"/>
<polygon points="675.5,135.9 682.6,135.9 679.1,130.2" fill="none" stroke="#000080" stroke-width="1.1" stroke-linejoin="miter"/>
<path d="M483.4,107.4 V115.4 M481.4,107.4 H485.4 M481.4,115.4 H485.4" stroke="#8000ff" stroke-width="1.0" fill="none"/>
<polygon points="479.9,113 487,113 483.4,107.3" fill="#fff"/>
<polygon points="481.5,110.4 485.4,110.4 487,113 479.9,113" fill="#8000ff"/>
<polygon points="479.9,113 487,113 483.4,107.3" fill="none" stroke="#8000ff" stroke-width="1.1" stroke-linejoin="miter"/>
<path d="M514.9,113.6 V121.6 M512.9,113.6 H516.9 M512.9,121.6 H516.9" stroke="#8000ff" stroke-width="1.0" fill="none"/>
<polygon points="511.3,119.2 518.4,119.2 514.9,113.5" fill="#fff"/>
<polygon points="512.9,116.6 516.8,116.6 518.4,119.2 511.3,119.2" fill="#8000ff"/>
<polygon points="511.3,119.2 518.4,119.2 514.9,113.5" fill="none" stroke="#8000ff" stroke-width="1.1" stroke-linejoin="miter"/>
<path d="M539.2,113.9 V120.9 M537.2,113.9 H541.2 M537.2,120.9 H541.2" stroke="#8000ff" stroke-width="1.0" fill="none"/>
<polygon points="535.7,119 542.8,119 539.2,113.3" fill="#fff"/>
<polygon points="537.3,116.4 541.2,116.4 542.8,119 535.7,119" fill="#8000ff"/>
<polygon points="535.7,119 542.8,119 539.2,113.3" fill="none" stroke="#8000ff" stroke-width="1.1" stroke-linejoin="miter"/>
<path d="M559.1,124.9 V130.9 M557.1,124.9 H561.1 M557.1,130.9 H561.1" stroke="#8000ff" stroke-width="1.0" fill="none"/>
<polygon points="555.6,129.5 562.7,129.5 559.1,123.8" fill="#fff"/>
<polygon points="557.2,126.9 561.1,126.9 562.7,129.5 555.6,129.5" fill="#8000ff"/>
<polygon points="555.6,129.5 562.7,129.5 559.1,123.8" fill="none" stroke="#8000ff" stroke-width="1.1" stroke-linejoin="miter"/>
<path d="M575.9,126 V132 M573.9,126 H577.9 M573.9,132 H577.9" stroke="#8000ff" stroke-width="1.0" fill="none"/>
<polygon points="572.4,130.6 579.5,130.6 575.9,124.9" fill="#fff"/>
<polygon points="574,128 577.9,128 579.5,130.6 572.4,130.6" fill="#8000ff"/>
<polygon points="572.4,130.6 579.5,130.6 575.9,124.9" fill="none" stroke="#8000ff" stroke-width="1.1" stroke-linejoin="miter"/>
<path d="M590.5,129 V135 M588.5,129 H592.5 M588.5,135 H592.5" stroke="#8000ff" stroke-width="1.0" fill="none"/>
<polygon points="587,133.6 594.1,133.6 590.5,127.9" fill="#fff"/>
<polygon points="588.6,131 592.5,131 594.1,133.6 587,133.6" fill="#8000ff"/>
<polygon points="587,133.6 594.1,133.6 590.5,127.9" fill="none" stroke="#8000ff" stroke-width="1.1" stroke-linejoin="miter"/>
<path d="M603.4,132.8 V138.8 M601.4,132.8 H605.4 M601.4,138.8 H605.4" stroke="#8000ff" stroke-width="1.0" fill="none"/>
<polygon points="599.8,137.4 606.9,137.4 603.4,131.7" fill="#fff"/>
<polygon points="601.4,134.8 605.4,134.8 606.9,137.4 599.8,137.4" fill="#8000ff"/>
<polygon points="599.8,137.4 606.9,137.4 603.4,131.7" fill="none" stroke="#8000ff" stroke-width="1.1" stroke-linejoin="miter"/>
<path d="M614.9,137.5 V143.5 M612.9,137.5 H616.9 M612.9,143.5 H616.9" stroke="#8000ff" stroke-width="1.0" fill="none"/>
<polygon points="611.3,142.1 618.4,142.1 614.9,136.4" fill="#fff"/>
<polygon points="612.9,139.5 616.9,139.5 618.4,142.1 611.3,142.1" fill="#8000ff"/>
<polygon points="611.3,142.1 618.4,142.1 614.9,136.4" fill="none" stroke="#8000ff" stroke-width="1.1" stroke-linejoin="miter"/>
<path d="M625.3,136.6 V142.6 M623.3,136.6 H627.3 M623.3,142.6 H627.3" stroke="#8000ff" stroke-width="1.0" fill="none"/>
<polygon points="621.7,141.2 628.8,141.2 625.3,135.5" fill="#fff"/>
<polygon points="623.3,138.6 627.3,138.6 628.8,141.2 621.7,141.2" fill="#8000ff"/>
<polygon points="621.7,141.2 628.8,141.2 625.3,135.5" fill="none" stroke="#8000ff" stroke-width="1.1" stroke-linejoin="miter"/>
<path d="M634.8,140.6 V146.6 M632.8,140.6 H636.8 M632.8,146.6 H636.8" stroke="#8000ff" stroke-width="1.0" fill="none"/>
<polygon points="631.2,145.2 638.3,145.2 634.8,139.5" fill="#fff"/>
<polygon points="632.8,142.6 636.8,142.6 638.3,145.2 631.2,145.2" fill="#8000ff"/>
<polygon points="631.2,145.2 638.3,145.2 634.8,139.5" fill="none" stroke="#8000ff" stroke-width="1.1" stroke-linejoin="miter"/>
<path d="M643.5,142.1 V148.1 M641.5,142.1 H645.5 M641.5,148.1 H645.5" stroke="#8000ff" stroke-width="1.0" fill="none"/>
<polygon points="640,146.7 647.1,146.7 643.5,141" fill="#fff"/>
<polygon points="641.6,144.1 645.5,144.1 647.1,146.7 640,146.7" fill="#8000ff"/>
<polygon points="640,146.7 647.1,146.7 643.5,141" fill="none" stroke="#8000ff" stroke-width="1.1" stroke-linejoin="miter"/>
<path d="M651.6,146 V152 M649.6,146 H653.6 M649.6,152 H653.6" stroke="#8000ff" stroke-width="1.0" fill="none"/>
<polygon points="648.1,150.6 655.2,150.6 651.6,144.9" fill="#fff"/>
<polygon points="649.7,148 653.6,148 655.2,150.6 648.1,150.6" fill="#8000ff"/>
<polygon points="648.1,150.6 655.2,150.6 651.6,144.9" fill="none" stroke="#8000ff" stroke-width="1.1" stroke-linejoin="miter"/>
<path d="M659.2,149.9 V155.9 M657.2,149.9 H661.2 M657.2,155.9 H661.2" stroke="#8000ff" stroke-width="1.0" fill="none"/>
<polygon points="655.6,154.5 662.7,154.5 659.2,148.8" fill="#fff"/>
<polygon points="657.2,151.9 661.1,151.9 662.7,154.5 655.6,154.5" fill="#8000ff"/>
<polygon points="655.6,154.5 662.7,154.5 659.2,148.8" fill="none" stroke="#8000ff" stroke-width="1.1" stroke-linejoin="miter"/>
<path d="M666.2,148 V154 M664.2,148 H668.2 M664.2,154 H668.2" stroke="#8000ff" stroke-width="1.0" fill="none"/>
<polygon points="662.7,152.6 669.8,152.6 666.2,146.9" fill="#fff"/>
<polygon points="664.2,150 668.2,150 669.8,152.6 662.7,152.6" fill="#8000ff"/>
<polygon points="662.7,152.6 669.8,152.6 666.2,146.9" fill="none" stroke="#8000ff" stroke-width="1.1" stroke-linejoin="miter"/>
<path d="M672.8,141.3 V147.3 M670.8,141.3 H674.8 M670.8,147.3 H674.8" stroke="#8000ff" stroke-width="1.0" fill="none"/>
<polygon points="669.3,145.9 676.4,145.9 672.8,140.2" fill="#fff"/>
<polygon points="670.9,143.3 674.8,143.3 676.4,145.9 669.3,145.9" fill="#8000ff"/>
<polygon points="669.3,145.9 676.4,145.9 672.8,140.2" fill="none" stroke="#8000ff" stroke-width="1.1" stroke-linejoin="miter"/>
<path d="M679.1,138.2 V144.2 M677.1,138.2 H681.1 M677.1,144.2 H681.1" stroke="#8000ff" stroke-width="1.0" fill="none"/>
<polygon points="675.5,142.8 682.6,142.8 679.1,137.1" fill="#fff"/>
<polygon points="677.1,140.2 681,140.2 682.6,142.8 675.5,142.8" fill="#8000ff"/>
<polygon points="675.5,142.8 682.6,142.8 679.1,137.1" fill="none" stroke="#8000ff" stroke-width="1.1" stroke-linejoin="miter"/>
<path d="M483.4,110 V118 M481.4,110 H485.4 M481.4,118 H485.4" stroke="#ff00ff" stroke-width="1.0" fill="none"/>
<polygon points="479.9,115.6 487,115.6 483.4,109.9" fill="#fff"/>
<polygon points="481.5,113 485.4,113 487,115.6 479.9,115.6" fill="#ff00ff"/>
<polygon points="479.9,115.6 487,115.6 483.4,109.9" fill="none" stroke="#ff00ff" stroke-width="1.1" stroke-linejoin="miter"/>
<path d="M514.9,118 V126 M512.9,118 H516.9 M512.9,126 H516.9" stroke="#ff00ff" stroke-width="1.0" fill="none"/>
<polygon points="511.3,123.6 518.4,123.6 514.9,117.9" fill="#fff"/>
<polygon points="512.9,121 516.8,121 518.4,123.6 511.3,123.6" fill="#ff00ff"/>
<polygon points="511.3,123.6 518.4,123.6 514.9,117.9" fill="none" stroke="#ff00ff" stroke-width="1.1" stroke-linejoin="miter"/>
<path d="M539.2,116.5 V123.5 M537.2,116.5 H541.2 M537.2,123.5 H541.2" stroke="#ff00ff" stroke-width="1.0" fill="none"/>
<polygon points="535.7,121.6 542.8,121.6 539.2,115.9" fill="#fff"/>
<polygon points="537.3,119 541.2,119 542.8,121.6 535.7,121.6" fill="#ff00ff"/>
<polygon points="535.7,121.6 542.8,121.6 539.2,115.9" fill="none" stroke="#ff00ff" stroke-width="1.1" stroke-linejoin="miter"/>
<path d="M559.1,127.5 V133.5 M557.1,127.5 H561.1 M557.1,133.5 H561.1" stroke="#ff00ff" stroke-width="1.0" fill="none"/>
<polygon points="555.6,132.1 562.7,132.1 559.1,126.4" fill="#fff"/>
<polygon points="557.2,129.5 561.1,129.5 562.7,132.1 555.6,132.1" fill="#ff00ff"/>
<polygon points="555.6,132.1 562.7,132.1 559.1,126.4" fill="none" stroke="#ff00ff" stroke-width="1.1" stroke-linejoin="miter"/>
<path d="M575.9,127.5 V133.5 M573.9,127.5 H577.9 M573.9,133.5 H577.9" stroke="#ff00ff" stroke-width="1.0" fill="none"/>
<polygon points="572.4,132.1 579.5,132.1 575.9,126.4" fill="#fff"/>
<polygon points="574,129.5 577.9,129.5 579.5,132.1 572.4,132.1" fill="#ff00ff"/>
<polygon points="572.4,132.1 579.5,132.1 575.9,126.4" fill="none" stroke="#ff00ff" stroke-width="1.1" stroke-linejoin="miter"/>
<path d="M590.5,129 V135 M588.5,129 H592.5 M588.5,135 H592.5" stroke="#ff00ff" stroke-width="1.0" fill="none"/>
<polygon points="587,133.6 594.1,133.6 590.5,127.9" fill="#fff"/>
<polygon points="588.6,131 592.5,131 594.1,133.6 587,133.6" fill="#ff00ff"/>
<polygon points="587,133.6 594.1,133.6 590.5,127.9" fill="none" stroke="#ff00ff" stroke-width="1.1" stroke-linejoin="miter"/>
<path d="M603.4,132.8 V138.8 M601.4,132.8 H605.4 M601.4,138.8 H605.4" stroke="#ff00ff" stroke-width="1.0" fill="none"/>
<polygon points="599.8,137.4 606.9,137.4 603.4,131.7" fill="#fff"/>
<polygon points="601.4,134.8 605.4,134.8 606.9,137.4 599.8,137.4" fill="#ff00ff"/>
<polygon points="599.8,137.4 606.9,137.4 603.4,131.7" fill="none" stroke="#ff00ff" stroke-width="1.1" stroke-linejoin="miter"/>
<path d="M614.9,137.5 V143.5 M612.9,137.5 H616.9 M612.9,143.5 H616.9" stroke="#ff00ff" stroke-width="1.0" fill="none"/>
<polygon points="611.3,142.1 618.4,142.1 614.9,136.4" fill="#fff"/>
<polygon points="612.9,139.5 616.9,139.5 618.4,142.1 611.3,142.1" fill="#ff00ff"/>
<polygon points="611.3,142.1 618.4,142.1 614.9,136.4" fill="none" stroke="#ff00ff" stroke-width="1.1" stroke-linejoin="miter"/>
<path d="M625.3,136.6 V142.6 M623.3,136.6 H627.3 M623.3,142.6 H627.3" stroke="#ff00ff" stroke-width="1.0" fill="none"/>
<polygon points="621.7,141.2 628.8,141.2 625.3,135.5" fill="#fff"/>
<polygon points="623.3,138.6 627.3,138.6 628.8,141.2 621.7,141.2" fill="#ff00ff"/>
<polygon points="621.7,141.2 628.8,141.2 625.3,135.5" fill="none" stroke="#ff00ff" stroke-width="1.1" stroke-linejoin="miter"/>
<path d="M634.8,140.6 V146.6 M632.8,140.6 H636.8 M632.8,146.6 H636.8" stroke="#ff00ff" stroke-width="1.0" fill="none"/>
<polygon points="631.2,145.2 638.3,145.2 634.8,139.5" fill="#fff"/>
<polygon points="632.8,142.6 636.8,142.6 638.3,145.2 631.2,145.2" fill="#ff00ff"/>
<polygon points="631.2,145.2 638.3,145.2 634.8,139.5" fill="none" stroke="#ff00ff" stroke-width="1.1" stroke-linejoin="miter"/>
<path d="M643.5,142.1 V148.1 M641.5,142.1 H645.5 M641.5,148.1 H645.5" stroke="#ff00ff" stroke-width="1.0" fill="none"/>
<polygon points="640,146.7 647.1,146.7 643.5,141" fill="#fff"/>
<polygon points="641.6,144.1 645.5,144.1 647.1,146.7 640,146.7" fill="#ff00ff"/>
<polygon points="640,146.7 647.1,146.7 643.5,141" fill="none" stroke="#ff00ff" stroke-width="1.1" stroke-linejoin="miter"/>
<path d="M651.6,148.3 V154.3 M649.6,148.3 H653.6 M649.6,154.3 H653.6" stroke="#ff00ff" stroke-width="1.0" fill="none"/>
<polygon points="648.1,152.9 655.2,152.9 651.6,147.2" fill="#fff"/>
<polygon points="649.7,150.3 653.6,150.3 655.2,152.9 648.1,152.9" fill="#ff00ff"/>
<polygon points="648.1,152.9 655.2,152.9 651.6,147.2" fill="none" stroke="#ff00ff" stroke-width="1.1" stroke-linejoin="miter"/>
<path d="M659.2,153 V159 M657.2,153 H661.2 M657.2,159 H661.2" stroke="#ff00ff" stroke-width="1.0" fill="none"/>
<polygon points="655.6,157.6 662.7,157.6 659.2,151.9" fill="#fff"/>
<polygon points="657.2,155 661.1,155 662.7,157.6 655.6,157.6" fill="#ff00ff"/>
<polygon points="655.6,157.6 662.7,157.6 659.2,151.9" fill="none" stroke="#ff00ff" stroke-width="1.1" stroke-linejoin="miter"/>
<path d="M666.2,149.9 V155.9 M664.2,149.9 H668.2 M664.2,155.9 H668.2" stroke="#ff00ff" stroke-width="1.0" fill="none"/>
<polygon points="662.7,154.5 669.8,154.5 666.2,148.8" fill="#fff"/>
<polygon points="664.2,151.9 668.2,151.9 669.8,154.5 662.7,154.5" fill="#ff00ff"/>
<polygon points="662.7,154.5 669.8,154.5 666.2,148.8" fill="none" stroke="#ff00ff" stroke-width="1.1" stroke-linejoin="miter"/>
<path d="M672.8,141.3 V147.3 M670.8,141.3 H674.8 M670.8,147.3 H674.8" stroke="#ff00ff" stroke-width="1.0" fill="none"/>
<polygon points="669.3,145.9 676.4,145.9 672.8,140.2" fill="#fff"/>
<polygon points="670.9,143.3 674.8,143.3 676.4,145.9 669.3,145.9" fill="#ff00ff"/>
<polygon points="669.3,145.9 676.4,145.9 672.8,140.2" fill="none" stroke="#ff00ff" stroke-width="1.1" stroke-linejoin="miter"/>
<path d="M679.1,142.9 V148.9 M677.1,142.9 H681.1 M677.1,148.9 H681.1" stroke="#ff00ff" stroke-width="1.0" fill="none"/>
<polygon points="675.5,147.5 682.6,147.5 679.1,141.8" fill="#fff"/>
<polygon points="677.1,144.9 681,144.9 682.6,147.5 675.5,147.5" fill="#ff00ff"/>
<polygon points="675.5,147.5 682.6,147.5 679.1,141.8" fill="none" stroke="#ff00ff" stroke-width="1.1" stroke-linejoin="miter"/>
<path d="M89.9,280 V292 M88.3,280 H91.5 M88.3,292 H91.5" stroke="#ff8a8a" stroke-width="1.0" fill="none"/>
<polygon points="87.4,283.5 92.4,283.5 92.4,288.5 87.4,288.5" fill="#fff"/>
<polygon points="87.4,283.5 92.4,283.5 92.4,288.5 87.4,288.5" fill="none" stroke="#ff8a8a" stroke-width="1.0" stroke-linejoin="miter"/>
<path d="M114.2,275.1 V285.1 M112.6,275.1 H115.8 M112.6,285.1 H115.8" stroke="#ff8a8a" stroke-width="1.0" fill="none"/>
<polygon points="111.7,277.6 116.7,277.6 116.7,282.6 111.7,282.6" fill="#fff"/>
<polygon points="111.7,277.6 116.7,277.6 116.7,282.6 111.7,282.6" fill="none" stroke="#ff8a8a" stroke-width="1.0" stroke-linejoin="miter"/>
<path d="M134.1,300.3 V309.3 M132.5,300.3 H135.7 M132.5,309.3 H135.7" stroke="#ff8a8a" stroke-width="1.0" fill="none"/>
<polygon points="131.6,302.3 136.6,302.3 136.6,307.3 131.6,307.3" fill="#fff"/>
<polygon points="131.6,302.3 136.6,302.3 136.6,307.3 131.6,307.3" fill="none" stroke="#ff8a8a" stroke-width="1.0" stroke-linejoin="miter"/>
<path d="M150.9,305.8 V314.8 M149.3,305.8 H152.5 M149.3,314.8 H152.5" stroke="#ff8a8a" stroke-width="1.0" fill="none"/>
<polygon points="148.4,307.8 153.4,307.8 153.4,312.8 148.4,312.8" fill="#fff"/>
<polygon points="148.4,307.8 153.4,307.8 153.4,312.8 148.4,312.8" fill="none" stroke="#ff8a8a" stroke-width="1.0" stroke-linejoin="miter"/>
<path d="M165.5,319.2 V327.2 M163.9,319.2 H167.1 M163.9,327.2 H167.1" stroke="#ff8a8a" stroke-width="1.0" fill="none"/>
<polygon points="163,320.7 168,320.7 168,325.7 163,325.7" fill="#fff"/>
<polygon points="163,320.7 168,320.7 168,325.7 163,325.7" fill="none" stroke="#ff8a8a" stroke-width="1.0" stroke-linejoin="miter"/>
<path d="M178.4,327.2 V335.2 M176.8,327.2 H180 M176.8,335.2 H180" stroke="#ff8a8a" stroke-width="1.0" fill="none"/>
<polygon points="175.9,328.7 180.9,328.7 180.9,333.7 175.9,333.7" fill="#fff"/>
<polygon points="175.9,328.7 180.9,328.7 180.9,333.7 175.9,333.7" fill="none" stroke="#ff8a8a" stroke-width="1.0" stroke-linejoin="miter"/>
<path d="M189.9,335.4 V343.4 M188.3,335.4 H191.5 M188.3,343.4 H191.5" stroke="#ff8a8a" stroke-width="1.0" fill="none"/>
<polygon points="187.4,336.9 192.4,336.9 192.4,341.9 187.4,341.9" fill="#fff"/>
<polygon points="187.4,336.9 192.4,336.9 192.4,341.9 187.4,341.9" fill="none" stroke="#ff8a8a" stroke-width="1.0" stroke-linejoin="miter"/>
<path d="M200.3,336.6 V344.6 M198.7,336.6 H201.9 M198.7,344.6 H201.9" stroke="#ff8a8a" stroke-width="1.0" fill="none"/>
<polygon points="197.8,338.1 202.8,338.1 202.8,343.1 197.8,343.1" fill="#fff"/>
<polygon points="197.8,338.1 202.8,338.1 202.8,343.1 197.8,343.1" fill="none" stroke="#ff8a8a" stroke-width="1.0" stroke-linejoin="miter"/>
<path d="M209.8,348.6 V355.6 M208.2,348.6 H211.4 M208.2,355.6 H211.4" stroke="#ff8a8a" stroke-width="1.0" fill="none"/>
<polygon points="207.3,349.6 212.3,349.6 212.3,354.6 207.3,354.6" fill="#fff"/>
<polygon points="207.3,349.6 212.3,349.6 212.3,354.6 207.3,354.6" fill="none" stroke="#ff8a8a" stroke-width="1.0" stroke-linejoin="miter"/>
<path d="M218.5,349.1 V356.1 M216.9,349.1 H220.1 M216.9,356.1 H220.1" stroke="#ff8a8a" stroke-width="1.0" fill="none"/>
<polygon points="216,350.1 221,350.1 221,355.1 216,355.1" fill="#fff"/>
<polygon points="216,350.1 221,350.1 221,355.1 216,355.1" fill="none" stroke="#ff8a8a" stroke-width="1.0" stroke-linejoin="miter"/>
<path d="M226.6,354.4 V361.4 M225,354.4 H228.2 M225,361.4 H228.2" stroke="#ff8a8a" stroke-width="1.0" fill="none"/>
<polygon points="224.1,355.4 229.1,355.4 229.1,360.4 224.1,360.4" fill="#fff"/>
<polygon points="224.1,355.4 229.1,355.4 229.1,360.4 224.1,360.4" fill="none" stroke="#ff8a8a" stroke-width="1.0" stroke-linejoin="miter"/>
<path d="M234.2,358.6 V365.6 M232.6,358.6 H235.8 M232.6,365.6 H235.8" stroke="#ff8a8a" stroke-width="1.0" fill="none"/>
<polygon points="231.7,359.6 236.7,359.6 236.7,364.6 231.7,364.6" fill="#fff"/>
<polygon points="231.7,359.6 236.7,359.6 236.7,364.6 231.7,364.6" fill="none" stroke="#ff8a8a" stroke-width="1.0" stroke-linejoin="miter"/>
<path d="M241.2,359.6 V367.6 M239.6,359.6 H242.8 M239.6,367.6 H242.8" stroke="#ff8a8a" stroke-width="1.0" fill="none"/>
<polygon points="238.7,361.1 243.7,361.1 243.7,366.1 238.7,366.1" fill="#fff"/>
<polygon points="238.7,361.1 243.7,361.1 243.7,366.1 238.7,366.1" fill="none" stroke="#ff8a8a" stroke-width="1.0" stroke-linejoin="miter"/>
<path d="M247.8,361.7 V369.7 M246.2,361.7 H249.4 M246.2,369.7 H249.4" stroke="#ff8a8a" stroke-width="1.0" fill="none"/>
<polygon points="245.3,363.2 250.3,363.2 250.3,368.2 245.3,368.2" fill="#fff"/>
<polygon points="245.3,363.2 250.3,363.2 250.3,368.2 245.3,368.2" fill="none" stroke="#ff8a8a" stroke-width="1.0" stroke-linejoin="miter"/>
<path d="M254.1,360 V370 M252.5,360 H255.7 M252.5,370 H255.7" stroke="#ff8a8a" stroke-width="1.0" fill="none"/>
<polygon points="251.6,362.5 256.6,362.5 256.6,367.5 251.6,367.5" fill="#fff"/>
<polygon points="251.6,362.5 256.6,362.5 256.6,367.5 251.6,367.5" fill="none" stroke="#ff8a8a" stroke-width="1.0" stroke-linejoin="miter"/>
<path d="M58.4,230.8 V247.8 M56.8,230.8 H60 M56.8,247.8 H60" stroke="#ff6262" stroke-width="1.0" fill="none"/>
<circle cx="58.4" cy="239.3" r="2.2" fill="#fff" stroke="#ff6262" stroke-width="1.0"/>
<path d="M89.9,249.6 V259.6 M88.3,249.6 H91.5 M88.3,259.6 H91.5" stroke="#ff6262" stroke-width="1.0" fill="none"/>
<circle cx="89.9" cy="254.6" r="2.2" fill="#fff" stroke="#ff6262" stroke-width="1.0"/>
<path d="M114.2,269.9 V279.9 M112.6,269.9 H115.8 M112.6,279.9 H115.8" stroke="#ff6262" stroke-width="1.0" fill="none"/>
<circle cx="114.2" cy="274.9" r="2.2" fill="#fff" stroke="#ff6262" stroke-width="1.0"/>
<path d="M134.1,287.4 V296.4 M132.5,287.4 H135.7 M132.5,296.4 H135.7" stroke="#ff6262" stroke-width="1.0" fill="none"/>
<circle cx="134.1" cy="291.9" r="2.2" fill="#fff" stroke="#ff6262" stroke-width="1.0"/>
<path d="M150.9,295.9 V304.9 M149.3,295.9 H152.5 M149.3,304.9 H152.5" stroke="#ff6262" stroke-width="1.0" fill="none"/>
<circle cx="150.9" cy="300.4" r="2.2" fill="#fff" stroke="#ff6262" stroke-width="1.0"/>
<path d="M165.5,306 V314 M163.9,306 H167.1 M163.9,314 H167.1" stroke="#ff6262" stroke-width="1.0" fill="none"/>
<circle cx="165.5" cy="310" r="2.2" fill="#fff" stroke="#ff6262" stroke-width="1.0"/>
<path d="M178.4,322.1 V330.1 M176.8,322.1 H180 M176.8,330.1 H180" stroke="#ff6262" stroke-width="1.0" fill="none"/>
<circle cx="178.4" cy="326.1" r="2.2" fill="#fff" stroke="#ff6262" stroke-width="1.0"/>
<path d="M189.9,329.7 V337.7 M188.3,329.7 H191.5 M188.3,337.7 H191.5" stroke="#ff6262" stroke-width="1.0" fill="none"/>
<circle cx="189.9" cy="333.7" r="2.2" fill="#fff" stroke="#ff6262" stroke-width="1.0"/>
<path d="M200.3,330 V338 M198.7,330 H201.9 M198.7,338 H201.9" stroke="#ff6262" stroke-width="1.0" fill="none"/>
<circle cx="200.3" cy="334" r="2.2" fill="#fff" stroke="#ff6262" stroke-width="1.0"/>
<path d="M209.8,342.2 V349.2 M208.2,342.2 H211.4 M208.2,349.2 H211.4" stroke="#ff6262" stroke-width="1.0" fill="none"/>
<circle cx="209.8" cy="345.7" r="2.2" fill="#fff" stroke="#ff6262" stroke-width="1.0"/>
<path d="M218.5,348.6 V355.6 M216.9,348.6 H220.1 M216.9,355.6 H220.1" stroke="#ff6262" stroke-width="1.0" fill="none"/>
<circle cx="218.5" cy="352.1" r="2.2" fill="#fff" stroke="#ff6262" stroke-width="1.0"/>
<path d="M226.6,350.8 V357.8 M225,350.8 H228.2 M225,357.8 H228.2" stroke="#ff6262" stroke-width="1.0" fill="none"/>
<circle cx="226.6" cy="354.3" r="2.2" fill="#fff" stroke="#ff6262" stroke-width="1.0"/>
<path d="M234.2,354.4 V361.4 M232.6,354.4 H235.8 M232.6,361.4 H235.8" stroke="#ff6262" stroke-width="1.0" fill="none"/>
<circle cx="234.2" cy="357.9" r="2.2" fill="#fff" stroke="#ff6262" stroke-width="1.0"/>
<path d="M241.2,354 V362 M239.6,354 H242.8 M239.6,362 H242.8" stroke="#ff6262" stroke-width="1.0" fill="none"/>
<circle cx="241.2" cy="358" r="2.2" fill="#fff" stroke="#ff6262" stroke-width="1.0"/>
<path d="M247.8,359.6 V367.6 M246.2,359.6 H249.4 M246.2,367.6 H249.4" stroke="#ff6262" stroke-width="1.0" fill="none"/>
<circle cx="247.8" cy="363.6" r="2.2" fill="#fff" stroke="#ff6262" stroke-width="1.0"/>
<path d="M254.1,345.7 V355.7 M252.5,345.7 H255.7 M252.5,355.7 H255.7" stroke="#ff6262" stroke-width="1.0" fill="none"/>
<circle cx="254.1" cy="350.7" r="2.2" fill="#fff" stroke="#ff6262" stroke-width="1.0"/>
<path d="M58.4,223 V243 M56.8,223 H60 M56.8,243 H60" stroke="#ff3a3a" stroke-width="1.0" fill="none"/>
<polygon points="55.6,234.5 61.3,234.5 58.4,229.3" fill="#fff"/>
<polygon points="55.6,234.5 61.3,234.5 58.4,229.3" fill="none" stroke="#ff3a3a" stroke-width="1.0" stroke-linejoin="miter"/>
<path d="M89.9,231 V247 M88.3,231 H91.5 M88.3,247 H91.5" stroke="#ff3a3a" stroke-width="1.0" fill="none"/>
<polygon points="87,240.5 92.7,240.5 89.9,235.3" fill="#fff"/>
<polygon points="87,240.5 92.7,240.5 89.9,235.3" fill="none" stroke="#ff3a3a" stroke-width="1.0" stroke-linejoin="miter"/>
<path d="M114.2,238.4 V256.4 M112.6,238.4 H115.8 M112.6,256.4 H115.8" stroke="#ff3a3a" stroke-width="1.0" fill="none"/>
<polygon points="111.4,248.9 117.1,248.9 114.2,243.7" fill="#fff"/>
<polygon points="111.4,248.9 117.1,248.9 114.2,243.7" fill="none" stroke="#ff3a3a" stroke-width="1.0" stroke-linejoin="miter"/>
<path d="M134.1,283.4 V292.4 M132.5,283.4 H135.7 M132.5,292.4 H135.7" stroke="#ff3a3a" stroke-width="1.0" fill="none"/>
<polygon points="131.3,289.4 137,289.4 134.1,284.2" fill="#fff"/>
<polygon points="131.3,289.4 137,289.4 134.1,284.2" fill="none" stroke="#ff3a3a" stroke-width="1.0" stroke-linejoin="miter"/>
<path d="M150.9,285.3 V294.3 M149.3,285.3 H152.5 M149.3,294.3 H152.5" stroke="#ff3a3a" stroke-width="1.0" fill="none"/>
<polygon points="148.1,291.3 153.8,291.3 150.9,286.1" fill="#fff"/>
<polygon points="148.1,291.3 153.8,291.3 150.9,286.1" fill="none" stroke="#ff3a3a" stroke-width="1.0" stroke-linejoin="miter"/>
<path d="M165.5,301 V309 M163.9,301 H167.1 M163.9,309 H167.1" stroke="#ff3a3a" stroke-width="1.0" fill="none"/>
<polygon points="162.7,306.5 168.4,306.5 165.5,301.3" fill="#fff"/>
<polygon points="162.7,306.5 168.4,306.5 165.5,301.3" fill="none" stroke="#ff3a3a" stroke-width="1.0" stroke-linejoin="miter"/>
<path d="M178.4,313.4 V321.4 M176.8,313.4 H180 M176.8,321.4 H180" stroke="#ff3a3a" stroke-width="1.0" fill="none"/>
<polygon points="175.5,318.9 181.2,318.9 178.4,313.7" fill="#fff"/>
<polygon points="175.5,318.9 181.2,318.9 178.4,313.7" fill="none" stroke="#ff3a3a" stroke-width="1.0" stroke-linejoin="miter"/>
<path d="M189.9,321 V329 M188.3,321 H191.5 M188.3,329 H191.5" stroke="#ff3a3a" stroke-width="1.0" fill="none"/>
<polygon points="187,326.5 192.7,326.5 189.9,321.3" fill="#fff"/>
<polygon points="187,326.5 192.7,326.5 189.9,321.3" fill="none" stroke="#ff3a3a" stroke-width="1.0" stroke-linejoin="miter"/>
<path d="M200.3,327.8 V335.8 M198.7,327.8 H201.9 M198.7,335.8 H201.9" stroke="#ff3a3a" stroke-width="1.0" fill="none"/>
<polygon points="197.4,333.3 203.1,333.3 200.3,328.1" fill="#fff"/>
<polygon points="197.4,333.3 203.1,333.3 200.3,328.1" fill="none" stroke="#ff3a3a" stroke-width="1.0" stroke-linejoin="miter"/>
<path d="M209.8,336.6 V343.6 M208.2,336.6 H211.4 M208.2,343.6 H211.4" stroke="#ff3a3a" stroke-width="1.0" fill="none"/>
<polygon points="206.9,341.6 212.6,341.6 209.8,336.4" fill="#fff"/>
<polygon points="206.9,341.6 212.6,341.6 209.8,336.4" fill="none" stroke="#ff3a3a" stroke-width="1.0" stroke-linejoin="miter"/>
<path d="M218.5,342.3 V349.3 M216.9,342.3 H220.1 M216.9,349.3 H220.1" stroke="#ff3a3a" stroke-width="1.0" fill="none"/>
<polygon points="215.7,347.3 221.4,347.3 218.5,342.1" fill="#fff"/>
<polygon points="215.7,347.3 221.4,347.3 218.5,342.1" fill="none" stroke="#ff3a3a" stroke-width="1.0" stroke-linejoin="miter"/>
<path d="M226.6,343.7 V350.7 M225,343.7 H228.2 M225,350.7 H228.2" stroke="#ff3a3a" stroke-width="1.0" fill="none"/>
<polygon points="223.8,348.7 229.5,348.7 226.6,343.5" fill="#fff"/>
<polygon points="223.8,348.7 229.5,348.7 226.6,343.5" fill="none" stroke="#ff3a3a" stroke-width="1.0" stroke-linejoin="miter"/>
<path d="M234.2,347.3 V354.3 M232.6,347.3 H235.8 M232.6,354.3 H235.8" stroke="#ff3a3a" stroke-width="1.0" fill="none"/>
<polygon points="231.3,352.3 237,352.3 234.2,347.1" fill="#fff"/>
<polygon points="231.3,352.3 237,352.3 234.2,347.1" fill="none" stroke="#ff3a3a" stroke-width="1.0" stroke-linejoin="miter"/>
<path d="M241.2,351.1 V359.1 M239.6,351.1 H242.8 M239.6,359.1 H242.8" stroke="#ff3a3a" stroke-width="1.0" fill="none"/>
<polygon points="238.4,356.6 244.1,356.6 241.2,351.4" fill="#fff"/>
<polygon points="238.4,356.6 244.1,356.6 241.2,351.4" fill="none" stroke="#ff3a3a" stroke-width="1.0" stroke-linejoin="miter"/>
<path d="M247.8,362.5 V370.5 M246.2,362.5 H249.4 M246.2,370.5 H249.4" stroke="#ff3a3a" stroke-width="1.0" fill="none"/>
<polygon points="245,368 250.7,368 247.8,362.8" fill="#fff"/>
<polygon points="245,368 250.7,368 247.8,362.8" fill="none" stroke="#ff3a3a" stroke-width="1.0" stroke-linejoin="miter"/>
<path d="M254.1,353.8 V363.8 M252.5,353.8 H255.7 M252.5,363.8 H255.7" stroke="#ff3a3a" stroke-width="1.0" fill="none"/>
<polygon points="251.2,360.3 256.9,360.3 254.1,355.1" fill="#fff"/>
<polygon points="251.2,360.3 256.9,360.3 254.1,355.1" fill="none" stroke="#ff3a3a" stroke-width="1.0" stroke-linejoin="miter"/>
<path d="M58.4,259.9 V277.9 M56.8,259.9 H60 M56.8,277.9 H60" stroke="#f00000" stroke-width="1.0" fill="none"/>
<polygon points="55.6,267.4 61.3,267.4 58.4,272.6" fill="#fff"/>
<polygon points="55.6,267.4 61.3,267.4 58.4,272.6" fill="none" stroke="#f00000" stroke-width="1.0" stroke-linejoin="miter"/>
<path d="M89.9,258.3 V272.3 M88.3,258.3 H91.5 M88.3,272.3 H91.5" stroke="#f00000" stroke-width="1.0" fill="none"/>
<polygon points="87,263.8 92.7,263.8 89.9,269" fill="#fff"/>
<polygon points="87,263.8 92.7,263.8 89.9,269" fill="none" stroke="#f00000" stroke-width="1.0" stroke-linejoin="miter"/>
<path d="M114.2,265.9 V275.9 M112.6,265.9 H115.8 M112.6,275.9 H115.8" stroke="#f00000" stroke-width="1.0" fill="none"/>
<polygon points="111.4,269.4 117.1,269.4 114.2,274.6" fill="#fff"/>
<polygon points="111.4,269.4 117.1,269.4 114.2,274.6" fill="none" stroke="#f00000" stroke-width="1.0" stroke-linejoin="miter"/>
<path d="M134.1,281.8 V290.8 M132.5,281.8 H135.7 M132.5,290.8 H135.7" stroke="#f00000" stroke-width="1.0" fill="none"/>
<polygon points="131.3,284.8 137,284.8 134.1,290" fill="#fff"/>
<polygon points="131.3,284.8 137,284.8 134.1,290" fill="none" stroke="#f00000" stroke-width="1.0" stroke-linejoin="miter"/>
<path d="M150.9,295.1 V304.1 M149.3,295.1 H152.5 M149.3,304.1 H152.5" stroke="#f00000" stroke-width="1.0" fill="none"/>
<polygon points="148.1,298.1 153.8,298.1 150.9,303.3" fill="#fff"/>
<polygon points="148.1,298.1 153.8,298.1 150.9,303.3" fill="none" stroke="#f00000" stroke-width="1.0" stroke-linejoin="miter"/>
<path d="M165.5,306.1 V314.1 M163.9,306.1 H167.1 M163.9,314.1 H167.1" stroke="#f00000" stroke-width="1.0" fill="none"/>
<polygon points="162.7,308.6 168.4,308.6 165.5,313.8" fill="#fff"/>
<polygon points="162.7,308.6 168.4,308.6 165.5,313.8" fill="none" stroke="#f00000" stroke-width="1.0" stroke-linejoin="miter"/>
<path d="M178.4,312.7 V320.7 M176.8,312.7 H180 M176.8,320.7 H180" stroke="#f00000" stroke-width="1.0" fill="none"/>
<polygon points="175.5,315.2 181.2,315.2 178.4,320.4" fill="#fff"/>
<polygon points="175.5,315.2 181.2,315.2 178.4,320.4" fill="none" stroke="#f00000" stroke-width="1.0" stroke-linejoin="miter"/>
<path d="M189.9,324.1 V332.1 M188.3,324.1 H191.5 M188.3,332.1 H191.5" stroke="#f00000" stroke-width="1.0" fill="none"/>
<polygon points="187,326.6 192.7,326.6 189.9,331.8" fill="#fff"/>
<polygon points="187,326.6 192.7,326.6 189.9,331.8" fill="none" stroke="#f00000" stroke-width="1.0" stroke-linejoin="miter"/>
<path d="M200.3,329.2 V337.2 M198.7,329.2 H201.9 M198.7,337.2 H201.9" stroke="#f00000" stroke-width="1.0" fill="none"/>
<polygon points="197.4,331.7 203.1,331.7 200.3,336.9" fill="#fff"/>
<polygon points="197.4,331.7 203.1,331.7 200.3,336.9" fill="none" stroke="#f00000" stroke-width="1.0" stroke-linejoin="miter"/>
<path d="M209.8,338.6 V345.6 M208.2,338.6 H211.4 M208.2,345.6 H211.4" stroke="#f00000" stroke-width="1.0" fill="none"/>
<polygon points="206.9,340.6 212.6,340.6 209.8,345.8" fill="#fff"/>
<polygon points="206.9,340.6 212.6,340.6 209.8,345.8" fill="none" stroke="#f00000" stroke-width="1.0" stroke-linejoin="miter"/>
<path d="M218.5,342.1 V349.1 M216.9,342.1 H220.1 M216.9,349.1 H220.1" stroke="#f00000" stroke-width="1.0" fill="none"/>
<polygon points="215.7,344.1 221.4,344.1 218.5,349.3" fill="#fff"/>
<polygon points="215.7,344.1 221.4,344.1 218.5,349.3" fill="none" stroke="#f00000" stroke-width="1.0" stroke-linejoin="miter"/>
<path d="M226.6,345.7 V352.7 M225,345.7 H228.2 M225,352.7 H228.2" stroke="#f00000" stroke-width="1.0" fill="none"/>
<polygon points="223.8,347.7 229.5,347.7 226.6,352.9" fill="#fff"/>
<polygon points="223.8,347.7 229.5,347.7 226.6,352.9" fill="none" stroke="#f00000" stroke-width="1.0" stroke-linejoin="miter"/>
<path d="M234.2,347.8 V354.8 M232.6,347.8 H235.8 M232.6,354.8 H235.8" stroke="#f00000" stroke-width="1.0" fill="none"/>
<polygon points="231.3,349.8 237,349.8 234.2,355" fill="#fff"/>
<polygon points="231.3,349.8 237,349.8 234.2,355" fill="none" stroke="#f00000" stroke-width="1.0" stroke-linejoin="miter"/>
<path d="M241.2,349.5 V357.5 M239.6,349.5 H242.8 M239.6,357.5 H242.8" stroke="#f00000" stroke-width="1.0" fill="none"/>
<polygon points="238.4,352 244.1,352 241.2,357.2" fill="#fff"/>
<polygon points="238.4,352 244.1,352 241.2,357.2" fill="none" stroke="#f00000" stroke-width="1.0" stroke-linejoin="miter"/>
<path d="M247.8,354.5 V362.5 M246.2,354.5 H249.4 M246.2,362.5 H249.4" stroke="#f00000" stroke-width="1.0" fill="none"/>
<polygon points="245,357 250.7,357 247.8,362.2" fill="#fff"/>
<polygon points="245,357 250.7,357 247.8,362.2" fill="none" stroke="#f00000" stroke-width="1.0" stroke-linejoin="miter"/>
<path d="M254.1,352.2 V362.2 M252.5,352.2 H255.7 M252.5,362.2 H255.7" stroke="#f00000" stroke-width="1.0" fill="none"/>
<polygon points="251.2,355.7 256.9,355.7 254.1,360.9" fill="#fff"/>
<polygon points="251.2,355.7 256.9,355.7 254.1,360.9" fill="none" stroke="#f00000" stroke-width="1.0" stroke-linejoin="miter"/>
<path d="M58.4,263.4 V295.4 M56.8,263.4 H60 M56.8,295.4 H60" stroke="#c8000a" stroke-width="1.0" fill="none"/>
<polygon points="58.4,276.5 61.3,279.4 58.4,282.3 55.5,279.4" fill="#fff"/>
<polygon points="58.4,276.5 61.3,279.4 58.4,282.3 55.5,279.4" fill="none" stroke="#c8000a" stroke-width="1.0" stroke-linejoin="miter"/>
<path d="M89.9,281.5 V295.5 M88.3,281.5 H91.5 M88.3,295.5 H91.5" stroke="#c8000a" stroke-width="1.0" fill="none"/>
<polygon points="89.9,285.6 92.8,288.5 89.9,291.4 87,288.5" fill="#fff"/>
<polygon points="89.9,285.6 92.8,288.5 89.9,291.4 87,288.5" fill="none" stroke="#c8000a" stroke-width="1.0" stroke-linejoin="miter"/>
<path d="M114.2,280.4 V290.4 M112.6,280.4 H115.8 M112.6,290.4 H115.8" stroke="#c8000a" stroke-width="1.0" fill="none"/>
<polygon points="114.2,282.5 117.1,285.4 114.2,288.3 111.3,285.4" fill="#fff"/>
<polygon points="114.2,282.5 117.1,285.4 114.2,288.3 111.3,285.4" fill="none" stroke="#c8000a" stroke-width="1.0" stroke-linejoin="miter"/>
<path d="M134.1,282.6 V291.6 M132.5,282.6 H135.7 M132.5,291.6 H135.7" stroke="#c8000a" stroke-width="1.0" fill="none"/>
<polygon points="134.1,284.2 137,287.1 134.1,290 131.2,287.1" fill="#fff"/>
<polygon points="134.1,284.2 137,287.1 134.1,290 131.2,287.1" fill="none" stroke="#c8000a" stroke-width="1.0" stroke-linejoin="miter"/>
<path d="M150.9,297.8 V306.8 M149.3,297.8 H152.5 M149.3,306.8 H152.5" stroke="#c8000a" stroke-width="1.0" fill="none"/>
<polygon points="150.9,299.4 153.8,302.3 150.9,305.2 148,302.3" fill="#fff"/>
<polygon points="150.9,299.4 153.8,302.3 150.9,305.2 148,302.3" fill="none" stroke="#c8000a" stroke-width="1.0" stroke-linejoin="miter"/>
<path d="M165.5,306.9 V314.9 M163.9,306.9 H167.1 M163.9,314.9 H167.1" stroke="#c8000a" stroke-width="1.0" fill="none"/>
<polygon points="165.5,308 168.4,310.9 165.5,313.8 162.6,310.9" fill="#fff"/>
<polygon points="165.5,308 168.4,310.9 165.5,313.8 162.6,310.9" fill="none" stroke="#c8000a" stroke-width="1.0" stroke-linejoin="miter"/>
<path d="M178.4,313.5 V321.5 M176.8,313.5 H180 M176.8,321.5 H180" stroke="#c8000a" stroke-width="1.0" fill="none"/>
<polygon points="178.4,314.6 181.3,317.5 178.4,320.4 175.5,317.5" fill="#fff"/>
<polygon points="178.4,314.6 181.3,317.5 178.4,320.4 175.5,317.5" fill="none" stroke="#c8000a" stroke-width="1.0" stroke-linejoin="miter"/>
<path d="M189.9,324.9 V332.9 M188.3,324.9 H191.5 M188.3,332.9 H191.5" stroke="#c8000a" stroke-width="1.0" fill="none"/>
<polygon points="189.9,326 192.8,328.9 189.9,331.8 187,328.9" fill="#fff"/>
<polygon points="189.9,326 192.8,328.9 189.9,331.8 187,328.9" fill="none" stroke="#c8000a" stroke-width="1.0" stroke-linejoin="miter"/>
<path d="M200.3,327 V335 M198.7,327 H201.9 M198.7,335 H201.9" stroke="#c8000a" stroke-width="1.0" fill="none"/>
<polygon points="200.3,328.1 203.2,331 200.3,333.9 197.4,331" fill="#fff"/>
<polygon points="200.3,328.1 203.2,331 200.3,333.9 197.4,331" fill="none" stroke="#c8000a" stroke-width="1.0" stroke-linejoin="miter"/>
<path d="M209.8,335.8 V342.8 M208.2,335.8 H211.4 M208.2,342.8 H211.4" stroke="#c8000a" stroke-width="1.0" fill="none"/>
<polygon points="209.8,336.4 212.7,339.3 209.8,342.2 206.9,339.3" fill="#fff"/>
<polygon points="209.8,336.4 212.7,339.3 209.8,342.2 206.9,339.3" fill="none" stroke="#c8000a" stroke-width="1.0" stroke-linejoin="miter"/>
<path d="M218.5,342.9 V349.9 M216.9,342.9 H220.1 M216.9,349.9 H220.1" stroke="#c8000a" stroke-width="1.0" fill="none"/>
<polygon points="218.5,343.5 221.4,346.4 218.5,349.3 215.6,346.4" fill="#fff"/>
<polygon points="218.5,343.5 221.4,346.4 218.5,349.3 215.6,346.4" fill="none" stroke="#c8000a" stroke-width="1.0" stroke-linejoin="miter"/>
<path d="M226.6,346.5 V353.5 M225,346.5 H228.2 M225,353.5 H228.2" stroke="#c8000a" stroke-width="1.0" fill="none"/>
<polygon points="226.6,347.1 229.5,350 226.6,352.9 223.7,350" fill="#fff"/>
<polygon points="226.6,347.1 229.5,350 226.6,352.9 223.7,350" fill="none" stroke="#c8000a" stroke-width="1.0" stroke-linejoin="miter"/>
<path d="M234.2,348.6 V355.6 M232.6,348.6 H235.8 M232.6,355.6 H235.8" stroke="#c8000a" stroke-width="1.0" fill="none"/>
<polygon points="234.2,349.2 237.1,352.1 234.2,355 231.3,352.1" fill="#fff"/>
<polygon points="234.2,349.2 237.1,352.1 234.2,355 231.3,352.1" fill="none" stroke="#c8000a" stroke-width="1.0" stroke-linejoin="miter"/>
<path d="M241.2,355.3 V363.3 M239.6,355.3 H242.8 M239.6,363.3 H242.8" stroke="#c8000a" stroke-width="1.0" fill="none"/>
<polygon points="241.2,356.4 244.1,359.3 241.2,362.2 238.3,359.3" fill="#fff"/>
<polygon points="241.2,356.4 244.1,359.3 241.2,362.2 238.3,359.3" fill="none" stroke="#c8000a" stroke-width="1.0" stroke-linejoin="miter"/>
<path d="M247.8,355.3 V363.3 M246.2,355.3 H249.4 M246.2,363.3 H249.4" stroke="#c8000a" stroke-width="1.0" fill="none"/>
<polygon points="247.8,356.4 250.7,359.3 247.8,362.2 244.9,359.3" fill="#fff"/>
<polygon points="247.8,356.4 250.7,359.3 247.8,362.2 244.9,359.3" fill="none" stroke="#c8000a" stroke-width="1.0" stroke-linejoin="miter"/>
<path d="M254.1,356.4 V366.4 M252.5,356.4 H255.7 M252.5,366.4 H255.7" stroke="#c8000a" stroke-width="1.0" fill="none"/>
<polygon points="254.1,358.5 257,361.4 254.1,364.3 251.2,361.4" fill="#fff"/>
<polygon points="254.1,358.5 257,361.4 254.1,364.3 251.2,361.4" fill="none" stroke="#c8000a" stroke-width="1.0" stroke-linejoin="miter"/>
<path d="M271,247.4 V277.4 M269.4,247.4 H272.6 M269.4,277.4 H272.6" stroke="#ff8a8a" stroke-width="1.0" fill="none"/>
<polygon points="268.5,259.9 273.5,259.9 273.5,264.9 268.5,264.9" fill="#ff8a8a" stroke="#ff8a8a" stroke-width="1.0" stroke-linejoin="miter"/>
<path d="M302.5,261 V275 M300.9,261 H304.1 M300.9,275 H304.1" stroke="#ff8a8a" stroke-width="1.0" fill="none"/>
<polygon points="300,265.5 305,265.5 305,270.5 300,270.5" fill="#ff8a8a" stroke="#ff8a8a" stroke-width="1.0" stroke-linejoin="miter"/>
<path d="M326.8,269.9 V287.9 M325.2,269.9 H328.4 M325.2,287.9 H328.4" stroke="#ff8a8a" stroke-width="1.0" fill="none"/>
<polygon points="324.3,276.4 329.3,276.4 329.3,281.4 324.3,281.4" fill="#ff8a8a" stroke="#ff8a8a" stroke-width="1.0" stroke-linejoin="miter"/>
<path d="M346.7,296.3 V312.3 M345.1,296.3 H348.3 M345.1,312.3 H348.3" stroke="#ff8a8a" stroke-width="1.0" fill="none"/>
<polygon points="344.2,301.8 349.2,301.8 349.2,306.8 344.2,306.8" fill="#ff8a8a" stroke="#ff8a8a" stroke-width="1.0" stroke-linejoin="miter"/>
<path d="M363.5,299.1 V315.1 M361.9,299.1 H365.1 M361.9,315.1 H365.1" stroke="#ff8a8a" stroke-width="1.0" fill="none"/>
<polygon points="361,304.6 366,304.6 366,309.6 361,309.6" fill="#ff8a8a" stroke="#ff8a8a" stroke-width="1.0" stroke-linejoin="miter"/>
<path d="M378.1,305.8 V319.8 M376.5,305.8 H379.7 M376.5,319.8 H379.7" stroke="#ff8a8a" stroke-width="1.0" fill="none"/>
<polygon points="375.6,310.3 380.6,310.3 380.6,315.3 375.6,315.3" fill="#ff8a8a" stroke="#ff8a8a" stroke-width="1.0" stroke-linejoin="miter"/>
<path d="M391,313.4 V327.4 M389.4,313.4 H392.6 M389.4,327.4 H392.6" stroke="#ff8a8a" stroke-width="1.0" fill="none"/>
<polygon points="388.5,317.9 393.5,317.9 393.5,322.9 388.5,322.9" fill="#ff8a8a" stroke="#ff8a8a" stroke-width="1.0" stroke-linejoin="miter"/>
<path d="M402.5,324.8 V336.8 M400.9,324.8 H404.1 M400.9,336.8 H404.1" stroke="#ff8a8a" stroke-width="1.0" fill="none"/>
<polygon points="400,328.3 405,328.3 405,333.3 400,333.3" fill="#ff8a8a" stroke="#ff8a8a" stroke-width="1.0" stroke-linejoin="miter"/>
<path d="M412.9,340.5 V351.5 M411.3,340.5 H414.5 M411.3,351.5 H414.5" stroke="#ff8a8a" stroke-width="1.0" fill="none"/>
<polygon points="410.4,343.5 415.4,343.5 415.4,348.5 410.4,348.5" fill="#ff8a8a" stroke="#ff8a8a" stroke-width="1.0" stroke-linejoin="miter"/>
<path d="M422.4,338.5 V349.5 M420.8,338.5 H424 M420.8,349.5 H424" stroke="#ff8a8a" stroke-width="1.0" fill="none"/>
<polygon points="419.9,341.5 424.9,341.5 424.9,346.5 419.9,346.5" fill="#ff8a8a" stroke="#ff8a8a" stroke-width="1.0" stroke-linejoin="miter"/>
<path d="M431.1,352.5 V363.5 M429.5,352.5 H432.7 M429.5,363.5 H432.7" stroke="#ff8a8a" stroke-width="1.0" fill="none"/>
<polygon points="428.6,355.5 433.6,355.5 433.6,360.5 428.6,360.5" fill="#ff8a8a" stroke="#ff8a8a" stroke-width="1.0" stroke-linejoin="miter"/>
<path d="M439.2,345.5 V356.5 M437.6,345.5 H440.8 M437.6,356.5 H440.8" stroke="#ff8a8a" stroke-width="1.0" fill="none"/>
<polygon points="436.7,348.5 441.7,348.5 441.7,353.5 436.7,353.5" fill="#ff8a8a" stroke="#ff8a8a" stroke-width="1.0" stroke-linejoin="miter"/>
<path d="M446.8,354.5 V365.5 M445.2,354.5 H448.4 M445.2,365.5 H448.4" stroke="#ff8a8a" stroke-width="1.0" fill="none"/>
<polygon points="444.3,357.5 449.3,357.5 449.3,362.5 444.3,362.5" fill="#ff8a8a" stroke="#ff8a8a" stroke-width="1.0" stroke-linejoin="miter"/>
<path d="M453.8,348.5 V359.5 M452.2,348.5 H455.4 M452.2,359.5 H455.4" stroke="#ff8a8a" stroke-width="1.0" fill="none"/>
<polygon points="451.3,351.5 456.3,351.5 456.3,356.5 451.3,356.5" fill="#ff8a8a" stroke="#ff8a8a" stroke-width="1.0" stroke-linejoin="miter"/>
<path d="M460.4,346 V358 M458.8,346 H462 M458.8,358 H462" stroke="#ff8a8a" stroke-width="1.0" fill="none"/>
<polygon points="457.9,349.5 462.9,349.5 462.9,354.5 457.9,354.5" fill="#ff8a8a" stroke="#ff8a8a" stroke-width="1.0" stroke-linejoin="miter"/>
<path d="M466.7,326 V342 M465.1,326 H468.3 M465.1,342 H468.3" stroke="#ff8a8a" stroke-width="1.0" fill="none"/>
<polygon points="464.2,331.5 469.2,331.5 469.2,336.5 464.2,336.5" fill="#ff8a8a" stroke="#ff8a8a" stroke-width="1.0" stroke-linejoin="miter"/>
<path d="M271,243.6 V277.6 M269.4,243.6 H272.6 M269.4,277.6 H272.6" stroke="#ff6262" stroke-width="1.0" fill="none"/>
<circle cx="271" cy="260.6" r="2.8" fill="#ff6262"/>
<path d="M302.5,228.2 V264.2 M300.9,228.2 H304.1 M300.9,264.2 H304.1" stroke="#ff6262" stroke-width="1.0" fill="none"/>
<circle cx="302.5" cy="246.2" r="2.8" fill="#ff6262"/>
<path d="M326.8,247.3 V271.3 M325.2,247.3 H328.4 M325.2,271.3 H328.4" stroke="#ff6262" stroke-width="1.0" fill="none"/>
<circle cx="326.8" cy="259.3" r="2.8" fill="#ff6262"/>
<path d="M346.7,258.2 V280.2 M345.1,258.2 H348.3 M345.1,280.2 H348.3" stroke="#ff6262" stroke-width="1.0" fill="none"/>
<circle cx="346.7" cy="269.2" r="2.8" fill="#ff6262"/>
<path d="M363.5,276.8 V292.8 M361.9,276.8 H365.1 M361.9,292.8 H365.1" stroke="#ff6262" stroke-width="1.0" fill="none"/>
<circle cx="363.5" cy="284.8" r="2.8" fill="#ff6262"/>
<path d="M378.1,286.8 V300.8 M376.5,286.8 H379.7 M376.5,300.8 H379.7" stroke="#ff6262" stroke-width="1.0" fill="none"/>
<circle cx="378.1" cy="293.8" r="2.8" fill="#ff6262"/>
<path d="M391,298.2 V312.2 M389.4,298.2 H392.6 M389.4,312.2 H392.6" stroke="#ff6262" stroke-width="1.0" fill="none"/>
<circle cx="391" cy="305.2" r="2.8" fill="#ff6262"/>
<path d="M402.5,312.5 V324.5 M400.9,312.5 H404.1 M400.9,324.5 H404.1" stroke="#ff6262" stroke-width="1.0" fill="none"/>
<circle cx="402.5" cy="318.5" r="2.8" fill="#ff6262"/>
<path d="M412.9,324.5 V335.5 M411.3,324.5 H414.5 M411.3,335.5 H414.5" stroke="#ff6262" stroke-width="1.0" fill="none"/>
<circle cx="412.9" cy="330" r="2.8" fill="#ff6262"/>
<path d="M422.4,330.5 V341.5 M420.8,330.5 H424 M420.8,341.5 H424" stroke="#ff6262" stroke-width="1.0" fill="none"/>
<circle cx="422.4" cy="336" r="2.8" fill="#ff6262"/>
<path d="M431.1,337.5 V348.5 M429.5,337.5 H432.7 M429.5,348.5 H432.7" stroke="#ff6262" stroke-width="1.0" fill="none"/>
<circle cx="431.1" cy="343" r="2.8" fill="#ff6262"/>
<path d="M439.2,341.5 V352.5 M437.6,341.5 H440.8 M437.6,352.5 H440.8" stroke="#ff6262" stroke-width="1.0" fill="none"/>
<circle cx="439.2" cy="347" r="2.8" fill="#ff6262"/>
<path d="M446.8,348.5 V359.5 M445.2,348.5 H448.4 M445.2,359.5 H448.4" stroke="#ff6262" stroke-width="1.0" fill="none"/>
<circle cx="446.8" cy="354" r="2.8" fill="#ff6262"/>
<path d="M453.8,341.5 V352.5 M452.2,341.5 H455.4 M452.2,352.5 H455.4" stroke="#ff6262" stroke-width="1.0" fill="none"/>
<circle cx="453.8" cy="347" r="2.8" fill="#ff6262"/>
<path d="M460.4,346 V358 M458.8,346 H462 M458.8,358 H462" stroke="#ff6262" stroke-width="1.0" fill="none"/>
<circle cx="460.4" cy="352" r="2.8" fill="#ff6262"/>
<path d="M466.7,343 V359 M465.1,343 H468.3 M465.1,359 H468.3" stroke="#ff6262" stroke-width="1.0" fill="none"/>
<circle cx="466.7" cy="351" r="2.8" fill="#ff6262"/>
<path d="M271,232 V262 M269.4,232 H272.6 M269.4,262 H272.6" stroke="#ff3a3a" stroke-width="1.0" fill="none"/>
<polygon points="268.2,248.5 273.9,248.5 271,243.3" fill="#ff3a3a" stroke="#ff3a3a" stroke-width="1.0" stroke-linejoin="miter"/>
<path d="M302.5,253.8 V277.8 M300.9,253.8 H304.1 M300.9,277.8 H304.1" stroke="#ff3a3a" stroke-width="1.0" fill="none"/>
<polygon points="299.6,267.3 305.3,267.3 302.5,262.1" fill="#ff3a3a" stroke="#ff3a3a" stroke-width="1.0" stroke-linejoin="miter"/>
<path d="M326.8,261 V279 M325.2,261 H328.4 M325.2,279 H328.4" stroke="#ff3a3a" stroke-width="1.0" fill="none"/>
<polygon points="324,271.5 329.7,271.5 326.8,266.3" fill="#ff3a3a" stroke="#ff3a3a" stroke-width="1.0" stroke-linejoin="miter"/>
<path d="M346.7,274.8 V290.8 M345.1,274.8 H348.3 M345.1,290.8 H348.3" stroke="#ff3a3a" stroke-width="1.0" fill="none"/>
<polygon points="343.9,284.3 349.6,284.3 346.7,279.1" fill="#ff3a3a" stroke="#ff3a3a" stroke-width="1.0" stroke-linejoin="miter"/>
<path d="M363.5,280.9 V296.9 M361.9,280.9 H365.1 M361.9,296.9 H365.1" stroke="#ff3a3a" stroke-width="1.0" fill="none"/>
<polygon points="360.7,290.4 366.4,290.4 363.5,285.2" fill="#ff3a3a" stroke="#ff3a3a" stroke-width="1.0" stroke-linejoin="miter"/>
<path d="M378.1,287.6 V301.6 M376.5,287.6 H379.7 M376.5,301.6 H379.7" stroke="#ff3a3a" stroke-width="1.0" fill="none"/>
<polygon points="375.3,296.1 381,296.1 378.1,290.9" fill="#ff3a3a" stroke="#ff3a3a" stroke-width="1.0" stroke-linejoin="miter"/>
<path d="M391,299 V313 M389.4,299 H392.6 M389.4,313 H392.6" stroke="#ff3a3a" stroke-width="1.0" fill="none"/>
<polygon points="388.1,307.5 393.8,307.5 391,302.3" fill="#ff3a3a" stroke="#ff3a3a" stroke-width="1.0" stroke-linejoin="miter"/>
<path d="M402.5,307.6 V319.6 M400.9,307.6 H404.1 M400.9,319.6 H404.1" stroke="#ff3a3a" stroke-width="1.0" fill="none"/>
<polygon points="399.6,315.1 405.3,315.1 402.5,309.9" fill="#ff3a3a" stroke="#ff3a3a" stroke-width="1.0" stroke-linejoin="miter"/>
<path d="M412.9,322.3 V333.3 M411.3,322.3 H414.5 M411.3,333.3 H414.5" stroke="#ff3a3a" stroke-width="1.0" fill="none"/>
<polygon points="410,329.3 415.7,329.3 412.9,324.1" fill="#ff3a3a" stroke="#ff3a3a" stroke-width="1.0" stroke-linejoin="miter"/>
<path d="M422.4,331.3 V342.3 M420.8,331.3 H424 M420.8,342.3 H424" stroke="#ff3a3a" stroke-width="1.0" fill="none"/>
<polygon points="419.5,338.3 425.2,338.3 422.4,333.1" fill="#ff3a3a" stroke="#ff3a3a" stroke-width="1.0" stroke-linejoin="miter"/>
<path d="M431.1,338.3 V349.3 M429.5,338.3 H432.7 M429.5,349.3 H432.7" stroke="#ff3a3a" stroke-width="1.0" fill="none"/>
<polygon points="428.3,345.3 434,345.3 431.1,340.1" fill="#ff3a3a" stroke="#ff3a3a" stroke-width="1.0" stroke-linejoin="miter"/>
<path d="M439.2,342.3 V353.3 M437.6,342.3 H440.8 M437.6,353.3 H440.8" stroke="#ff3a3a" stroke-width="1.0" fill="none"/>
<polygon points="436.4,349.3 442.1,349.3 439.2,344.1" fill="#ff3a3a" stroke="#ff3a3a" stroke-width="1.0" stroke-linejoin="miter"/>
<path d="M446.8,349.3 V360.3 M445.2,349.3 H448.4 M445.2,360.3 H448.4" stroke="#ff3a3a" stroke-width="1.0" fill="none"/>
<polygon points="443.9,356.3 449.6,356.3 446.8,351.1" fill="#ff3a3a" stroke="#ff3a3a" stroke-width="1.0" stroke-linejoin="miter"/>
<path d="M453.8,345.3 V356.3 M452.2,345.3 H455.4 M452.2,356.3 H455.4" stroke="#ff3a3a" stroke-width="1.0" fill="none"/>
<polygon points="451,352.3 456.7,352.3 453.8,347.1" fill="#ff3a3a" stroke="#ff3a3a" stroke-width="1.0" stroke-linejoin="miter"/>
<path d="M460.4,344.8 V356.8 M458.8,344.8 H462 M458.8,356.8 H462" stroke="#ff3a3a" stroke-width="1.0" fill="none"/>
<polygon points="457.6,352.3 463.3,352.3 460.4,347.1" fill="#ff3a3a" stroke="#ff3a3a" stroke-width="1.0" stroke-linejoin="miter"/>
<path d="M466.7,340.8 V356.8 M465.1,340.8 H468.3 M465.1,356.8 H468.3" stroke="#ff3a3a" stroke-width="1.0" fill="none"/>
<polygon points="463.8,350.3 469.5,350.3 466.7,345.1" fill="#ff3a3a" stroke="#ff3a3a" stroke-width="1.0" stroke-linejoin="miter"/>
<path d="M271,295.7 V319.7 M269.4,295.7 H272.6 M269.4,319.7 H272.6" stroke="#f00000" stroke-width="1.0" fill="none"/>
<polygon points="268.2,306.2 273.9,306.2 271,311.4" fill="#f00000" stroke="#f00000" stroke-width="1.0" stroke-linejoin="miter"/>
<path d="M302.5,282.2 V300.2 M300.9,282.2 H304.1 M300.9,300.2 H304.1" stroke="#f00000" stroke-width="1.0" fill="none"/>
<polygon points="299.6,289.7 305.3,289.7 302.5,294.9" fill="#f00000" stroke="#f00000" stroke-width="1.0" stroke-linejoin="miter"/>
<path d="M326.8,277.7 V295.7 M325.2,277.7 H328.4 M325.2,295.7 H328.4" stroke="#f00000" stroke-width="1.0" fill="none"/>
<polygon points="324,285.2 329.7,285.2 326.8,290.4" fill="#f00000" stroke="#f00000" stroke-width="1.0" stroke-linejoin="miter"/>
<path d="M346.7,287.2 V303.2 M345.1,287.2 H348.3 M345.1,303.2 H348.3" stroke="#f00000" stroke-width="1.0" fill="none"/>
<polygon points="343.9,293.7 349.6,293.7 346.7,298.9" fill="#f00000" stroke="#f00000" stroke-width="1.0" stroke-linejoin="miter"/>
<path d="M363.5,295.4 V311.4 M361.9,295.4 H365.1 M361.9,311.4 H365.1" stroke="#f00000" stroke-width="1.0" fill="none"/>
<polygon points="360.7,301.9 366.4,301.9 363.5,307.1" fill="#f00000" stroke="#f00000" stroke-width="1.0" stroke-linejoin="miter"/>
<path d="M378.1,301.2 V315.2 M376.5,301.2 H379.7 M376.5,315.2 H379.7" stroke="#f00000" stroke-width="1.0" fill="none"/>
<polygon points="375.3,306.7 381,306.7 378.1,311.9" fill="#f00000" stroke="#f00000" stroke-width="1.0" stroke-linejoin="miter"/>
<path d="M391,310.7 V324.7 M389.4,310.7 H392.6 M389.4,324.7 H392.6" stroke="#f00000" stroke-width="1.0" fill="none"/>
<polygon points="388.1,316.2 393.8,316.2 391,321.4" fill="#f00000" stroke="#f00000" stroke-width="1.0" stroke-linejoin="miter"/>
<path d="M402.5,319.2 V331.2 M400.9,319.2 H404.1 M400.9,331.2 H404.1" stroke="#f00000" stroke-width="1.0" fill="none"/>
<polygon points="399.6,323.7 405.3,323.7 402.5,328.9" fill="#f00000" stroke="#f00000" stroke-width="1.0" stroke-linejoin="miter"/>
<path d="M412.9,323.7 V334.7 M411.3,323.7 H414.5 M411.3,334.7 H414.5" stroke="#f00000" stroke-width="1.0" fill="none"/>
<polygon points="410,327.7 415.7,327.7 412.9,332.9" fill="#f00000" stroke="#f00000" stroke-width="1.0" stroke-linejoin="miter"/>
<path d="M422.4,337.7 V348.7 M420.8,337.7 H424 M420.8,348.7 H424" stroke="#f00000" stroke-width="1.0" fill="none"/>
<polygon points="419.5,341.7 425.2,341.7 422.4,346.9" fill="#f00000" stroke="#f00000" stroke-width="1.0" stroke-linejoin="miter"/>
<path d="M431.1,344.7 V355.7 M429.5,344.7 H432.7 M429.5,355.7 H432.7" stroke="#f00000" stroke-width="1.0" fill="none"/>
<polygon points="428.3,348.7 434,348.7 431.1,353.9" fill="#f00000" stroke="#f00000" stroke-width="1.0" stroke-linejoin="miter"/>
<path d="M439.2,341.7 V352.7 M437.6,341.7 H440.8 M437.6,352.7 H440.8" stroke="#f00000" stroke-width="1.0" fill="none"/>
<polygon points="436.4,345.7 442.1,345.7 439.2,350.9" fill="#f00000" stroke="#f00000" stroke-width="1.0" stroke-linejoin="miter"/>
<path d="M446.8,345.7 V356.7 M445.2,345.7 H448.4 M445.2,356.7 H448.4" stroke="#f00000" stroke-width="1.0" fill="none"/>
<polygon points="443.9,349.7 449.6,349.7 446.8,354.9" fill="#f00000" stroke="#f00000" stroke-width="1.0" stroke-linejoin="miter"/>
<path d="M453.8,347.7 V358.7 M452.2,347.7 H455.4 M452.2,358.7 H455.4" stroke="#f00000" stroke-width="1.0" fill="none"/>
<polygon points="451,351.7 456.7,351.7 453.8,356.9" fill="#f00000" stroke="#f00000" stroke-width="1.0" stroke-linejoin="miter"/>
<path d="M460.4,345.2 V357.2 M458.8,345.2 H462 M458.8,357.2 H462" stroke="#f00000" stroke-width="1.0" fill="none"/>
<polygon points="457.6,349.7 463.3,349.7 460.4,354.9" fill="#f00000" stroke="#f00000" stroke-width="1.0" stroke-linejoin="miter"/>
<path d="M466.7,341.2 V357.2 M465.1,341.2 H468.3 M465.1,357.2 H468.3" stroke="#f00000" stroke-width="1.0" fill="none"/>
<polygon points="463.8,347.7 469.5,347.7 466.7,352.9" fill="#f00000" stroke="#f00000" stroke-width="1.0" stroke-linejoin="miter"/>
<path d="M271,296 V322 M269.4,296 H272.6 M269.4,322 H272.6" stroke="#c8000a" stroke-width="1.0" fill="none"/>
<polygon points="271,306.1 273.9,309 271,311.9 268.1,309" fill="#c8000a" stroke="#c8000a" stroke-width="1.0" stroke-linejoin="miter"/>
<path d="M302.5,299.5 V317.5 M300.9,299.5 H304.1 M300.9,317.5 H304.1" stroke="#c8000a" stroke-width="1.0" fill="none"/>
<polygon points="302.5,305.6 305.4,308.5 302.5,311.4 299.6,308.5" fill="#c8000a" stroke="#c8000a" stroke-width="1.0" stroke-linejoin="miter"/>
<path d="M326.8,286.2 V316.2 M325.2,286.2 H328.4 M325.2,316.2 H328.4" stroke="#c8000a" stroke-width="1.0" fill="none"/>
<polygon points="326.8,298.3 329.7,301.2 326.8,304.1 323.9,301.2" fill="#c8000a" stroke="#c8000a" stroke-width="1.0" stroke-linejoin="miter"/>
<path d="M346.7,302.6 V320.6 M345.1,302.6 H348.3 M345.1,320.6 H348.3" stroke="#c8000a" stroke-width="1.0" fill="none"/>
<polygon points="346.7,308.7 349.6,311.6 346.7,314.5 343.8,311.6" fill="#c8000a" stroke="#c8000a" stroke-width="1.0" stroke-linejoin="miter"/>
<path d="M363.5,296.2 V312.2 M361.9,296.2 H365.1 M361.9,312.2 H365.1" stroke="#c8000a" stroke-width="1.0" fill="none"/>
<polygon points="363.5,301.3 366.4,304.2 363.5,307.1 360.6,304.2" fill="#c8000a" stroke="#c8000a" stroke-width="1.0" stroke-linejoin="miter"/>
<path d="M378.1,300.1 V314.1 M376.5,300.1 H379.7 M376.5,314.1 H379.7" stroke="#c8000a" stroke-width="1.0" fill="none"/>
<polygon points="378.1,304.2 381,307.1 378.1,310 375.2,307.1" fill="#c8000a" stroke="#c8000a" stroke-width="1.0" stroke-linejoin="miter"/>
<path d="M391,309.6 V323.6 M389.4,309.6 H392.6 M389.4,323.6 H392.6" stroke="#c8000a" stroke-width="1.0" fill="none"/>
<polygon points="391,313.7 393.9,316.6 391,319.5 388.1,316.6" fill="#c8000a" stroke="#c8000a" stroke-width="1.0" stroke-linejoin="miter"/>
<path d="M402.5,318.2 V330.2 M400.9,318.2 H404.1 M400.9,330.2 H404.1" stroke="#c8000a" stroke-width="1.0" fill="none"/>
<polygon points="402.5,321.3 405.4,324.2 402.5,327.1 399.6,324.2" fill="#c8000a" stroke="#c8000a" stroke-width="1.0" stroke-linejoin="miter"/>
<path d="M412.9,321.5 V332.5 M411.3,321.5 H414.5 M411.3,332.5 H414.5" stroke="#c8000a" stroke-width="1.0" fill="none"/>
<polygon points="412.9,324.1 415.8,327 412.9,329.9 410,327" fill="#c8000a" stroke="#c8000a" stroke-width="1.0" stroke-linejoin="miter"/>
<path d="M422.4,326.5 V337.5 M420.8,326.5 H424 M420.8,337.5 H424" stroke="#c8000a" stroke-width="1.0" fill="none"/>
<polygon points="422.4,329.1 425.3,332 422.4,334.9 419.5,332" fill="#c8000a" stroke="#c8000a" stroke-width="1.0" stroke-linejoin="miter"/>
<path d="M431.1,330.5 V341.5 M429.5,330.5 H432.7 M429.5,341.5 H432.7" stroke="#c8000a" stroke-width="1.0" fill="none"/>
<polygon points="431.1,333.1 434,336 431.1,338.9 428.2,336" fill="#c8000a" stroke="#c8000a" stroke-width="1.0" stroke-linejoin="miter"/>
<path d="M439.2,336.5 V347.5 M437.6,336.5 H440.8 M437.6,347.5 H440.8" stroke="#c8000a" stroke-width="1.0" fill="none"/>
<polygon points="439.2,339.1 442.1,342 439.2,344.9 436.3,342" fill="#c8000a" stroke="#c8000a" stroke-width="1.0" stroke-linejoin="miter"/>
<path d="M446.8,339.5 V350.5 M445.2,339.5 H448.4 M445.2,350.5 H448.4" stroke="#c8000a" stroke-width="1.0" fill="none"/>
<polygon points="446.8,342.1 449.7,345 446.8,347.9 443.9,345" fill="#c8000a" stroke="#c8000a" stroke-width="1.0" stroke-linejoin="miter"/>
<path d="M453.8,345.5 V356.5 M452.2,345.5 H455.4 M452.2,356.5 H455.4" stroke="#c8000a" stroke-width="1.0" fill="none"/>
<polygon points="453.8,348.1 456.7,351 453.8,353.9 450.9,351" fill="#c8000a" stroke="#c8000a" stroke-width="1.0" stroke-linejoin="miter"/>
<path d="M460.4,335 V347 M458.8,335 H462 M458.8,347 H462" stroke="#c8000a" stroke-width="1.0" fill="none"/>
<polygon points="460.4,338.1 463.3,341 460.4,343.9 457.5,341" fill="#c8000a" stroke="#c8000a" stroke-width="1.0" stroke-linejoin="miter"/>
<path d="M466.7,338 V354 M465.1,338 H468.3 M465.1,354 H468.3" stroke="#c8000a" stroke-width="1.0" fill="none"/>
<polygon points="466.7,343.1 469.6,346 466.7,348.9 463.8,346" fill="#c8000a" stroke="#c8000a" stroke-width="1.0" stroke-linejoin="miter"/>
<path d="M483.4,236 V261.2 M481.8,236 H485 M481.8,261.2 H485" stroke="#ff8a8a" stroke-width="1.0" fill="none"/>
<polygon points="480.9,246.1 485.9,246.1 485.9,251.1 480.9,251.1" fill="#fff"/>
<polygon points="480.9,248.6 485.9,248.6 485.9,251.1 480.9,251.1" fill="#ff8a8a"/>
<polygon points="480.9,246.1 485.9,246.1 485.9,251.1 480.9,251.1" fill="none" stroke="#ff8a8a" stroke-width="1.0" stroke-linejoin="miter"/>
<path d="M514.9,251.6 V264.4 M513.3,251.6 H516.5 M513.3,264.4 H516.5" stroke="#ff8a8a" stroke-width="1.0" fill="none"/>
<polygon points="512.4,255.5 517.4,255.5 517.4,260.5 512.4,260.5" fill="#fff"/>
<polygon points="512.4,258 517.4,258 517.4,260.5 512.4,260.5" fill="#ff8a8a"/>
<polygon points="512.4,255.5 517.4,255.5 517.4,260.5 512.4,260.5" fill="none" stroke="#ff8a8a" stroke-width="1.0" stroke-linejoin="miter"/>
<path d="M539.2,283.8 V291.8 M537.6,283.8 H540.8 M537.6,291.8 H540.8" stroke="#ff8a8a" stroke-width="1.0" fill="none"/>
<polygon points="536.7,285.3 541.7,285.3 541.7,290.3 536.7,290.3" fill="#fff"/>
<polygon points="536.7,287.8 541.7,287.8 541.7,290.3 536.7,290.3" fill="#ff8a8a"/>
<polygon points="536.7,285.3 541.7,285.3 541.7,290.3 536.7,290.3" fill="none" stroke="#ff8a8a" stroke-width="1.0" stroke-linejoin="miter"/>
<path d="M559.1,286.9 V296.9 M557.5,286.9 H560.7 M557.5,296.9 H560.7" stroke="#ff8a8a" stroke-width="1.0" fill="none"/>
<polygon points="556.6,289.4 561.6,289.4 561.6,294.4 556.6,294.4" fill="#fff"/>
<polygon points="556.6,291.9 561.6,291.9 561.6,294.4 556.6,294.4" fill="#ff8a8a"/>
<polygon points="556.6,289.4 561.6,289.4 561.6,294.4 556.6,294.4" fill="none" stroke="#ff8a8a" stroke-width="1.0" stroke-linejoin="miter"/>
<path d="M575.9,300.2 V309.2 M574.3,300.2 H577.5 M574.3,309.2 H577.5" stroke="#ff8a8a" stroke-width="1.0" fill="none"/>
<polygon points="573.4,302.2 578.4,302.2 578.4,307.2 573.4,307.2" fill="#fff"/>
<polygon points="573.4,304.7 578.4,304.7 578.4,307.2 573.4,307.2" fill="#ff8a8a"/>
<polygon points="573.4,302.2 578.4,302.2 578.4,307.2 573.4,307.2" fill="none" stroke="#ff8a8a" stroke-width="1.0" stroke-linejoin="miter"/>
<path d="M590.5,311.1 V319.1 M588.9,311.1 H592.1 M588.9,319.1 H592.1" stroke="#ff8a8a" stroke-width="1.0" fill="none"/>
<polygon points="588,312.6 593,312.6 593,317.6 588,317.6" fill="#fff"/>
<polygon points="588,315.1 593,315.1 593,317.6 588,317.6" fill="#ff8a8a"/>
<polygon points="588,312.6 593,312.6 593,317.6 588,317.6" fill="none" stroke="#ff8a8a" stroke-width="1.0" stroke-linejoin="miter"/>
<path d="M603.4,320.6 V328.6 M601.8,320.6 H605 M601.8,328.6 H605" stroke="#ff8a8a" stroke-width="1.0" fill="none"/>
<polygon points="600.9,322.1 605.9,322.1 605.9,327.1 600.9,327.1" fill="#fff"/>
<polygon points="600.9,324.6 605.9,324.6 605.9,327.1 600.9,327.1" fill="#ff8a8a"/>
<polygon points="600.9,322.1 605.9,322.1 605.9,327.1 600.9,327.1" fill="none" stroke="#ff8a8a" stroke-width="1.0" stroke-linejoin="miter"/>
<path d="M614.9,331 V338 M613.3,331 H616.5 M613.3,338 H616.5" stroke="#ff8a8a" stroke-width="1.0" fill="none"/>
<polygon points="612.4,332 617.4,332 617.4,337 612.4,337" fill="#fff"/>
<polygon points="612.4,334.5 617.4,334.5 617.4,337 612.4,337" fill="#ff8a8a"/>
<polygon points="612.4,332 617.4,332 617.4,337 612.4,337" fill="none" stroke="#ff8a8a" stroke-width="1.0" stroke-linejoin="miter"/>
<path d="M625.3,332.5 V339.5 M623.7,332.5 H626.9 M623.7,339.5 H626.9" stroke="#ff8a8a" stroke-width="1.0" fill="none"/>
<polygon points="622.8,333.5 627.8,333.5 627.8,338.5 622.8,338.5" fill="#fff"/>
<polygon points="622.8,336 627.8,336 627.8,338.5 622.8,338.5" fill="#ff8a8a"/>
<polygon points="622.8,333.5 627.8,333.5 627.8,338.5 622.8,338.5" fill="none" stroke="#ff8a8a" stroke-width="1.0" stroke-linejoin="miter"/>
<path d="M634.8,337.5 V344.5 M633.2,337.5 H636.4 M633.2,344.5 H636.4" stroke="#ff8a8a" stroke-width="1.0" fill="none"/>
<polygon points="632.3,338.5 637.3,338.5 637.3,343.5 632.3,343.5" fill="#fff"/>
<polygon points="632.3,341 637.3,341 637.3,343.5 632.3,343.5" fill="#ff8a8a"/>
<polygon points="632.3,338.5 637.3,338.5 637.3,343.5 632.3,343.5" fill="none" stroke="#ff8a8a" stroke-width="1.0" stroke-linejoin="miter"/>
<path d="M643.5,342.5 V349.5 M641.9,342.5 H645.1 M641.9,349.5 H645.1" stroke="#ff8a8a" stroke-width="1.0" fill="none"/>
<polygon points="641,343.5 646,343.5 646,348.5 641,348.5" fill="#fff"/>
<polygon points="641,346 646,346 646,348.5 641,348.5" fill="#ff8a8a"/>
<polygon points="641,343.5 646,343.5 646,348.5 641,348.5" fill="none" stroke="#ff8a8a" stroke-width="1.0" stroke-linejoin="miter"/>
<path d="M651.6,345.5 V352.5 M650,345.5 H653.2 M650,352.5 H653.2" stroke="#ff8a8a" stroke-width="1.0" fill="none"/>
<polygon points="649.1,346.5 654.1,346.5 654.1,351.5 649.1,351.5" fill="#fff"/>
<polygon points="649.1,349 654.1,349 654.1,351.5 649.1,351.5" fill="#ff8a8a"/>
<polygon points="649.1,346.5 654.1,346.5 654.1,351.5 649.1,351.5" fill="none" stroke="#ff8a8a" stroke-width="1.0" stroke-linejoin="miter"/>
<path d="M659.2,354.5 V361.5 M657.6,354.5 H660.8 M657.6,361.5 H660.8" stroke="#ff8a8a" stroke-width="1.0" fill="none"/>
<polygon points="656.7,355.5 661.7,355.5 661.7,360.5 656.7,360.5" fill="#fff"/>
<polygon points="656.7,358 661.7,358 661.7,360.5 656.7,360.5" fill="#ff8a8a"/>
<polygon points="656.7,355.5 661.7,355.5 661.7,360.5 656.7,360.5" fill="none" stroke="#ff8a8a" stroke-width="1.0" stroke-linejoin="miter"/>
<path d="M666.2,351.5 V358.5 M664.6,351.5 H667.8 M664.6,358.5 H667.8" stroke="#ff8a8a" stroke-width="1.0" fill="none"/>
<polygon points="663.7,352.5 668.7,352.5 668.7,357.5 663.7,357.5" fill="#fff"/>
<polygon points="663.7,355 668.7,355 668.7,357.5 663.7,357.5" fill="#ff8a8a"/>
<polygon points="663.7,352.5 668.7,352.5 668.7,357.5 663.7,357.5" fill="none" stroke="#ff8a8a" stroke-width="1.0" stroke-linejoin="miter"/>
<path d="M672.8,354 V362 M671.2,354 H674.4 M671.2,362 H674.4" stroke="#ff8a8a" stroke-width="1.0" fill="none"/>
<polygon points="670.3,355.5 675.3,355.5 675.3,360.5 670.3,360.5" fill="#fff"/>
<polygon points="670.3,358 675.3,358 675.3,360.5 670.3,360.5" fill="#ff8a8a"/>
<polygon points="670.3,355.5 675.3,355.5 675.3,360.5 670.3,360.5" fill="none" stroke="#ff8a8a" stroke-width="1.0" stroke-linejoin="miter"/>
<path d="M679.1,347 V355 M677.5,347 H680.7 M677.5,355 H680.7" stroke="#ff8a8a" stroke-width="1.0" fill="none"/>
<polygon points="676.6,348.5 681.6,348.5 681.6,353.5 676.6,353.5" fill="#fff"/>
<polygon points="676.6,351 681.6,351 681.6,353.5 676.6,353.5" fill="#ff8a8a"/>
<polygon points="676.6,348.5 681.6,348.5 681.6,353.5 676.6,353.5" fill="none" stroke="#ff8a8a" stroke-width="1.0" stroke-linejoin="miter"/>
<path d="M483.4,217.2 V235.2 M481.8,217.2 H485 M481.8,235.2 H485" stroke="#ff6262" stroke-width="1.0" fill="none"/>
<circle cx="483.4" cy="226.2" r="2.2" fill="#fff"/>
<path d="M481.2,226.2 A2.2,2.2 0 0 0 485.7,226.2 Z" fill="#ff6262"/>
<circle cx="483.4" cy="226.2" r="2.2" fill="none" stroke="#ff6262" stroke-width="1.0"/>
<path d="M514.9,225 V245 M513.3,225 H516.5 M513.3,245 H516.5" stroke="#ff6262" stroke-width="1.0" fill="none"/>
<circle cx="514.9" cy="235" r="2.2" fill="#fff"/>
<path d="M512.6,235 A2.2,2.2 0 0 0 517.1,235 Z" fill="#ff6262"/>
<circle cx="514.9" cy="235" r="2.2" fill="none" stroke="#ff6262" stroke-width="1.0"/>
<path d="M539.2,241.3 V257.3 M537.6,241.3 H540.8 M537.6,257.3 H540.8" stroke="#ff6262" stroke-width="1.0" fill="none"/>
<circle cx="539.2" cy="249.3" r="2.2" fill="#fff"/>
<path d="M537,249.3 A2.2,2.2 0 0 0 541.5,249.3 Z" fill="#ff6262"/>
<circle cx="539.2" cy="249.3" r="2.2" fill="none" stroke="#ff6262" stroke-width="1.0"/>
<path d="M559.1,263.6 V273.6 M557.5,263.6 H560.7 M557.5,273.6 H560.7" stroke="#ff6262" stroke-width="1.0" fill="none"/>
<circle cx="559.1" cy="268.6" r="2.2" fill="#fff"/>
<path d="M556.9,268.6 A2.2,2.2 0 0 0 561.4,268.6 Z" fill="#ff6262"/>
<circle cx="559.1" cy="268.6" r="2.2" fill="none" stroke="#ff6262" stroke-width="1.0"/>
<path d="M575.9,284 V293 M574.3,284 H577.5 M574.3,293 H577.5" stroke="#ff6262" stroke-width="1.0" fill="none"/>
<circle cx="575.9" cy="288.5" r="2.2" fill="#fff"/>
<path d="M573.7,288.5 A2.2,2.2 0 0 0 578.2,288.5 Z" fill="#ff6262"/>
<circle cx="575.9" cy="288.5" r="2.2" fill="none" stroke="#ff6262" stroke-width="1.0"/>
<path d="M590.5,297.8 V305.8 M588.9,297.8 H592.1 M588.9,305.8 H592.1" stroke="#ff6262" stroke-width="1.0" fill="none"/>
<circle cx="590.5" cy="301.8" r="2.2" fill="#fff"/>
<path d="M588.3,301.8 A2.2,2.2 0 0 0 592.8,301.8 Z" fill="#ff6262"/>
<circle cx="590.5" cy="301.8" r="2.2" fill="none" stroke="#ff6262" stroke-width="1.0"/>
<path d="M603.4,306.4 V314.4 M601.8,306.4 H605 M601.8,314.4 H605" stroke="#ff6262" stroke-width="1.0" fill="none"/>
<circle cx="603.4" cy="310.4" r="2.2" fill="#fff"/>
<path d="M601.1,310.4 A2.2,2.2 0 0 0 605.6,310.4 Z" fill="#ff6262"/>
<circle cx="603.4" cy="310.4" r="2.2" fill="none" stroke="#ff6262" stroke-width="1.0"/>
<path d="M614.9,318.3 V325.3 M613.3,318.3 H616.5 M613.3,325.3 H616.5" stroke="#ff6262" stroke-width="1.0" fill="none"/>
<circle cx="614.9" cy="321.8" r="2.2" fill="#fff"/>
<path d="M612.6,321.8 A2.2,2.2 0 0 0 617.1,321.8 Z" fill="#ff6262"/>
<circle cx="614.9" cy="321.8" r="2.2" fill="none" stroke="#ff6262" stroke-width="1.0"/>
<path d="M625.3,323.5 V330.5 M623.7,323.5 H626.9 M623.7,330.5 H626.9" stroke="#ff6262" stroke-width="1.0" fill="none"/>
<circle cx="625.3" cy="327" r="2.2" fill="#fff"/>
<path d="M623,327 A2.2,2.2 0 0 0 627.5,327 Z" fill="#ff6262"/>
<circle cx="625.3" cy="327" r="2.2" fill="none" stroke="#ff6262" stroke-width="1.0"/>
<path d="M634.8,332.5 V339.5 M633.2,332.5 H636.4 M633.2,339.5 H636.4" stroke="#ff6262" stroke-width="1.0" fill="none"/>
<circle cx="634.8" cy="336" r="2.2" fill="#fff"/>
<path d="M632.5,336 A2.2,2.2 0 0 0 637,336 Z" fill="#ff6262"/>
<circle cx="634.8" cy="336" r="2.2" fill="none" stroke="#ff6262" stroke-width="1.0"/>
<path d="M643.5,335.5 V342.5 M641.9,335.5 H645.1 M641.9,342.5 H645.1" stroke="#ff6262" stroke-width="1.0" fill="none"/>
<circle cx="643.5" cy="339" r="2.2" fill="#fff"/>
<path d="M641.3,339 A2.2,2.2 0 0 0 645.8,339 Z" fill="#ff6262"/>
<circle cx="643.5" cy="339" r="2.2" fill="none" stroke="#ff6262" stroke-width="1.0"/>
<path d="M651.6,339.5 V346.5 M650,339.5 H653.2 M650,346.5 H653.2" stroke="#ff6262" stroke-width="1.0" fill="none"/>
<circle cx="651.6" cy="343" r="2.2" fill="#fff"/>
<path d="M649.4,343 A2.2,2.2 0 0 0 653.9,343 Z" fill="#ff6262"/>
<circle cx="651.6" cy="343" r="2.2" fill="none" stroke="#ff6262" stroke-width="1.0"/>
<path d="M659.2,339.5 V346.5 M657.6,339.5 H660.8 M657.6,346.5 H660.8" stroke="#ff6262" stroke-width="1.0" fill="none"/>
<circle cx="659.2" cy="343" r="2.2" fill="#fff"/>
<path d="M656.9,343 A2.2,2.2 0 0 0 661.4,343 Z" fill="#ff6262"/>
<circle cx="659.2" cy="343" r="2.2" fill="none" stroke="#ff6262" stroke-width="1.0"/>
<path d="M666.2,347.5 V354.5 M664.6,347.5 H667.8 M664.6,354.5 H667.8" stroke="#ff6262" stroke-width="1.0" fill="none"/>
<circle cx="666.2" cy="351" r="2.2" fill="#fff"/>
<path d="M664,351 A2.2,2.2 0 0 0 668.5,351 Z" fill="#ff6262"/>
<circle cx="666.2" cy="351" r="2.2" fill="none" stroke="#ff6262" stroke-width="1.0"/>
<path d="M672.8,342 V350 M671.2,342 H674.4 M671.2,350 H674.4" stroke="#ff6262" stroke-width="1.0" fill="none"/>
<circle cx="672.8" cy="346" r="2.2" fill="#fff"/>
<path d="M670.6,346 A2.2,2.2 0 0 0 675.1,346 Z" fill="#ff6262"/>
<circle cx="672.8" cy="346" r="2.2" fill="none" stroke="#ff6262" stroke-width="1.0"/>
<path d="M679.1,342 V350 M677.5,342 H680.7 M677.5,350 H680.7" stroke="#ff6262" stroke-width="1.0" fill="none"/>
<circle cx="679.1" cy="346" r="2.2" fill="#fff"/>
<path d="M676.8,346 A2.2,2.2 0 0 0 681.3,346 Z" fill="#ff6262"/>
<circle cx="679.1" cy="346" r="2.2" fill="none" stroke="#ff6262" stroke-width="1.0"/>
<path d="M483.4,225.7 V241.7 M481.8,225.7 H485 M481.8,241.7 H485" stroke="#ff3a3a" stroke-width="1.0" fill="none"/>
<polygon points="480.6,235.2 486.3,235.2 483.4,230" fill="#fff"/>
<polygon points="481.9,232.9 485,232.9 486.3,235.2 480.6,235.2" fill="#ff3a3a"/>
<polygon points="480.6,235.2 486.3,235.2 483.4,230" fill="none" stroke="#ff3a3a" stroke-width="1.0" stroke-linejoin="miter"/>
<path d="M514.9,228.8 V242.8 M513.3,228.8 H516.5 M513.3,242.8 H516.5" stroke="#ff3a3a" stroke-width="1.0" fill="none"/>
<polygon points="512,237.3 517.7,237.3 514.9,232.1" fill="#fff"/>
<polygon points="513.3,235 516.4,235 517.7,237.3 512,237.3" fill="#ff3a3a"/>
<polygon points="512,237.3 517.7,237.3 514.9,232.1" fill="none" stroke="#ff3a3a" stroke-width="1.0" stroke-linejoin="miter"/>
<path d="M539.2,250.4 V262.4 M537.6,250.4 H540.8 M537.6,262.4 H540.8" stroke="#ff3a3a" stroke-width="1.0" fill="none"/>
<polygon points="536.4,257.9 542.1,257.9 539.2,252.7" fill="#fff"/>
<polygon points="537.6,255.6 540.8,255.6 542.1,257.9 536.4,257.9" fill="#ff3a3a"/>
<polygon points="536.4,257.9 542.1,257.9 539.2,252.7" fill="none" stroke="#ff3a3a" stroke-width="1.0" stroke-linejoin="miter"/>
<path d="M559.1,269.1 V279.1 M557.5,269.1 H560.7 M557.5,279.1 H560.7" stroke="#ff3a3a" stroke-width="1.0" fill="none"/>
<polygon points="556.3,275.6 562,275.6 559.1,270.4" fill="#fff"/>
<polygon points="557.5,273.3 560.7,273.3 562,275.6 556.3,275.6" fill="#ff3a3a"/>
<polygon points="556.3,275.6 562,275.6 559.1,270.4" fill="none" stroke="#ff3a3a" stroke-width="1.0" stroke-linejoin="miter"/>
<path d="M575.9,284.8 V293.8 M574.3,284.8 H577.5 M574.3,293.8 H577.5" stroke="#ff3a3a" stroke-width="1.0" fill="none"/>
<polygon points="573.1,290.8 578.8,290.8 575.9,285.6" fill="#fff"/>
<polygon points="574.4,288.5 577.5,288.5 578.8,290.8 573.1,290.8" fill="#ff3a3a"/>
<polygon points="573.1,290.8 578.8,290.8 575.9,285.6" fill="none" stroke="#ff3a3a" stroke-width="1.0" stroke-linejoin="miter"/>
<path d="M590.5,298.6 V306.6 M588.9,298.6 H592.1 M588.9,306.6 H592.1" stroke="#ff3a3a" stroke-width="1.0" fill="none"/>
<polygon points="587.7,304.1 593.4,304.1 590.5,298.9" fill="#fff"/>
<polygon points="588.9,301.8 592.1,301.8 593.4,304.1 587.7,304.1" fill="#ff3a3a"/>
<polygon points="587.7,304.1 593.4,304.1 590.5,298.9" fill="none" stroke="#ff3a3a" stroke-width="1.0" stroke-linejoin="miter"/>
<path d="M603.4,307.2 V315.2 M601.8,307.2 H605 M601.8,315.2 H605" stroke="#ff3a3a" stroke-width="1.0" fill="none"/>
<polygon points="600.5,312.7 606.2,312.7 603.4,307.5" fill="#fff"/>
<polygon points="601.8,310.4 605,310.4 606.2,312.7 600.5,312.7" fill="#ff3a3a"/>
<polygon points="600.5,312.7 606.2,312.7 603.4,307.5" fill="none" stroke="#ff3a3a" stroke-width="1.0" stroke-linejoin="miter"/>
<path d="M614.9,319.1 V326.1 M613.3,319.1 H616.5 M613.3,326.1 H616.5" stroke="#ff3a3a" stroke-width="1.0" fill="none"/>
<polygon points="612,324.1 617.7,324.1 614.9,318.9" fill="#fff"/>
<polygon points="613.3,321.8 616.5,321.8 617.7,324.1 612,324.1" fill="#ff3a3a"/>
<polygon points="612,324.1 617.7,324.1 614.9,318.9" fill="none" stroke="#ff3a3a" stroke-width="1.0" stroke-linejoin="miter"/>
<path d="M625.3,324.3 V331.3 M623.7,324.3 H626.9 M623.7,331.3 H626.9" stroke="#ff3a3a" stroke-width="1.0" fill="none"/>
<polygon points="622.4,329.3 628.1,329.3 625.3,324.1" fill="#fff"/>
<polygon points="623.7,327 626.9,327 628.1,329.3 622.4,329.3" fill="#ff3a3a"/>
<polygon points="622.4,329.3 628.1,329.3 625.3,324.1" fill="none" stroke="#ff3a3a" stroke-width="1.0" stroke-linejoin="miter"/>
<path d="M634.8,335.3 V342.3 M633.2,335.3 H636.4 M633.2,342.3 H636.4" stroke="#ff3a3a" stroke-width="1.0" fill="none"/>
<polygon points="631.9,340.3 637.6,340.3 634.8,335.1" fill="#fff"/>
<polygon points="633.2,338 636.4,338 637.6,340.3 631.9,340.3" fill="#ff3a3a"/>
<polygon points="631.9,340.3 637.6,340.3 634.8,335.1" fill="none" stroke="#ff3a3a" stroke-width="1.0" stroke-linejoin="miter"/>
<path d="M643.5,336.3 V343.3 M641.9,336.3 H645.1 M641.9,343.3 H645.1" stroke="#ff3a3a" stroke-width="1.0" fill="none"/>
<polygon points="640.7,341.3 646.4,341.3 643.5,336.1" fill="#fff"/>
<polygon points="641.9,339 645.1,339 646.4,341.3 640.7,341.3" fill="#ff3a3a"/>
<polygon points="640.7,341.3 646.4,341.3 643.5,336.1" fill="none" stroke="#ff3a3a" stroke-width="1.0" stroke-linejoin="miter"/>
<path d="M651.6,338.3 V345.3 M650,338.3 H653.2 M650,345.3 H653.2" stroke="#ff3a3a" stroke-width="1.0" fill="none"/>
<polygon points="648.8,343.3 654.5,343.3 651.6,338.1" fill="#fff"/>
<polygon points="650,341 653.2,341 654.5,343.3 648.8,343.3" fill="#ff3a3a"/>
<polygon points="648.8,343.3 654.5,343.3 651.6,338.1" fill="none" stroke="#ff3a3a" stroke-width="1.0" stroke-linejoin="miter"/>
<path d="M659.2,340.3 V347.3 M657.6,340.3 H660.8 M657.6,347.3 H660.8" stroke="#ff3a3a" stroke-width="1.0" fill="none"/>
<polygon points="656.3,345.3 662,345.3 659.2,340.1" fill="#fff"/>
<polygon points="657.6,343 660.8,343 662,345.3 656.3,345.3" fill="#ff3a3a"/>
<polygon points="656.3,345.3 662,345.3 659.2,340.1" fill="none" stroke="#ff3a3a" stroke-width="1.0" stroke-linejoin="miter"/>
<path d="M666.2,348.3 V355.3 M664.6,348.3 H667.8 M664.6,355.3 H667.8" stroke="#ff3a3a" stroke-width="1.0" fill="none"/>
<polygon points="663.4,353.3 669.1,353.3 666.2,348.1" fill="#fff"/>
<polygon points="664.6,351 667.8,351 669.1,353.3 663.4,353.3" fill="#ff3a3a"/>
<polygon points="663.4,353.3 669.1,353.3 666.2,348.1" fill="none" stroke="#ff3a3a" stroke-width="1.0" stroke-linejoin="miter"/>
<path d="M672.8,346.8 V354.8 M671.2,346.8 H674.4 M671.2,354.8 H674.4" stroke="#ff3a3a" stroke-width="1.0" fill="none"/>
<polygon points="670,352.3 675.7,352.3 672.8,347.1" fill="#fff"/>
<polygon points="671.2,350 674.4,350 675.7,352.3 670,352.3" fill="#ff3a3a"/>
<polygon points="670,352.3 675.7,352.3 672.8,347.1" fill="none" stroke="#ff3a3a" stroke-width="1.0" stroke-linejoin="miter"/>
<path d="M679.1,342.8 V350.8 M677.5,342.8 H680.7 M677.5,350.8 H680.7" stroke="#ff3a3a" stroke-width="1.0" fill="none"/>
<polygon points="676.2,348.3 681.9,348.3 679.1,343.1" fill="#fff"/>
<polygon points="677.5,346 680.7,346 681.9,348.3 676.2,348.3" fill="#ff3a3a"/>
<polygon points="676.2,348.3 681.9,348.3 679.1,343.1" fill="none" stroke="#ff3a3a" stroke-width="1.0" stroke-linejoin="miter"/>
<path d="M483.4,224.1 V240.1 M481.8,224.1 H485 M481.8,240.1 H485" stroke="#f00000" stroke-width="1.0" fill="none"/>
<polygon points="480.6,230.6 486.3,230.6 483.4,235.8" fill="#fff"/>
<polygon points="482,233.2 484.9,233.2 483.4,235.8" fill="#f00000"/>
<polygon points="480.6,230.6 486.3,230.6 483.4,235.8" fill="none" stroke="#f00000" stroke-width="1.0" stroke-linejoin="miter"/>
<path d="M514.9,240.8 V254.8 M513.3,240.8 H516.5 M513.3,254.8 H516.5" stroke="#f00000" stroke-width="1.0" fill="none"/>
<polygon points="512,246.3 517.7,246.3 514.9,251.5" fill="#fff"/>
<polygon points="513.4,248.9 516.3,248.9 514.9,251.5" fill="#f00000"/>
<polygon points="512,246.3 517.7,246.3 514.9,251.5" fill="none" stroke="#f00000" stroke-width="1.0" stroke-linejoin="miter"/>
<path d="M539.2,258.6 V270.6 M537.6,258.6 H540.8 M537.6,270.6 H540.8" stroke="#f00000" stroke-width="1.0" fill="none"/>
<polygon points="536.4,263.1 542.1,263.1 539.2,268.3" fill="#fff"/>
<polygon points="537.8,265.7 540.6,265.7 539.2,268.3" fill="#f00000"/>
<polygon points="536.4,263.1 542.1,263.1 539.2,268.3" fill="none" stroke="#f00000" stroke-width="1.0" stroke-linejoin="miter"/>
<path d="M559.1,272.3 V282.3 M557.5,272.3 H560.7 M557.5,282.3 H560.7" stroke="#f00000" stroke-width="1.0" fill="none"/>
<polygon points="556.3,275.8 562,275.8 559.1,281" fill="#fff"/>
<polygon points="557.7,278.4 560.5,278.4 559.1,281" fill="#f00000"/>
<polygon points="556.3,275.8 562,275.8 559.1,281" fill="none" stroke="#f00000" stroke-width="1.0" stroke-linejoin="miter"/>
<path d="M575.9,284.7 V293.7 M574.3,284.7 H577.5 M574.3,293.7 H577.5" stroke="#f00000" stroke-width="1.0" fill="none"/>
<polygon points="573.1,287.7 578.8,287.7 575.9,292.9" fill="#fff"/>
<polygon points="574.5,290.3 577.4,290.3 575.9,292.9" fill="#f00000"/>
<polygon points="573.1,287.7 578.8,287.7 575.9,292.9" fill="none" stroke="#f00000" stroke-width="1.0" stroke-linejoin="miter"/>
<path d="M590.5,297 V305 M588.9,297 H592.1 M588.9,305 H592.1" stroke="#f00000" stroke-width="1.0" fill="none"/>
<polygon points="587.7,299.5 593.4,299.5 590.5,304.7" fill="#fff"/>
<polygon points="589.1,302.1 592,302.1 590.5,304.7" fill="#f00000"/>
<polygon points="587.7,299.5 593.4,299.5 590.5,304.7" fill="none" stroke="#f00000" stroke-width="1.0" stroke-linejoin="miter"/>
<path d="M603.4,303.7 V311.7 M601.8,303.7 H605 M601.8,311.7 H605" stroke="#f00000" stroke-width="1.0" fill="none"/>
<polygon points="600.5,306.2 606.2,306.2 603.4,311.4" fill="#fff"/>
<polygon points="602,308.8 604.8,308.8 603.4,311.4" fill="#f00000"/>
<polygon points="600.5,306.2 606.2,306.2 603.4,311.4" fill="none" stroke="#f00000" stroke-width="1.0" stroke-linejoin="miter"/>
<path d="M614.9,317.5 V324.5 M613.3,317.5 H616.5 M613.3,324.5 H616.5" stroke="#f00000" stroke-width="1.0" fill="none"/>
<polygon points="612,319.5 617.7,319.5 614.9,324.7" fill="#fff"/>
<polygon points="613.5,322.1 616.3,322.1 614.9,324.7" fill="#f00000"/>
<polygon points="612,319.5 617.7,319.5 614.9,324.7" fill="none" stroke="#f00000" stroke-width="1.0" stroke-linejoin="miter"/>
<path d="M625.3,322.7 V329.7 M623.7,322.7 H626.9 M623.7,329.7 H626.9" stroke="#f00000" stroke-width="1.0" fill="none"/>
<polygon points="622.4,324.7 628.1,324.7 625.3,329.9" fill="#fff"/>
<polygon points="623.9,327.3 626.7,327.3 625.3,329.9" fill="#f00000"/>
<polygon points="622.4,324.7 628.1,324.7 625.3,329.9" fill="none" stroke="#f00000" stroke-width="1.0" stroke-linejoin="miter"/>
<path d="M634.8,333.7 V340.7 M633.2,333.7 H636.4 M633.2,340.7 H636.4" stroke="#f00000" stroke-width="1.0" fill="none"/>
<polygon points="631.9,335.7 637.6,335.7 634.8,340.9" fill="#fff"/>
<polygon points="633.4,338.3 636.2,338.3 634.8,340.9" fill="#f00000"/>
<polygon points="631.9,335.7 637.6,335.7 634.8,340.9" fill="none" stroke="#f00000" stroke-width="1.0" stroke-linejoin="miter"/>
<path d="M643.5,334.7 V341.7 M641.9,334.7 H645.1 M641.9,341.7 H645.1" stroke="#f00000" stroke-width="1.0" fill="none"/>
<polygon points="640.7,336.7 646.4,336.7 643.5,341.9" fill="#fff"/>
<polygon points="642.1,339.3 645,339.3 643.5,341.9" fill="#f00000"/>
<polygon points="640.7,336.7 646.4,336.7 643.5,341.9" fill="none" stroke="#f00000" stroke-width="1.0" stroke-linejoin="miter"/>
<path d="M651.6,341.7 V348.7 M650,341.7 H653.2 M650,348.7 H653.2" stroke="#f00000" stroke-width="1.0" fill="none"/>
<polygon points="648.8,343.7 654.5,343.7 651.6,348.9" fill="#fff"/>
<polygon points="650.2,346.3 653.1,346.3 651.6,348.9" fill="#f00000"/>
<polygon points="648.8,343.7 654.5,343.7 651.6,348.9" fill="none" stroke="#f00000" stroke-width="1.0" stroke-linejoin="miter"/>
<path d="M659.2,342.7 V349.7 M657.6,342.7 H660.8 M657.6,349.7 H660.8" stroke="#f00000" stroke-width="1.0" fill="none"/>
<polygon points="656.3,344.7 662,344.7 659.2,349.9" fill="#fff"/>
<polygon points="657.7,347.3 660.6,347.3 659.2,349.9" fill="#f00000"/>
<polygon points="656.3,344.7 662,344.7 659.2,349.9" fill="none" stroke="#f00000" stroke-width="1.0" stroke-linejoin="miter"/>
<path d="M666.2,346.7 V353.7 M664.6,346.7 H667.8 M664.6,353.7 H667.8" stroke="#f00000" stroke-width="1.0" fill="none"/>
<polygon points="663.4,348.7 669.1,348.7 666.2,353.9" fill="#fff"/>
<polygon points="664.8,351.3 667.6,351.3 666.2,353.9" fill="#f00000"/>
<polygon points="663.4,348.7 669.1,348.7 666.2,353.9" fill="none" stroke="#f00000" stroke-width="1.0" stroke-linejoin="miter"/>
<path d="M672.8,347.2 V355.2 M671.2,347.2 H674.4 M671.2,355.2 H674.4" stroke="#f00000" stroke-width="1.0" fill="none"/>
<polygon points="670,349.7 675.7,349.7 672.8,354.9" fill="#fff"/>
<polygon points="671.4,352.3 674.3,352.3 672.8,354.9" fill="#f00000"/>
<polygon points="670,349.7 675.7,349.7 672.8,354.9" fill="none" stroke="#f00000" stroke-width="1.0" stroke-linejoin="miter"/>
<path d="M679.1,342.2 V350.2 M677.5,342.2 H680.7 M677.5,350.2 H680.7" stroke="#f00000" stroke-width="1.0" fill="none"/>
<polygon points="676.2,344.7 681.9,344.7 679.1,349.9" fill="#fff"/>
<polygon points="677.6,347.3 680.5,347.3 679.1,349.9" fill="#f00000"/>
<polygon points="676.2,344.7 681.9,344.7 679.1,349.9" fill="none" stroke="#f00000" stroke-width="1.0" stroke-linejoin="miter"/>
<path d="M483.4,232.5 V256.5 M481.8,232.5 H485 M481.8,256.5 H485" stroke="#c8000a" stroke-width="1.0" fill="none"/>
<polygon points="483.4,241.6 486.3,244.5 483.4,247.4 480.5,244.5" fill="#fff"/>
<polygon points="480.5,244.5 486.3,244.5 483.4,247.4" fill="#c8000a"/>
<polygon points="483.4,241.6 486.3,244.5 483.4,247.4 480.5,244.5" fill="none" stroke="#c8000a" stroke-width="1.0" stroke-linejoin="miter"/>
<path d="M514.9,245.9 V261.9 M513.3,245.9 H516.5 M513.3,261.9 H516.5" stroke="#c8000a" stroke-width="1.0" fill="none"/>
<polygon points="514.9,251 517.8,253.9 514.9,256.8 512,253.9" fill="#fff"/>
<polygon points="512,253.9 517.8,253.9 514.9,256.8" fill="#c8000a"/>
<polygon points="514.9,251 517.8,253.9 514.9,256.8 512,253.9" fill="none" stroke="#c8000a" stroke-width="1.0" stroke-linejoin="miter"/>
<path d="M539.2,256.4 V274.4 M537.6,256.4 H540.8 M537.6,274.4 H540.8" stroke="#c8000a" stroke-width="1.0" fill="none"/>
<polygon points="539.2,262.5 542.1,265.4 539.2,268.3 536.3,265.4" fill="#fff"/>
<polygon points="536.3,265.4 542.1,265.4 539.2,268.3" fill="#c8000a"/>
<polygon points="539.2,262.5 542.1,265.4 539.2,268.3 536.3,265.4" fill="none" stroke="#c8000a" stroke-width="1.0" stroke-linejoin="miter"/>
<path d="M559.1,273.1 V283.1 M557.5,273.1 H560.7 M557.5,283.1 H560.7" stroke="#c8000a" stroke-width="1.0" fill="none"/>
<polygon points="559.1,275.2 562,278.1 559.1,281 556.2,278.1" fill="#fff"/>
<polygon points="556.2,278.1 562,278.1 559.1,281" fill="#c8000a"/>
<polygon points="559.1,275.2 562,278.1 559.1,281 556.2,278.1" fill="none" stroke="#c8000a" stroke-width="1.0" stroke-linejoin="miter"/>
<path d="M575.9,285.5 V294.5 M574.3,285.5 H577.5 M574.3,294.5 H577.5" stroke="#c8000a" stroke-width="1.0" fill="none"/>
<polygon points="575.9,287.1 578.8,290 575.9,292.9 573,290" fill="#fff"/>
<polygon points="573,290 578.8,290 575.9,292.9" fill="#c8000a"/>
<polygon points="575.9,287.1 578.8,290 575.9,292.9 573,290" fill="none" stroke="#c8000a" stroke-width="1.0" stroke-linejoin="miter"/>
<path d="M590.5,297.8 V305.8 M588.9,297.8 H592.1 M588.9,305.8 H592.1" stroke="#c8000a" stroke-width="1.0" fill="none"/>
<polygon points="590.5,298.9 593.4,301.8 590.5,304.7 587.6,301.8" fill="#fff"/>
<polygon points="587.6,301.8 593.4,301.8 590.5,304.7" fill="#c8000a"/>
<polygon points="590.5,298.9 593.4,301.8 590.5,304.7 587.6,301.8" fill="none" stroke="#c8000a" stroke-width="1.0" stroke-linejoin="miter"/>
<path d="M603.4,311 V319 M601.8,311 H605 M601.8,319 H605" stroke="#c8000a" stroke-width="1.0" fill="none"/>
<polygon points="603.4,312.1 606.3,315 603.4,317.9 600.5,315" fill="#fff"/>
<polygon points="600.5,315 606.3,315 603.4,317.9" fill="#c8000a"/>
<polygon points="603.4,312.1 606.3,315 603.4,317.9 600.5,315" fill="none" stroke="#c8000a" stroke-width="1.0" stroke-linejoin="miter"/>
<path d="M614.9,318.3 V325.3 M613.3,318.3 H616.5 M613.3,325.3 H616.5" stroke="#c8000a" stroke-width="1.0" fill="none"/>
<polygon points="614.9,318.9 617.8,321.8 614.9,324.7 612,321.8" fill="#fff"/>
<polygon points="612,321.8 617.8,321.8 614.9,324.7" fill="#c8000a"/>
<polygon points="614.9,318.9 617.8,321.8 614.9,324.7 612,321.8" fill="none" stroke="#c8000a" stroke-width="1.0" stroke-linejoin="miter"/>
<path d="M625.3,323.5 V330.5 M623.7,323.5 H626.9 M623.7,330.5 H626.9" stroke="#c8000a" stroke-width="1.0" fill="none"/>
<polygon points="625.3,324.1 628.2,327 625.3,329.9 622.4,327" fill="#fff"/>
<polygon points="622.4,327 628.2,327 625.3,329.9" fill="#c8000a"/>
<polygon points="625.3,324.1 628.2,327 625.3,329.9 622.4,327" fill="none" stroke="#c8000a" stroke-width="1.0" stroke-linejoin="miter"/>
<path d="M634.8,336.5 V343.5 M633.2,336.5 H636.4 M633.2,343.5 H636.4" stroke="#c8000a" stroke-width="1.0" fill="none"/>
<polygon points="634.8,337.1 637.7,340 634.8,342.9 631.9,340" fill="#fff"/>
<polygon points="631.9,340 637.7,340 634.8,342.9" fill="#c8000a"/>
<polygon points="634.8,337.1 637.7,340 634.8,342.9 631.9,340" fill="none" stroke="#c8000a" stroke-width="1.0" stroke-linejoin="miter"/>
<path d="M643.5,337.5 V344.5 M641.9,337.5 H645.1 M641.9,344.5 H645.1" stroke="#c8000a" stroke-width="1.0" fill="none"/>
<polygon points="643.5,338.1 646.4,341 643.5,343.9 640.6,341" fill="#fff"/>
<polygon points="640.6,341 646.4,341 643.5,343.9" fill="#c8000a"/>
<polygon points="643.5,338.1 646.4,341 643.5,343.9 640.6,341" fill="none" stroke="#c8000a" stroke-width="1.0" stroke-linejoin="miter"/>
<path d="M651.6,343.5 V350.5 M650,343.5 H653.2 M650,350.5 H653.2" stroke="#c8000a" stroke-width="1.0" fill="none"/>
<polygon points="651.6,344.1 654.5,347 651.6,349.9 648.7,347" fill="#fff"/>
<polygon points="648.7,347 654.5,347 651.6,349.9" fill="#c8000a"/>
<polygon points="651.6,344.1 654.5,347 651.6,349.9 648.7,347" fill="none" stroke="#c8000a" stroke-width="1.0" stroke-linejoin="miter"/>
<path d="M659.2,345.5 V352.5 M657.6,345.5 H660.8 M657.6,352.5 H660.8" stroke="#c8000a" stroke-width="1.0" fill="none"/>
<polygon points="659.2,346.1 662.1,349 659.2,351.9 656.3,349" fill="#fff"/>
<polygon points="656.3,349 662.1,349 659.2,351.9" fill="#c8000a"/>
<polygon points="659.2,346.1 662.1,349 659.2,351.9 656.3,349" fill="none" stroke="#c8000a" stroke-width="1.0" stroke-linejoin="miter"/>
<path d="M666.2,347.5 V354.5 M664.6,347.5 H667.8 M664.6,354.5 H667.8" stroke="#c8000a" stroke-width="1.0" fill="none"/>
<polygon points="666.2,348.1 669.1,351 666.2,353.9 663.3,351" fill="#fff"/>
<polygon points="663.3,351 669.1,351 666.2,353.9" fill="#c8000a"/>
<polygon points="666.2,348.1 669.1,351 666.2,353.9 663.3,351" fill="none" stroke="#c8000a" stroke-width="1.0" stroke-linejoin="miter"/>
<path d="M672.8,348 V356 M671.2,348 H674.4 M671.2,356 H674.4" stroke="#c8000a" stroke-width="1.0" fill="none"/>
<polygon points="672.8,349.1 675.7,352 672.8,354.9 669.9,352" fill="#fff"/>
<polygon points="669.9,352 675.7,352 672.8,354.9" fill="#c8000a"/>
<polygon points="672.8,349.1 675.7,352 672.8,354.9 669.9,352" fill="none" stroke="#c8000a" stroke-width="1.0" stroke-linejoin="miter"/>
<path d="M679.1,344 V352 M677.5,344 H680.7 M677.5,352 H680.7" stroke="#c8000a" stroke-width="1.0" fill="none"/>
<polygon points="679.1,345.1 682,348 679.1,350.9 676.2,348" fill="#fff"/>
<polygon points="676.2,348 682,348 679.1,350.9" fill="#c8000a"/>
<polygon points="679.1,345.1 682,348 679.1,350.9 676.2,348" fill="none" stroke="#c8000a" stroke-width="1.0" stroke-linejoin="miter"/>
<rect x="170.6" y="212.5" width="85.7" height="69.7" fill="#fff"/>
<line x1="170.6" y1="212.5" x2="170.6" y2="282.2" stroke="#6a6a6a" stroke-width="0.9"/>
<line x1="170.6" y1="282.2" x2="256.3" y2="282.2" stroke="#6a6a6a" stroke-width="0.9"/>
<line x1="256.3" y1="212.5" x2="256.3" y2="282.2" stroke="#6a6a6a" stroke-width="0.9"/>
<line x1="170.6" y1="212.8" x2="256.3" y2="212.8" stroke="#6a6a6a" stroke-width="0.9"/>
<line x1="168.6" y1="224.4" x2="170.6" y2="224.4" stroke="#444" stroke-width="0.8"/>
<text x="168.1" y="226.6" font-size="6.2" text-anchor="end" font-weight="normal" fill="#222">0.75</text>
<line x1="168.6" y1="247.7" x2="170.6" y2="247.7" stroke="#444" stroke-width="0.8"/>
<text x="168.1" y="249.9" font-size="6.2" text-anchor="end" font-weight="normal" fill="#222">0.70</text>
<line x1="168.6" y1="271" x2="170.6" y2="271" stroke="#444" stroke-width="0.8"/>
<text x="168.1" y="273.2" font-size="6.2" text-anchor="end" font-weight="normal" fill="#222">0.65</text>
<line x1="170.6" y1="236" x2="171.8" y2="236" stroke="#888" stroke-width="0.6"/>
<line x1="170.6" y1="259.3" x2="171.8" y2="259.3" stroke="#888" stroke-width="0.6"/>
<line x1="175.9" y1="282.2" x2="175.9" y2="284.2" stroke="#444" stroke-width="0.8"/>
<text x="175.7" y="290" font-size="6.2" text-anchor="middle" font-weight="normal" fill="#222">10</text>
<line x1="236.4" y1="282.2" x2="236.4" y2="284.2" stroke="#444" stroke-width="0.8"/>
<text x="237.2" y="290" font-size="6.2" text-anchor="middle" font-weight="normal" fill="#222">100</text>
<line x1="194.1" y1="282.2" x2="194.1" y2="283.4" stroke="#666" stroke-width="0.6"/>
<line x1="204.8" y1="282.2" x2="204.8" y2="283.4" stroke="#666" stroke-width="0.6"/>
<line x1="212.3" y1="282.2" x2="212.3" y2="283.4" stroke="#666" stroke-width="0.6"/>
<line x1="218.2" y1="282.2" x2="218.2" y2="283.4" stroke="#666" stroke-width="0.6"/>
<line x1="223" y1="282.2" x2="223" y2="283.4" stroke="#666" stroke-width="0.6"/>
<line x1="227" y1="282.2" x2="227" y2="283.4" stroke="#666" stroke-width="0.6"/>
<line x1="230.5" y1="282.2" x2="230.5" y2="283.4" stroke="#666" stroke-width="0.6"/>
<line x1="233.6" y1="282.2" x2="233.6" y2="283.4" stroke="#666" stroke-width="0.6"/>
<line x1="254.6" y1="282.2" x2="254.6" y2="283.4" stroke="#666" stroke-width="0.6"/>
<text x="0" y="0" font-size="12.5" font-weight="bold" text-anchor="middle" fill="#111" transform="translate(156.8,247.6) rotate(-90)">&lt;<tspan font-weight="normal" font-size="10.5">δ</tspan>&gt;</text>
<text x="201.2" y="294.8" font-size="12" font-family="Liberation Serif, serif" fill="#111">γ</text>
<text y="295.2" font-size="12" font-weight="bold" fill="#111"><tspan x="210.8">(s</tspan><tspan x="221.4" y="290.8" font-size="7.5">-1</tspan><tspan x="228.9" y="295.2">)</tspan></text>
<circle cx="204.3" cy="284.5" r="0.8" fill="#111"/>
<path d="M174.6,266.8 V277.5 M173.6,266.8 H175.6 M173.6,277.5 H175.6" stroke="#ff8a8a" stroke-width="0.7" fill="none"/>
<polygon points="173.3,270.8 175.9,270.8 175.9,273.4 173.3,273.4" fill="#fff"/>
<polygon points="173.3,270.8 175.9,270.8 175.9,273.4 173.3,273.4" fill="none" stroke="#ff8a8a" stroke-width="0.8" stroke-linejoin="miter"/>
<path d="M193.2,249.2 V262.9 M192.2,249.2 H194.2 M192.2,262.9 H194.2" stroke="#ff6262" stroke-width="0.7" fill="none"/>
<circle cx="193.2" cy="256.1" r="1.2" fill="#fff" stroke="#ff6262" stroke-width="0.8"/>
<path d="M214.5,232.1 V248.6 M213.5,232.1 H215.5 M213.5,248.6 H215.5" stroke="#ff3a3a" stroke-width="0.7" fill="none"/>
<polygon points="213,241.6 216,241.6 214.5,238.9" fill="#fff"/>
<polygon points="213,241.6 216,241.6 214.5,238.9" fill="none" stroke="#ff3a3a" stroke-width="0.8" stroke-linejoin="miter"/>
<path d="M234.4,247.5 V259.7 M233.4,247.5 H235.4 M233.4,259.7 H235.4" stroke="#f00000" stroke-width="0.7" fill="none"/>
<polygon points="232.9,251.9 235.9,251.9 234.4,254.6" fill="#fff"/>
<polygon points="232.9,251.9 235.9,251.9 234.4,254.6" fill="none" stroke="#f00000" stroke-width="0.8" stroke-linejoin="miter"/>
<path d="M254.3,253.9 V264 M253.3,253.9 H255.3 M253.3,264 H255.3" stroke="#c8000a" stroke-width="0.7" fill="none"/>
<polygon points="254.3,257.5 255.8,259 254.3,260.5 252.8,259" fill="#fff"/>
<polygon points="254.3,257.5 255.8,259 254.3,260.5 252.8,259" fill="none" stroke="#c8000a" stroke-width="0.8" stroke-linejoin="miter"/>
<rect x="383.2" y="212.5" width="85.7" height="69.7" fill="#fff"/>
<line x1="383.2" y1="212.5" x2="383.2" y2="282.2" stroke="#6a6a6a" stroke-width="0.9"/>
<line x1="383.2" y1="282.2" x2="468.9" y2="282.2" stroke="#6a6a6a" stroke-width="0.9"/>
<line x1="468.9" y1="212.5" x2="468.9" y2="282.2" stroke="#6a6a6a" stroke-width="0.9"/>
<line x1="383.2" y1="212.8" x2="468.9" y2="212.8" stroke="#6a6a6a" stroke-width="0.9"/>
<line x1="381.2" y1="224.4" x2="383.2" y2="224.4" stroke="#444" stroke-width="0.8"/>
<text x="380.7" y="226.6" font-size="6.2" text-anchor="end" font-weight="normal" fill="#222">0.75</text>
<line x1="381.2" y1="247.7" x2="383.2" y2="247.7" stroke="#444" stroke-width="0.8"/>
<text x="380.7" y="249.9" font-size="6.2" text-anchor="end" font-weight="normal" fill="#222">0.70</text>
<line x1="381.2" y1="271" x2="383.2" y2="271" stroke="#444" stroke-width="0.8"/>
<text x="380.7" y="273.2" font-size="6.2" text-anchor="end" font-weight="normal" fill="#222">0.65</text>
<line x1="383.2" y1="236" x2="384.4" y2="236" stroke="#888" stroke-width="0.6"/>
<line x1="383.2" y1="259.3" x2="384.4" y2="259.3" stroke="#888" stroke-width="0.6"/>
<line x1="388.5" y1="282.2" x2="388.5" y2="284.2" stroke="#444" stroke-width="0.8"/>
<text x="388.3" y="290" font-size="6.2" text-anchor="middle" font-weight="normal" fill="#222">10</text>
<line x1="449" y1="282.2" x2="449" y2="284.2" stroke="#444" stroke-width="0.8"/>
<text x="449.8" y="290" font-size="6.2" text-anchor="middle" font-weight="normal" fill="#222">100</text>
<line x1="406.7" y1="282.2" x2="406.7" y2="283.4" stroke="#666" stroke-width="0.6"/>
<line x1="417.4" y1="282.2" x2="417.4" y2="283.4" stroke="#666" stroke-width="0.6"/>
<line x1="424.9" y1="282.2" x2="424.9" y2="283.4" stroke="#666" stroke-width="0.6"/>
<line x1="430.8" y1="282.2" x2="430.8" y2="283.4" stroke="#666" stroke-width="0.6"/>
<line x1="435.6" y1="282.2" x2="435.6" y2="283.4" stroke="#666" stroke-width="0.6"/>
<line x1="439.6" y1="282.2" x2="439.6" y2="283.4" stroke="#666" stroke-width="0.6"/>
<line x1="443.1" y1="282.2" x2="443.1" y2="283.4" stroke="#666" stroke-width="0.6"/>
<line x1="446.2" y1="282.2" x2="446.2" y2="283.4" stroke="#666" stroke-width="0.6"/>
<line x1="467.2" y1="282.2" x2="467.2" y2="283.4" stroke="#666" stroke-width="0.6"/>
<text x="0" y="0" font-size="12.5" font-weight="bold" text-anchor="middle" fill="#111" transform="translate(369.4,247.6) rotate(-90)">&lt;<tspan font-weight="normal" font-size="10.5">δ</tspan>&gt;</text>
<text x="413.8" y="294.8" font-size="12" font-family="Liberation Serif, serif" fill="#111">γ</text>
<text y="295.2" font-size="12" font-weight="bold" fill="#111"><tspan x="423.4">(s</tspan><tspan x="434" y="290.8" font-size="7.5">-1</tspan><tspan x="441.5" y="295.2">)</tspan></text>
<circle cx="416.9" cy="284.5" r="0.8" fill="#111"/>
<path d="M386.3,249.8 V261.6 M385.3,249.8 H387.3 M385.3,261.6 H387.3" stroke="#ff8a8a" stroke-width="0.7" fill="none"/>
<polygon points="385,254.4 387.6,254.4 387.6,257 385,257" fill="#ff8a8a" stroke="#ff8a8a" stroke-width="0.8" stroke-linejoin="miter"/>
<path d="M405,224.4 V237.5 M404,224.4 H406 M404,237.5 H406" stroke="#ff6262" stroke-width="0.7" fill="none"/>
<circle cx="405" cy="230.9" r="1.6" fill="#ff6262"/>
<path d="M426.5,228.5 V241.7 M425.5,228.5 H427.5 M425.5,241.7 H427.5" stroke="#ff3a3a" stroke-width="0.7" fill="none"/>
<polygon points="425,236.1 428,236.1 426.5,233.4" fill="#ff3a3a" stroke="#ff3a3a" stroke-width="0.8" stroke-linejoin="miter"/>
<path d="M446.6,259.8 V268.3 M445.6,259.8 H447.6 M445.6,268.3 H447.6" stroke="#f00000" stroke-width="0.7" fill="none"/>
<polygon points="445.1,262.9 448.1,262.9 446.6,265.6" fill="#f00000" stroke="#f00000" stroke-width="0.8" stroke-linejoin="miter"/>
<path d="M466.3,257.6 V264.6 M465.3,257.6 H467.3 M465.3,264.6 H467.3" stroke="#c8000a" stroke-width="0.7" fill="none"/>
<polygon points="466.3,259.4 467.8,260.9 466.3,262.4 464.8,260.9" fill="#c8000a" stroke="#c8000a" stroke-width="0.8" stroke-linejoin="miter"/>
<rect x="595.6" y="212.5" width="85.7" height="69.7" fill="#fff"/>
<line x1="595.6" y1="212.5" x2="595.6" y2="282.2" stroke="#6a6a6a" stroke-width="0.9"/>
<line x1="595.6" y1="282.2" x2="681.3" y2="282.2" stroke="#6a6a6a" stroke-width="0.9"/>
<line x1="681.3" y1="212.5" x2="681.3" y2="282.2" stroke="#6a6a6a" stroke-width="0.9"/>
<line x1="595.6" y1="212.8" x2="681.3" y2="212.8" stroke="#6a6a6a" stroke-width="0.9"/>
<line x1="593.6" y1="224.4" x2="595.6" y2="224.4" stroke="#444" stroke-width="0.8"/>
<text x="593.1" y="226.6" font-size="6.2" text-anchor="end" font-weight="normal" fill="#222">0.75</text>
<line x1="593.6" y1="247.7" x2="595.6" y2="247.7" stroke="#444" stroke-width="0.8"/>
<text x="593.1" y="249.9" font-size="6.2" text-anchor="end" font-weight="normal" fill="#222">0.70</text>
<line x1="593.6" y1="271" x2="595.6" y2="271" stroke="#444" stroke-width="0.8"/>
<text x="593.1" y="273.2" font-size="6.2" text-anchor="end" font-weight="normal" fill="#222">0.65</text>
<line x1="595.6" y1="236" x2="596.8" y2="236" stroke="#888" stroke-width="0.6"/>
<line x1="595.6" y1="259.3" x2="596.8" y2="259.3" stroke="#888" stroke-width="0.6"/>
<line x1="600.9" y1="282.2" x2="600.9" y2="284.2" stroke="#444" stroke-width="0.8"/>
<text x="600.7" y="290" font-size="6.2" text-anchor="middle" font-weight="normal" fill="#222">10</text>
<line x1="661.4" y1="282.2" x2="661.4" y2="284.2" stroke="#444" stroke-width="0.8"/>
<text x="662.2" y="290" font-size="6.2" text-anchor="middle" font-weight="normal" fill="#222">100</text>
<line x1="619.1" y1="282.2" x2="619.1" y2="283.4" stroke="#666" stroke-width="0.6"/>
<line x1="629.8" y1="282.2" x2="629.8" y2="283.4" stroke="#666" stroke-width="0.6"/>
<line x1="637.3" y1="282.2" x2="637.3" y2="283.4" stroke="#666" stroke-width="0.6"/>
<line x1="643.2" y1="282.2" x2="643.2" y2="283.4" stroke="#666" stroke-width="0.6"/>
<line x1="648" y1="282.2" x2="648" y2="283.4" stroke="#666" stroke-width="0.6"/>
<line x1="652" y1="282.2" x2="652" y2="283.4" stroke="#666" stroke-width="0.6"/>
<line x1="655.5" y1="282.2" x2="655.5" y2="283.4" stroke="#666" stroke-width="0.6"/>
<line x1="658.6" y1="282.2" x2="658.6" y2="283.4" stroke="#666" stroke-width="0.6"/>
<line x1="679.6" y1="282.2" x2="679.6" y2="283.4" stroke="#666" stroke-width="0.6"/>
<text x="0" y="0" font-size="12.5" font-weight="bold" text-anchor="middle" fill="#111" transform="translate(581.8,247.6) rotate(-90)">&lt;<tspan font-weight="normal" font-size="10.5">δ</tspan>&gt;</text>
<text x="626.2" y="294.8" font-size="12" font-family="Liberation Serif, serif" fill="#111">γ</text>
<text y="295.2" font-size="12" font-weight="bold" fill="#111"><tspan x="635.8">(s</tspan><tspan x="646.4" y="290.8" font-size="7.5">-1</tspan><tspan x="653.9" y="295.2">)</tspan></text>
<circle cx="629.3" cy="284.5" r="0.8" fill="#111"/>
<path d="M599.5,249.5 V262 M598.5,249.5 H600.5 M598.5,262 H600.5" stroke="#ff8a8a" stroke-width="0.7" fill="none"/>
<polygon points="598.2,254.4 600.8,254.4 600.8,257 598.2,257" fill="#fff"/>
<polygon points="598.2,255.7 600.8,255.7 600.8,257 598.2,257" fill="#ff8a8a"/>
<polygon points="598.2,254.4 600.8,254.4 600.8,257 598.2,257" fill="none" stroke="#ff8a8a" stroke-width="0.8" stroke-linejoin="miter"/>
<path d="M618.2,223 V237 M617.2,223 H619.2 M617.2,237 H619.2" stroke="#ff6262" stroke-width="0.7" fill="none"/>
<circle cx="618.2" cy="229.9" r="1.2" fill="#fff"/>
<path d="M617,229.9 A1.2,1.2 0 0 0 619.4,229.9 Z" fill="#ff6262"/>
<circle cx="618.2" cy="229.9" r="1.2" fill="none" stroke="#ff6262" stroke-width="0.8"/>
<path d="M639.6,222 V236.5 M638.6,222 H640.6 M638.6,236.5 H640.6" stroke="#ff3a3a" stroke-width="0.7" fill="none"/>
<polygon points="638.1,230.5 641.1,230.5 639.6,227.8" fill="#fff"/>
<polygon points="638.7,229.5 640.5,229.5 641.1,230.5 638.1,230.5" fill="#ff3a3a"/>
<polygon points="638.1,230.5 641.1,230.5 639.6,227.8" fill="none" stroke="#ff3a3a" stroke-width="0.8" stroke-linejoin="miter"/>
<path d="M659.6,228 V241 M658.6,228 H660.6 M658.6,241 H660.6" stroke="#f00000" stroke-width="0.7" fill="none"/>
<polygon points="658.1,233.5 661.1,233.5 659.6,236.2" fill="#fff"/>
<polygon points="658.9,234.8 660.3,234.8 659.6,236.2" fill="#f00000"/>
<polygon points="658.1,233.5 661.1,233.5 659.6,236.2" fill="none" stroke="#f00000" stroke-width="0.8" stroke-linejoin="miter"/>
<path d="M679.3,229.5 V241.5 M678.3,229.5 H680.3 M678.3,241.5 H680.3" stroke="#c8000a" stroke-width="0.7" fill="none"/>
<polygon points="679.3,233.8 680.8,235.3 679.3,236.8 677.8,235.3" fill="#fff"/>
<polygon points="677.8,235.3 680.8,235.3 679.3,236.8" fill="#c8000a"/>
<polygon points="679.3,233.8 680.8,235.3 679.3,236.8 677.8,235.3" fill="none" stroke="#c8000a" stroke-width="0.8" stroke-linejoin="miter"/>
<line x1="44.3" y1="0.5" x2="683.1" y2="0.5" stroke="#3a3a3a" stroke-width="1.1"/>
<line x1="45" y1="171" x2="682.9" y2="171" stroke="#2a2a2a" stroke-width="1.0"/>
<line x1="45" y1="0" x2="45" y2="171.5" stroke="#5a5a5a" stroke-width="1.35"/>
<line x1="257.6" y1="0" x2="257.6" y2="171.5" stroke="#5a5a5a" stroke-width="1.35"/>
<line x1="470" y1="0" x2="470" y2="171.5" stroke="#5a5a5a" stroke-width="1.35"/>
<line x1="682.4" y1="0" x2="682.4" y2="171.5" stroke="#5a5a5a" stroke-width="1.35"/>
<line x1="44.3" y1="212.5" x2="683.1" y2="212.5" stroke="#4a4a4a" stroke-width="1.1"/>
<line x1="45" y1="383.2" x2="682.9" y2="383.2" stroke="#2a2a2a" stroke-width="1.0"/>
<line x1="45" y1="212" x2="45" y2="383.7" stroke="#5a5a5a" stroke-width="1.35"/>
<line x1="257.6" y1="212" x2="257.6" y2="383.7" stroke="#5a5a5a" stroke-width="1.35"/>
<line x1="470" y1="212" x2="470" y2="383.7" stroke="#5a5a5a" stroke-width="1.35"/>
<line x1="682.4" y1="212" x2="682.4" y2="383.7" stroke="#5a5a5a" stroke-width="1.35"/>
<line x1="45" y1="171" x2="45" y2="174.5" stroke="#2a2a2a" stroke-width="1.0"/>
<line x1="56.5" y1="171" x2="56.5" y2="173" stroke="#2a2a2a" stroke-width="1.0"/>
<line x1="66.9" y1="171" x2="66.9" y2="173" stroke="#2a2a2a" stroke-width="1.0"/>
<line x1="76.4" y1="171" x2="76.4" y2="173" stroke="#2a2a2a" stroke-width="1.0"/>
<line x1="85.1" y1="171" x2="85.1" y2="173" stroke="#2a2a2a" stroke-width="1.0"/>
<line x1="93.2" y1="171" x2="93.2" y2="173" stroke="#2a2a2a" stroke-width="1.0"/>
<line x1="100.8" y1="171" x2="100.8" y2="173" stroke="#2a2a2a" stroke-width="1.0"/>
<line x1="107.8" y1="171" x2="107.8" y2="173" stroke="#2a2a2a" stroke-width="1.0"/>
<line x1="114.4" y1="171" x2="114.4" y2="173" stroke="#2a2a2a" stroke-width="1.0"/>
<line x1="120.7" y1="171" x2="120.7" y2="174.5" stroke="#2a2a2a" stroke-width="1.0"/>
<line x1="126.6" y1="171" x2="126.6" y2="173" stroke="#2a2a2a" stroke-width="1.0"/>
<line x1="132.2" y1="171" x2="132.2" y2="173" stroke="#2a2a2a" stroke-width="1.0"/>
<line x1="137.5" y1="171" x2="137.5" y2="173" stroke="#2a2a2a" stroke-width="1.0"/>
<line x1="142.6" y1="171" x2="142.6" y2="173" stroke="#2a2a2a" stroke-width="1.0"/>
<line x1="147.4" y1="171" x2="147.4" y2="173" stroke="#2a2a2a" stroke-width="1.0"/>
<line x1="152.1" y1="171" x2="152.1" y2="173" stroke="#2a2a2a" stroke-width="1.0"/>
<line x1="156.5" y1="171" x2="156.5" y2="173" stroke="#2a2a2a" stroke-width="1.0"/>
<line x1="160.8" y1="171" x2="160.8" y2="173" stroke="#2a2a2a" stroke-width="1.0"/>
<line x1="164.9" y1="171" x2="164.9" y2="174.5" stroke="#2a2a2a" stroke-width="1.0"/>
<line x1="168.9" y1="171" x2="168.9" y2="173" stroke="#2a2a2a" stroke-width="1.0"/>
<line x1="172.8" y1="171" x2="172.8" y2="173" stroke="#2a2a2a" stroke-width="1.0"/>
<line x1="176.5" y1="171" x2="176.5" y2="173" stroke="#2a2a2a" stroke-width="1.0"/>
<line x1="180" y1="171" x2="180" y2="173" stroke="#2a2a2a" stroke-width="1.0"/>
<line x1="183.5" y1="171" x2="183.5" y2="173" stroke="#2a2a2a" stroke-width="1.0"/>
<line x1="186.9" y1="171" x2="186.9" y2="173" stroke="#2a2a2a" stroke-width="1.0"/>
<line x1="190.1" y1="171" x2="190.1" y2="173" stroke="#2a2a2a" stroke-width="1.0"/>
<line x1="193.3" y1="171" x2="193.3" y2="173" stroke="#2a2a2a" stroke-width="1.0"/>
<line x1="196.4" y1="171" x2="196.4" y2="174.5" stroke="#2a2a2a" stroke-width="1.0"/>
<line x1="199.3" y1="171" x2="199.3" y2="173" stroke="#2a2a2a" stroke-width="1.0"/>
<line x1="202.3" y1="171" x2="202.3" y2="173" stroke="#2a2a2a" stroke-width="1.0"/>
<line x1="205.1" y1="171" x2="205.1" y2="173" stroke="#2a2a2a" stroke-width="1.0"/>
<line x1="207.9" y1="171" x2="207.9" y2="173" stroke="#2a2a2a" stroke-width="1.0"/>
<line x1="210.6" y1="171" x2="210.6" y2="173" stroke="#2a2a2a" stroke-width="1.0"/>
<line x1="213.2" y1="171" x2="213.2" y2="173" stroke="#2a2a2a" stroke-width="1.0"/>
<line x1="215.8" y1="171" x2="215.8" y2="173" stroke="#2a2a2a" stroke-width="1.0"/>
<line x1="218.3" y1="171" x2="218.3" y2="173" stroke="#2a2a2a" stroke-width="1.0"/>
<line x1="220.7" y1="171" x2="220.7" y2="174.5" stroke="#2a2a2a" stroke-width="1.0"/>
<line x1="223.1" y1="171" x2="223.1" y2="173" stroke="#2a2a2a" stroke-width="1.0"/>
<line x1="225.5" y1="171" x2="225.5" y2="173" stroke="#2a2a2a" stroke-width="1.0"/>
<line x1="227.8" y1="171" x2="227.8" y2="173" stroke="#2a2a2a" stroke-width="1.0"/>
<line x1="230" y1="171" x2="230" y2="173" stroke="#2a2a2a" stroke-width="1.0"/>
<line x1="232.2" y1="171" x2="232.2" y2="173" stroke="#2a2a2a" stroke-width="1.0"/>
<line x1="234.4" y1="171" x2="234.4" y2="173" stroke="#2a2a2a" stroke-width="1.0"/>
<line x1="236.5" y1="171" x2="236.5" y2="173" stroke="#2a2a2a" stroke-width="1.0"/>
<line x1="238.6" y1="171" x2="238.6" y2="173" stroke="#2a2a2a" stroke-width="1.0"/>
<line x1="240.6" y1="171" x2="240.6" y2="174.5" stroke="#2a2a2a" stroke-width="1.0"/>
<line x1="242.6" y1="171" x2="242.6" y2="173" stroke="#2a2a2a" stroke-width="1.0"/>
<line x1="244.6" y1="171" x2="244.6" y2="173" stroke="#2a2a2a" stroke-width="1.0"/>
<line x1="246.5" y1="171" x2="246.5" y2="173" stroke="#2a2a2a" stroke-width="1.0"/>
<line x1="248.4" y1="171" x2="248.4" y2="173" stroke="#2a2a2a" stroke-width="1.0"/>
<line x1="250.3" y1="171" x2="250.3" y2="173" stroke="#2a2a2a" stroke-width="1.0"/>
<line x1="252.1" y1="171" x2="252.1" y2="173" stroke="#2a2a2a" stroke-width="1.0"/>
<line x1="253.9" y1="171" x2="253.9" y2="173" stroke="#2a2a2a" stroke-width="1.0"/>
<line x1="255.7" y1="171" x2="255.7" y2="173" stroke="#2a2a2a" stroke-width="1.0"/>
<line x1="257.5" y1="171" x2="257.5" y2="174.5" stroke="#2a2a2a" stroke-width="1.0"/>
<line x1="41.5" y1="42.8" x2="45" y2="42.8" stroke="#2a2a2a" stroke-width="1.0"/>
<line x1="41.5" y1="149.6" x2="45" y2="149.6" stroke="#2a2a2a" stroke-width="1.0"/>
<line x1="43" y1="96.2" x2="45" y2="96.2" stroke="#2a2a2a" stroke-width="1.0"/>
<line x1="257.6" y1="171" x2="257.6" y2="174.5" stroke="#2a2a2a" stroke-width="1.0"/>
<line x1="269.1" y1="171" x2="269.1" y2="173" stroke="#2a2a2a" stroke-width="1.0"/>
<line x1="279.5" y1="171" x2="279.5" y2="173" stroke="#2a2a2a" stroke-width="1.0"/>
<line x1="289" y1="171" x2="289" y2="173" stroke="#2a2a2a" stroke-width="1.0"/>
<line x1="297.7" y1="171" x2="297.7" y2="173" stroke="#2a2a2a" stroke-width="1.0"/>
<line x1="305.8" y1="171" x2="305.8" y2="173" stroke="#2a2a2a" stroke-width="1.0"/>
<line x1="313.4" y1="171" x2="313.4" y2="173" stroke="#2a2a2a" stroke-width="1.0"/>
<line x1="320.4" y1="171" x2="320.4" y2="173" stroke="#2a2a2a" stroke-width="1.0"/>
<line x1="327" y1="171" x2="327" y2="173" stroke="#2a2a2a" stroke-width="1.0"/>
<line x1="333.3" y1="171" x2="333.3" y2="174.5" stroke="#2a2a2a" stroke-width="1.0"/>
<line x1="339.2" y1="171" x2="339.2" y2="173" stroke="#2a2a2a" stroke-width="1.0"/>
<line x1="344.8" y1="171" x2="344.8" y2="173" stroke="#2a2a2a" stroke-width="1.0"/>
<line x1="350.1" y1="171" x2="350.1" y2="173" stroke="#2a2a2a" stroke-width="1.0"/>
<line x1="355.2" y1="171" x2="355.2" y2="173" stroke="#2a2a2a" stroke-width="1.0"/>
<line x1="360" y1="171" x2="360" y2="173" stroke="#2a2a2a" stroke-width="1.0"/>
<line x1="364.7" y1="171" x2="364.7" y2="173" stroke="#2a2a2a" stroke-width="1.0"/>
<line x1="369.1" y1="171" x2="369.1" y2="173" stroke="#2a2a2a" stroke-width="1.0"/>
<line x1="373.4" y1="171" x2="373.4" y2="173" stroke="#2a2a2a" stroke-width="1.0"/>
<line x1="377.5" y1="171" x2="377.5" y2="174.5" stroke="#2a2a2a" stroke-width="1.0"/>
<line x1="381.5" y1="171" x2="381.5" y2="173" stroke="#2a2a2a" stroke-width="1.0"/>
<line x1="385.4" y1="171" x2="385.4" y2="173" stroke="#2a2a2a" stroke-width="1.0"/>
<line x1="389.1" y1="171" x2="389.1" y2="173" stroke="#2a2a2a" stroke-width="1.0"/>
<line x1="392.6" y1="171" x2="392.6" y2="173" stroke="#2a2a2a" stroke-width="1.0"/>
<line x1="396.1" y1="171" x2="396.1" y2="173" stroke="#2a2a2a" stroke-width="1.0"/>
<line x1="399.5" y1="171" x2="399.5" y2="173" stroke="#2a2a2a" stroke-width="1.0"/>
<line x1="402.7" y1="171" x2="402.7" y2="173" stroke="#2a2a2a" stroke-width="1.0"/>
<line x1="405.9" y1="171" x2="405.9" y2="173" stroke="#2a2a2a" stroke-width="1.0"/>
<line x1="409" y1="171" x2="409" y2="174.5" stroke="#2a2a2a" stroke-width="1.0"/>
<line x1="411.9" y1="171" x2="411.9" y2="173" stroke="#2a2a2a" stroke-width="1.0"/>
<line x1="414.9" y1="171" x2="414.9" y2="173" stroke="#2a2a2a" stroke-width="1.0"/>
<line x1="417.7" y1="171" x2="417.7" y2="173" stroke="#2a2a2a" stroke-width="1.0"/>
<line x1="420.5" y1="171" x2="420.5" y2="173" stroke="#2a2a2a" stroke-width="1.0"/>
<line x1="423.2" y1="171" x2="423.2" y2="173" stroke="#2a2a2a" stroke-width="1.0"/>
<line x1="425.8" y1="171" x2="425.8" y2="173" stroke="#2a2a2a" stroke-width="1.0"/>
<line x1="428.4" y1="171" x2="428.4" y2="173" stroke="#2a2a2a" stroke-width="1.0"/>
<line x1="430.9" y1="171" x2="430.9" y2="173" stroke="#2a2a2a" stroke-width="1.0"/>
<line x1="433.3" y1="171" x2="433.3" y2="174.5" stroke="#2a2a2a" stroke-width="1.0"/>
<line x1="435.7" y1="171" x2="435.7" y2="173" stroke="#2a2a2a" stroke-width="1.0"/>
<line x1="438.1" y1="171" x2="438.1" y2="173" stroke="#2a2a2a" stroke-width="1.0"/>
<line x1="440.4" y1="171" x2="440.4" y2="173" stroke="#2a2a2a" stroke-width="1.0"/>
<line x1="442.6" y1="171" x2="442.6" y2="173" stroke="#2a2a2a" stroke-width="1.0"/>
<line x1="444.8" y1="171" x2="444.8" y2="173" stroke="#2a2a2a" stroke-width="1.0"/>
<line x1="447" y1="171" x2="447" y2="173" stroke="#2a2a2a" stroke-width="1.0"/>
<line x1="449.1" y1="171" x2="449.1" y2="173" stroke="#2a2a2a" stroke-width="1.0"/>
<line x1="451.2" y1="171" x2="451.2" y2="173" stroke="#2a2a2a" stroke-width="1.0"/>
<line x1="453.2" y1="171" x2="453.2" y2="174.5" stroke="#2a2a2a" stroke-width="1.0"/>
<line x1="455.2" y1="171" x2="455.2" y2="173" stroke="#2a2a2a" stroke-width="1.0"/>
<line x1="457.2" y1="171" x2="457.2" y2="173" stroke="#2a2a2a" stroke-width="1.0"/>
<line x1="459.1" y1="171" x2="459.1" y2="173" stroke="#2a2a2a" stroke-width="1.0"/>
<line x1="461" y1="171" x2="461" y2="173" stroke="#2a2a2a" stroke-width="1.0"/>
<line x1="462.9" y1="171" x2="462.9" y2="173" stroke="#2a2a2a" stroke-width="1.0"/>
<line x1="464.7" y1="171" x2="464.7" y2="173" stroke="#2a2a2a" stroke-width="1.0"/>
<line x1="466.5" y1="171" x2="466.5" y2="173" stroke="#2a2a2a" stroke-width="1.0"/>
<line x1="468.3" y1="171" x2="468.3" y2="173" stroke="#2a2a2a" stroke-width="1.0"/>
<line x1="470.1" y1="171" x2="470.1" y2="174.5" stroke="#2a2a2a" stroke-width="1.0"/>
<line x1="254.1" y1="42.8" x2="257.6" y2="42.8" stroke="#2a2a2a" stroke-width="1.0"/>
<line x1="254.1" y1="149.6" x2="257.6" y2="149.6" stroke="#2a2a2a" stroke-width="1.0"/>
<line x1="255.6" y1="96.2" x2="257.6" y2="96.2" stroke="#2a2a2a" stroke-width="1.0"/>
<line x1="470" y1="171" x2="470" y2="174.5" stroke="#2a2a2a" stroke-width="1.0"/>
<line x1="481.5" y1="171" x2="481.5" y2="173" stroke="#2a2a2a" stroke-width="1.0"/>
<line x1="491.9" y1="171" x2="491.9" y2="173" stroke="#2a2a2a" stroke-width="1.0"/>
<line x1="501.4" y1="171" x2="501.4" y2="173" stroke="#2a2a2a" stroke-width="1.0"/>
<line x1="510.1" y1="171" x2="510.1" y2="173" stroke="#2a2a2a" stroke-width="1.0"/>
<line x1="518.2" y1="171" x2="518.2" y2="173" stroke="#2a2a2a" stroke-width="1.0"/>
<line x1="525.8" y1="171" x2="525.8" y2="173" stroke="#2a2a2a" stroke-width="1.0"/>
<line x1="532.8" y1="171" x2="532.8" y2="173" stroke="#2a2a2a" stroke-width="1.0"/>
<line x1="539.4" y1="171" x2="539.4" y2="173" stroke="#2a2a2a" stroke-width="1.0"/>
<line x1="545.7" y1="171" x2="545.7" y2="174.5" stroke="#2a2a2a" stroke-width="1.0"/>
<line x1="551.6" y1="171" x2="551.6" y2="173" stroke="#2a2a2a" stroke-width="1.0"/>
<line x1="557.2" y1="171" x2="557.2" y2="173" stroke="#2a2a2a" stroke-width="1.0"/>
<line x1="562.5" y1="171" x2="562.5" y2="173" stroke="#2a2a2a" stroke-width="1.0"/>
<line x1="567.6" y1="171" x2="567.6" y2="173" stroke="#2a2a2a" stroke-width="1.0"/>
<line x1="572.4" y1="171" x2="572.4" y2="173" stroke="#2a2a2a" stroke-width="1.0"/>
<line x1="577.1" y1="171" x2="577.1" y2="173" stroke="#2a2a2a" stroke-width="1.0"/>
<line x1="581.5" y1="171" x2="581.5" y2="173" stroke="#2a2a2a" stroke-width="1.0"/>
<line x1="585.8" y1="171" x2="585.8" y2="173" stroke="#2a2a2a" stroke-width="1.0"/>
<line x1="589.9" y1="171" x2="589.9" y2="174.5" stroke="#2a2a2a" stroke-width="1.0"/>
<line x1="593.9" y1="171" x2="593.9" y2="173" stroke="#2a2a2a" stroke-width="1.0"/>
<line x1="597.8" y1="171" x2="597.8" y2="173" stroke="#2a2a2a" stroke-width="1.0"/>
<line x1="601.5" y1="171" x2="601.5" y2="173" stroke="#2a2a2a" stroke-width="1.0"/>
<line x1="605" y1="171" x2="605" y2="173" stroke="#2a2a2a" stroke-width="1.0"/>
<line x1="608.5" y1="171" x2="608.5" y2="173" stroke="#2a2a2a" stroke-width="1.0"/>
<line x1="611.9" y1="171" x2="611.9" y2="173" stroke="#2a2a2a" stroke-width="1.0"/>
<line x1="615.1" y1="171" x2="615.1" y2="173" stroke="#2a2a2a" stroke-width="1.0"/>
<line x1="618.3" y1="171" x2="618.3" y2="173" stroke="#2a2a2a" stroke-width="1.0"/>
<line x1="621.4" y1="171" x2="621.4" y2="174.5" stroke="#2a2a2a" stroke-width="1.0"/>
<line x1="624.3" y1="171" x2="624.3" y2="173" stroke="#2a2a2a" stroke-width="1.0"/>
<line x1="627.3" y1="171" x2="627.3" y2="173" stroke="#2a2a2a" stroke-width="1.0"/>
<line x1="630.1" y1="171" x2="630.1" y2="173" stroke="#2a2a2a" stroke-width="1.0"/>
<line x1="632.9" y1="171" x2="632.9" y2="173" stroke="#2a2a2a" stroke-width="1.0"/>
<line x1="635.6" y1="171" x2="635.6" y2="173" stroke="#2a2a2a" stroke-width="1.0"/>
<line x1="638.2" y1="171" x2="638.2" y2="173" stroke="#2a2a2a" stroke-width="1.0"/>
<line x1="640.8" y1="171" x2="640.8" y2="173" stroke="#2a2a2a" stroke-width="1.0"/>
<line x1="643.3" y1="171" x2="643.3" y2="173" stroke="#2a2a2a" stroke-width="1.0"/>
<line x1="645.7" y1="171" x2="645.7" y2="174.5" stroke="#2a2a2a" stroke-width="1.0"/>
<line x1="648.1" y1="171" x2="648.1" y2="173" stroke="#2a2a2a" stroke-width="1.0"/>
<line x1="650.5" y1="171" x2="650.5" y2="173" stroke="#2a2a2a" stroke-width="1.0"/>
<line x1="652.8" y1="171" x2="652.8" y2="173" stroke="#2a2a2a" stroke-width="1.0"/>
<line x1="655" y1="171" x2="655" y2="173" stroke="#2a2a2a" stroke-width="1.0"/>
<line x1="657.2" y1="171" x2="657.2" y2="173" stroke="#2a2a2a" stroke-width="1.0"/>
<line x1="659.4" y1="171" x2="659.4" y2="173" stroke="#2a2a2a" stroke-width="1.0"/>
<line x1="661.5" y1="171" x2="661.5" y2="173" stroke="#2a2a2a" stroke-width="1.0"/>
<line x1="663.6" y1="171" x2="663.6" y2="173" stroke="#2a2a2a" stroke-width="1.0"/>
<line x1="665.6" y1="171" x2="665.6" y2="174.5" stroke="#2a2a2a" stroke-width="1.0"/>
<line x1="667.6" y1="171" x2="667.6" y2="173" stroke="#2a2a2a" stroke-width="1.0"/>
<line x1="669.6" y1="171" x2="669.6" y2="173" stroke="#2a2a2a" stroke-width="1.0"/>
<line x1="671.5" y1="171" x2="671.5" y2="173" stroke="#2a2a2a" stroke-width="1.0"/>
<line x1="673.4" y1="171" x2="673.4" y2="173" stroke="#2a2a2a" stroke-width="1.0"/>
<line x1="675.3" y1="171" x2="675.3" y2="173" stroke="#2a2a2a" stroke-width="1.0"/>
<line x1="677.1" y1="171" x2="677.1" y2="173" stroke="#2a2a2a" stroke-width="1.0"/>
<line x1="678.9" y1="171" x2="678.9" y2="173" stroke="#2a2a2a" stroke-width="1.0"/>
<line x1="680.7" y1="171" x2="680.7" y2="173" stroke="#2a2a2a" stroke-width="1.0"/>
<line x1="682.5" y1="171" x2="682.5" y2="174.5" stroke="#2a2a2a" stroke-width="1.0"/>
<line x1="466.5" y1="42.8" x2="470" y2="42.8" stroke="#2a2a2a" stroke-width="1.0"/>
<line x1="466.5" y1="149.6" x2="470" y2="149.6" stroke="#2a2a2a" stroke-width="1.0"/>
<line x1="468" y1="96.2" x2="470" y2="96.2" stroke="#2a2a2a" stroke-width="1.0"/>
<line x1="45" y1="383.2" x2="45" y2="386.7" stroke="#2a2a2a" stroke-width="1.0"/>
<line x1="56.5" y1="383.2" x2="56.5" y2="385.2" stroke="#2a2a2a" stroke-width="1.0"/>
<line x1="66.9" y1="383.2" x2="66.9" y2="385.2" stroke="#2a2a2a" stroke-width="1.0"/>
<line x1="76.4" y1="383.2" x2="76.4" y2="385.2" stroke="#2a2a2a" stroke-width="1.0"/>
<line x1="85.1" y1="383.2" x2="85.1" y2="385.2" stroke="#2a2a2a" stroke-width="1.0"/>
<line x1="93.2" y1="383.2" x2="93.2" y2="385.2" stroke="#2a2a2a" stroke-width="1.0"/>
<line x1="100.8" y1="383.2" x2="100.8" y2="385.2" stroke="#2a2a2a" stroke-width="1.0"/>
<line x1="107.8" y1="383.2" x2="107.8" y2="385.2" stroke="#2a2a2a" stroke-width="1.0"/>
<line x1="114.4" y1="383.2" x2="114.4" y2="385.2" stroke="#2a2a2a" stroke-width="1.0"/>
<line x1="120.7" y1="383.2" x2="120.7" y2="386.7" stroke="#2a2a2a" stroke-width="1.0"/>
<line x1="126.6" y1="383.2" x2="126.6" y2="385.2" stroke="#2a2a2a" stroke-width="1.0"/>
<line x1="132.2" y1="383.2" x2="132.2" y2="385.2" stroke="#2a2a2a" stroke-width="1.0"/>
<line x1="137.5" y1="383.2" x2="137.5" y2="385.2" stroke="#2a2a2a" stroke-width="1.0"/>
<line x1="142.6" y1="383.2" x2="142.6" y2="385.2" stroke="#2a2a2a" stroke-width="1.0"/>
<line x1="147.4" y1="383.2" x2="147.4" y2="385.2" stroke="#2a2a2a" stroke-width="1.0"/>
<line x1="152.1" y1="383.2" x2="152.1" y2="385.2" stroke="#2a2a2a" stroke-width="1.0"/>
<line x1="156.5" y1="383.2" x2="156.5" y2="385.2" stroke="#2a2a2a" stroke-width="1.0"/>
<line x1="160.8" y1="383.2" x2="160.8" y2="385.2" stroke="#2a2a2a" stroke-width="1.0"/>
<line x1="164.9" y1="383.2" x2="164.9" y2="386.7" stroke="#2a2a2a" stroke-width="1.0"/>
<line x1="168.9" y1="383.2" x2="168.9" y2="385.2" stroke="#2a2a2a" stroke-width="1.0"/>
<line x1="172.8" y1="383.2" x2="172.8" y2="385.2" stroke="#2a2a2a" stroke-width="1.0"/>
<line x1="176.5" y1="383.2" x2="176.5" y2="385.2" stroke="#2a2a2a" stroke-width="1.0"/>
<line x1="180" y1="383.2" x2="180" y2="385.2" stroke="#2a2a2a" stroke-width="1.0"/>
<line x1="183.5" y1="383.2" x2="183.5" y2="385.2" stroke="#2a2a2a" stroke-width="1.0"/>
<line x1="186.9" y1="383.2" x2="186.9" y2="385.2" stroke="#2a2a2a" stroke-width="1.0"/>
<line x1="190.1" y1="383.2" x2="190.1" y2="385.2" stroke="#2a2a2a" stroke-width="1.0"/>
<line x1="193.3" y1="383.2" x2="193.3" y2="385.2" stroke="#2a2a2a" stroke-width="1.0"/>
<line x1="196.4" y1="383.2" x2="196.4" y2="386.7" stroke="#2a2a2a" stroke-width="1.0"/>
<line x1="199.3" y1="383.2" x2="199.3" y2="385.2" stroke="#2a2a2a" stroke-width="1.0"/>
<line x1="202.3" y1="383.2" x2="202.3" y2="385.2" stroke="#2a2a2a" stroke-width="1.0"/>
<line x1="205.1" y1="383.2" x2="205.1" y2="385.2" stroke="#2a2a2a" stroke-width="1.0"/>
<line x1="207.9" y1="383.2" x2="207.9" y2="385.2" stroke="#2a2a2a" stroke-width="1.0"/>
<line x1="210.6" y1="383.2" x2="210.6" y2="385.2" stroke="#2a2a2a" stroke-width="1.0"/>
<line x1="213.2" y1="383.2" x2="213.2" y2="385.2" stroke="#2a2a2a" stroke-width="1.0"/>
<line x1="215.8" y1="383.2" x2="215.8" y2="385.2" stroke="#2a2a2a" stroke-width="1.0"/>
<line x1="218.3" y1="383.2" x2="218.3" y2="385.2" stroke="#2a2a2a" stroke-width="1.0"/>
<line x1="220.7" y1="383.2" x2="220.7" y2="386.7" stroke="#2a2a2a" stroke-width="1.0"/>
<line x1="223.1" y1="383.2" x2="223.1" y2="385.2" stroke="#2a2a2a" stroke-width="1.0"/>
<line x1="225.5" y1="383.2" x2="225.5" y2="385.2" stroke="#2a2a2a" stroke-width="1.0"/>
<line x1="227.8" y1="383.2" x2="227.8" y2="385.2" stroke="#2a2a2a" stroke-width="1.0"/>
<line x1="230" y1="383.2" x2="230" y2="385.2" stroke="#2a2a2a" stroke-width="1.0"/>
<line x1="232.2" y1="383.2" x2="232.2" y2="385.2" stroke="#2a2a2a" stroke-width="1.0"/>
<line x1="234.4" y1="383.2" x2="234.4" y2="385.2" stroke="#2a2a2a" stroke-width="1.0"/>
<line x1="236.5" y1="383.2" x2="236.5" y2="385.2" stroke="#2a2a2a" stroke-width="1.0"/>
<line x1="238.6" y1="383.2" x2="238.6" y2="385.2" stroke="#2a2a2a" stroke-width="1.0"/>
<line x1="240.6" y1="383.2" x2="240.6" y2="386.7" stroke="#2a2a2a" stroke-width="1.0"/>
<line x1="242.6" y1="383.2" x2="242.6" y2="385.2" stroke="#2a2a2a" stroke-width="1.0"/>
<line x1="244.6" y1="383.2" x2="244.6" y2="385.2" stroke="#2a2a2a" stroke-width="1.0"/>
<line x1="246.5" y1="383.2" x2="246.5" y2="385.2" stroke="#2a2a2a" stroke-width="1.0"/>
<line x1="248.4" y1="383.2" x2="248.4" y2="385.2" stroke="#2a2a2a" stroke-width="1.0"/>
<line x1="250.3" y1="383.2" x2="250.3" y2="385.2" stroke="#2a2a2a" stroke-width="1.0"/>
<line x1="252.1" y1="383.2" x2="252.1" y2="385.2" stroke="#2a2a2a" stroke-width="1.0"/>
<line x1="253.9" y1="383.2" x2="253.9" y2="385.2" stroke="#2a2a2a" stroke-width="1.0"/>
<line x1="255.7" y1="383.2" x2="255.7" y2="385.2" stroke="#2a2a2a" stroke-width="1.0"/>
<line x1="257.5" y1="383.2" x2="257.5" y2="386.7" stroke="#2a2a2a" stroke-width="1.0"/>
<line x1="41.5" y1="254.8" x2="45" y2="254.8" stroke="#2a2a2a" stroke-width="1.0"/>
<line x1="41.5" y1="361.6" x2="45" y2="361.6" stroke="#2a2a2a" stroke-width="1.0"/>
<line x1="43" y1="308.2" x2="45" y2="308.2" stroke="#2a2a2a" stroke-width="1.0"/>
<line x1="257.6" y1="383.2" x2="257.6" y2="386.7" stroke="#2a2a2a" stroke-width="1.0"/>
<line x1="269.1" y1="383.2" x2="269.1" y2="385.2" stroke="#2a2a2a" stroke-width="1.0"/>
<line x1="279.5" y1="383.2" x2="279.5" y2="385.2" stroke="#2a2a2a" stroke-width="1.0"/>
<line x1="289" y1="383.2" x2="289" y2="385.2" stroke="#2a2a2a" stroke-width="1.0"/>
<line x1="297.7" y1="383.2" x2="297.7" y2="385.2" stroke="#2a2a2a" stroke-width="1.0"/>
<line x1="305.8" y1="383.2" x2="305.8" y2="385.2" stroke="#2a2a2a" stroke-width="1.0"/>
<line x1="313.4" y1="383.2" x2="313.4" y2="385.2" stroke="#2a2a2a" stroke-width="1.0"/>
<line x1="320.4" y1="383.2" x2="320.4" y2="385.2" stroke="#2a2a2a" stroke-width="1.0"/>
<line x1="327" y1="383.2" x2="327" y2="385.2" stroke="#2a2a2a" stroke-width="1.0"/>
<line x1="333.3" y1="383.2" x2="333.3" y2="386.7" stroke="#2a2a2a" stroke-width="1.0"/>
<line x1="339.2" y1="383.2" x2="339.2" y2="385.2" stroke="#2a2a2a" stroke-width="1.0"/>
<line x1="344.8" y1="383.2" x2="344.8" y2="385.2" stroke="#2a2a2a" stroke-width="1.0"/>
<line x1="350.1" y1="383.2" x2="350.1" y2="385.2" stroke="#2a2a2a" stroke-width="1.0"/>
<line x1="355.2" y1="383.2" x2="355.2" y2="385.2" stroke="#2a2a2a" stroke-width="1.0"/>
<line x1="360" y1="383.2" x2="360" y2="385.2" stroke="#2a2a2a" stroke-width="1.0"/>
<line x1="364.7" y1="383.2" x2="364.7" y2="385.2" stroke="#2a2a2a" stroke-width="1.0"/>
<line x1="369.1" y1="383.2" x2="369.1" y2="385.2" stroke="#2a2a2a" stroke-width="1.0"/>
<line x1="373.4" y1="383.2" x2="373.4" y2="385.2" stroke="#2a2a2a" stroke-width="1.0"/>
<line x1="377.5" y1="383.2" x2="377.5" y2="386.7" stroke="#2a2a2a" stroke-width="1.0"/>
<line x1="381.5" y1="383.2" x2="381.5" y2="385.2" stroke="#2a2a2a" stroke-width="1.0"/>
<line x1="385.4" y1="383.2" x2="385.4" y2="385.2" stroke="#2a2a2a" stroke-width="1.0"/>
<line x1="389.1" y1="383.2" x2="389.1" y2="385.2" stroke="#2a2a2a" stroke-width="1.0"/>
<line x1="392.6" y1="383.2" x2="392.6" y2="385.2" stroke="#2a2a2a" stroke-width="1.0"/>
<line x1="396.1" y1="383.2" x2="396.1" y2="385.2" stroke="#2a2a2a" stroke-width="1.0"/>
<line x1="399.5" y1="383.2" x2="399.5" y2="385.2" stroke="#2a2a2a" stroke-width="1.0"/>
<line x1="402.7" y1="383.2" x2="402.7" y2="385.2" stroke="#2a2a2a" stroke-width="1.0"/>
<line x1="405.9" y1="383.2" x2="405.9" y2="385.2" stroke="#2a2a2a" stroke-width="1.0"/>
<line x1="409" y1="383.2" x2="409" y2="386.7" stroke="#2a2a2a" stroke-width="1.0"/>
<line x1="411.9" y1="383.2" x2="411.9" y2="385.2" stroke="#2a2a2a" stroke-width="1.0"/>
<line x1="414.9" y1="383.2" x2="414.9" y2="385.2" stroke="#2a2a2a" stroke-width="1.0"/>
<line x1="417.7" y1="383.2" x2="417.7" y2="385.2" stroke="#2a2a2a" stroke-width="1.0"/>
<line x1="420.5" y1="383.2" x2="420.5" y2="385.2" stroke="#2a2a2a" stroke-width="1.0"/>
<line x1="423.2" y1="383.2" x2="423.2" y2="385.2" stroke="#2a2a2a" stroke-width="1.0"/>
<line x1="425.8" y1="383.2" x2="425.8" y2="385.2" stroke="#2a2a2a" stroke-width="1.0"/>
<line x1="428.4" y1="383.2" x2="428.4" y2="385.2" stroke="#2a2a2a" stroke-width="1.0"/>
<line x1="430.9" y1="383.2" x2="430.9" y2="385.2" stroke="#2a2a2a" stroke-width="1.0"/>
<line x1="433.3" y1="383.2" x2="433.3" y2="386.7" stroke="#2a2a2a" stroke-width="1.0"/>
<line x1="435.7" y1="383.2" x2="435.7" y2="385.2" stroke="#2a2a2a" stroke-width="1.0"/>
<line x1="438.1" y1="383.2" x2="438.1" y2="385.2" stroke="#2a2a2a" stroke-width="1.0"/>
<line x1="440.4" y1="383.2" x2="440.4" y2="385.2" stroke="#2a2a2a" stroke-width="1.0"/>
<line x1="442.6" y1="383.2" x2="442.6" y2="385.2" stroke="#2a2a2a" stroke-width="1.0"/>
<line x1="444.8" y1="383.2" x2="444.8" y2="385.2" stroke="#2a2a2a" stroke-width="1.0"/>
<line x1="447" y1="383.2" x2="447" y2="385.2" stroke="#2a2a2a" stroke-width="1.0"/>
<line x1="449.1" y1="383.2" x2="449.1" y2="385.2" stroke="#2a2a2a" stroke-width="1.0"/>
<line x1="451.2" y1="383.2" x2="451.2" y2="385.2" stroke="#2a2a2a" stroke-width="1.0"/>
<line x1="453.2" y1="383.2" x2="453.2" y2="386.7" stroke="#2a2a2a" stroke-width="1.0"/>
<line x1="455.2" y1="383.2" x2="455.2" y2="385.2" stroke="#2a2a2a" stroke-width="1.0"/>
<line x1="457.2" y1="383.2" x2="457.2" y2="385.2" stroke="#2a2a2a" stroke-width="1.0"/>
<line x1="459.1" y1="383.2" x2="459.1" y2="385.2" stroke="#2a2a2a" stroke-width="1.0"/>
<line x1="461" y1="383.2" x2="461" y2="385.2" stroke="#2a2a2a" stroke-width="1.0"/>
<line x1="462.9" y1="383.2" x2="462.9" y2="385.2" stroke="#2a2a2a" stroke-width="1.0"/>
<line x1="464.7" y1="383.2" x2="464.7" y2="385.2" stroke="#2a2a2a" stroke-width="1.0"/>
<line x1="466.5" y1="383.2" x2="466.5" y2="385.2" stroke="#2a2a2a" stroke-width="1.0"/>
<line x1="468.3" y1="383.2" x2="468.3" y2="385.2" stroke="#2a2a2a" stroke-width="1.0"/>
<line x1="470.1" y1="383.2" x2="470.1" y2="386.7" stroke="#2a2a2a" stroke-width="1.0"/>
<line x1="254.1" y1="254.8" x2="257.6" y2="254.8" stroke="#2a2a2a" stroke-width="1.0"/>
<line x1="254.1" y1="361.6" x2="257.6" y2="361.6" stroke="#2a2a2a" stroke-width="1.0"/>
<line x1="255.6" y1="308.2" x2="257.6" y2="308.2" stroke="#2a2a2a" stroke-width="1.0"/>
<line x1="470" y1="383.2" x2="470" y2="386.7" stroke="#2a2a2a" stroke-width="1.0"/>
<line x1="481.5" y1="383.2" x2="481.5" y2="385.2" stroke="#2a2a2a" stroke-width="1.0"/>
<line x1="491.9" y1="383.2" x2="491.9" y2="385.2" stroke="#2a2a2a" stroke-width="1.0"/>
<line x1="501.4" y1="383.2" x2="501.4" y2="385.2" stroke="#2a2a2a" stroke-width="1.0"/>
<line x1="510.1" y1="383.2" x2="510.1" y2="385.2" stroke="#2a2a2a" stroke-width="1.0"/>
<line x1="518.2" y1="383.2" x2="518.2" y2="385.2" stroke="#2a2a2a" stroke-width="1.0"/>
<line x1="525.8" y1="383.2" x2="525.8" y2="385.2" stroke="#2a2a2a" stroke-width="1.0"/>
<line x1="532.8" y1="383.2" x2="532.8" y2="385.2" stroke="#2a2a2a" stroke-width="1.0"/>
<line x1="539.4" y1="383.2" x2="539.4" y2="385.2" stroke="#2a2a2a" stroke-width="1.0"/>
<line x1="545.7" y1="383.2" x2="545.7" y2="386.7" stroke="#2a2a2a" stroke-width="1.0"/>
<line x1="551.6" y1="383.2" x2="551.6" y2="385.2" stroke="#2a2a2a" stroke-width="1.0"/>
<line x1="557.2" y1="383.2" x2="557.2" y2="385.2" stroke="#2a2a2a" stroke-width="1.0"/>
<line x1="562.5" y1="383.2" x2="562.5" y2="385.2" stroke="#2a2a2a" stroke-width="1.0"/>
<line x1="567.6" y1="383.2" x2="567.6" y2="385.2" stroke="#2a2a2a" stroke-width="1.0"/>
<line x1="572.4" y1="383.2" x2="572.4" y2="385.2" stroke="#2a2a2a" stroke-width="1.0"/>
<line x1="577.1" y1="383.2" x2="577.1" y2="385.2" stroke="#2a2a2a" stroke-width="1.0"/>
<line x1="581.5" y1="383.2" x2="581.5" y2="385.2" stroke="#2a2a2a" stroke-width="1.0"/>
<line x1="585.8" y1="383.2" x2="585.8" y2="385.2" stroke="#2a2a2a" stroke-width="1.0"/>
<line x1="589.9" y1="383.2" x2="589.9" y2="386.7" stroke="#2a2a2a" stroke-width="1.0"/>
<line x1="593.9" y1="383.2" x2="593.9" y2="385.2" stroke="#2a2a2a" stroke-width="1.0"/>
<line x1="597.8" y1="383.2" x2="597.8" y2="385.2" stroke="#2a2a2a" stroke-width="1.0"/>
<line x1="601.5" y1="383.2" x2="601.5" y2="385.2" stroke="#2a2a2a" stroke-width="1.0"/>
<line x1="605" y1="383.2" x2="605" y2="385.2" stroke="#2a2a2a" stroke-width="1.0"/>
<line x1="608.5" y1="383.2" x2="608.5" y2="385.2" stroke="#2a2a2a" stroke-width="1.0"/>
<line x1="611.9" y1="383.2" x2="611.9" y2="385.2" stroke="#2a2a2a" stroke-width="1.0"/>
<line x1="615.1" y1="383.2" x2="615.1" y2="385.2" stroke="#2a2a2a" stroke-width="1.0"/>
<line x1="618.3" y1="383.2" x2="618.3" y2="385.2" stroke="#2a2a2a" stroke-width="1.0"/>
<line x1="621.4" y1="383.2" x2="621.4" y2="386.7" stroke="#2a2a2a" stroke-width="1.0"/>
<line x1="624.3" y1="383.2" x2="624.3" y2="385.2" stroke="#2a2a2a" stroke-width="1.0"/>
<line x1="627.3" y1="383.2" x2="627.3" y2="385.2" stroke="#2a2a2a" stroke-width="1.0"/>
<line x1="630.1" y1="383.2" x2="630.1" y2="385.2" stroke="#2a2a2a" stroke-width="1.0"/>
<line x1="632.9" y1="383.2" x2="632.9" y2="385.2" stroke="#2a2a2a" stroke-width="1.0"/>
<line x1="635.6" y1="383.2" x2="635.6" y2="385.2" stroke="#2a2a2a" stroke-width="1.0"/>
<line x1="638.2" y1="383.2" x2="638.2" y2="385.2" stroke="#2a2a2a" stroke-width="1.0"/>
<line x1="640.8" y1="383.2" x2="640.8" y2="385.2" stroke="#2a2a2a" stroke-width="1.0"/>
<line x1="643.3" y1="383.2" x2="643.3" y2="385.2" stroke="#2a2a2a" stroke-width="1.0"/>
<line x1="645.7" y1="383.2" x2="645.7" y2="386.7" stroke="#2a2a2a" stroke-width="1.0"/>
<line x1="648.1" y1="383.2" x2="648.1" y2="385.2" stroke="#2a2a2a" stroke-width="1.0"/>
<line x1="650.5" y1="383.2" x2="650.5" y2="385.2" stroke="#2a2a2a" stroke-width="1.0"/>
<line x1="652.8" y1="383.2" x2="652.8" y2="385.2" stroke="#2a2a2a" stroke-width="1.0"/>
<line x1="655" y1="383.2" x2="655" y2="385.2" stroke="#2a2a2a" stroke-width="1.0"/>
<line x1="657.2" y1="383.2" x2="657.2" y2="385.2" stroke="#2a2a2a" stroke-width="1.0"/>
<line x1="659.4" y1="383.2" x2="659.4" y2="385.2" stroke="#2a2a2a" stroke-width="1.0"/>
<line x1="661.5" y1="383.2" x2="661.5" y2="385.2" stroke="#2a2a2a" stroke-width="1.0"/>
<line x1="663.6" y1="383.2" x2="663.6" y2="385.2" stroke="#2a2a2a" stroke-width="1.0"/>
<line x1="665.6" y1="383.2" x2="665.6" y2="386.7" stroke="#2a2a2a" stroke-width="1.0"/>
<line x1="667.6" y1="383.2" x2="667.6" y2="385.2" stroke="#2a2a2a" stroke-width="1.0"/>
<line x1="669.6" y1="383.2" x2="669.6" y2="385.2" stroke="#2a2a2a" stroke-width="1.0"/>
<line x1="671.5" y1="383.2" x2="671.5" y2="385.2" stroke="#2a2a2a" stroke-width="1.0"/>
<line x1="673.4" y1="383.2" x2="673.4" y2="385.2" stroke="#2a2a2a" stroke-width="1.0"/>
<line x1="675.3" y1="383.2" x2="675.3" y2="385.2" stroke="#2a2a2a" stroke-width="1.0"/>
<line x1="677.1" y1="383.2" x2="677.1" y2="385.2" stroke="#2a2a2a" stroke-width="1.0"/>
<line x1="678.9" y1="383.2" x2="678.9" y2="385.2" stroke="#2a2a2a" stroke-width="1.0"/>
<line x1="680.7" y1="383.2" x2="680.7" y2="385.2" stroke="#2a2a2a" stroke-width="1.0"/>
<line x1="682.5" y1="383.2" x2="682.5" y2="386.7" stroke="#2a2a2a" stroke-width="1.0"/>
<line x1="466.5" y1="254.8" x2="470" y2="254.8" stroke="#2a2a2a" stroke-width="1.0"/>
<line x1="466.5" y1="361.6" x2="470" y2="361.6" stroke="#2a2a2a" stroke-width="1.0"/>
<line x1="468" y1="308.2" x2="470" y2="308.2" stroke="#2a2a2a" stroke-width="1.0"/>
<text x="45" y="185.5" font-size="11" text-anchor="middle" font-weight="normal" fill="#1a1a1a">1</text>
<text x="120.7" y="185.5" font-size="11" text-anchor="middle" font-weight="normal" fill="#1a1a1a">2</text>
<text x="164.9" y="185.5" font-size="11" text-anchor="middle" font-weight="normal" fill="#1a1a1a">3</text>
<text x="196.4" y="185.5" font-size="11" text-anchor="middle" font-weight="normal" fill="#1a1a1a">4</text>
<text x="220.7" y="185.5" font-size="11" text-anchor="middle" font-weight="normal" fill="#1a1a1a">5</text>
<text x="240.6" y="185.5" font-size="11" text-anchor="middle" font-weight="normal" fill="#1a1a1a">6</text>
<text x="154.5" y="202.7" font-size="19" text-anchor="middle" fill="#111"><tspan font-weight="bold">q </tspan><tspan font-weight="bold" font-size="21">(</tspan><tspan>μ</tspan><tspan font-weight="bold">m</tspan><tspan font-weight="bold" font-size="12" dy="-6.7">-1</tspan><tspan font-weight="bold" font-size="21" dy="6.7">)</tspan></text>
<text x="257.6" y="185.5" font-size="11" text-anchor="middle" font-weight="normal" fill="#1a1a1a">1</text>
<text x="333.3" y="185.5" font-size="11" text-anchor="middle" font-weight="normal" fill="#1a1a1a">2</text>
<text x="377.5" y="185.5" font-size="11" text-anchor="middle" font-weight="normal" fill="#1a1a1a">3</text>
<text x="409" y="185.5" font-size="11" text-anchor="middle" font-weight="normal" fill="#1a1a1a">4</text>
<text x="433.3" y="185.5" font-size="11" text-anchor="middle" font-weight="normal" fill="#1a1a1a">5</text>
<text x="453.2" y="185.5" font-size="11" text-anchor="middle" font-weight="normal" fill="#1a1a1a">6</text>
<text x="367.1" y="202.7" font-size="19" text-anchor="middle" fill="#111"><tspan font-weight="bold">q </tspan><tspan font-weight="bold" font-size="21">(</tspan><tspan>μ</tspan><tspan font-weight="bold">m</tspan><tspan font-weight="bold" font-size="12" dy="-6.7">-1</tspan><tspan font-weight="bold" font-size="21" dy="6.7">)</tspan></text>
<text x="470" y="185.5" font-size="11" text-anchor="middle" font-weight="normal" fill="#1a1a1a">1</text>
<text x="545.7" y="185.5" font-size="11" text-anchor="middle" font-weight="normal" fill="#1a1a1a">2</text>
<text x="589.9" y="185.5" font-size="11" text-anchor="middle" font-weight="normal" fill="#1a1a1a">3</text>
<text x="621.4" y="185.5" font-size="11" text-anchor="middle" font-weight="normal" fill="#1a1a1a">4</text>
<text x="645.7" y="185.5" font-size="11" text-anchor="middle" font-weight="normal" fill="#1a1a1a">5</text>
<text x="665.6" y="185.5" font-size="11" text-anchor="middle" font-weight="normal" fill="#1a1a1a">6</text>
<text x="682.5" y="185.5" font-size="11" text-anchor="middle" font-weight="normal" fill="#1a1a1a">7</text>
<text x="579.5" y="202.7" font-size="19" text-anchor="middle" fill="#111"><tspan font-weight="bold">q </tspan><tspan font-weight="bold" font-size="21">(</tspan><tspan>μ</tspan><tspan font-weight="bold">m</tspan><tspan font-weight="bold" font-size="12" dy="-6.7">-1</tspan><tspan font-weight="bold" font-size="21" dy="6.7">)</tspan></text>
<text x="39.5" y="46.8" font-size="11" text-anchor="end" font-weight="normal" fill="#1a1a1a">1.0</text>
<text x="39.5" y="153.6" font-size="11" text-anchor="end" font-weight="normal" fill="#1a1a1a">0.5</text>
<text x="0" y="0" font-size="20" font-family="Liberation Serif, serif" text-anchor="middle" fill="#111" transform="translate(14.2,85.5) rotate(-90)">δ</text>
<text x="45" y="397.7" font-size="11" text-anchor="middle" font-weight="normal" fill="#1a1a1a">1</text>
<text x="120.7" y="397.7" font-size="11" text-anchor="middle" font-weight="normal" fill="#1a1a1a">2</text>
<text x="164.9" y="397.7" font-size="11" text-anchor="middle" font-weight="normal" fill="#1a1a1a">3</text>
<text x="196.4" y="397.7" font-size="11" text-anchor="middle" font-weight="normal" fill="#1a1a1a">4</text>
<text x="220.7" y="397.7" font-size="11" text-anchor="middle" font-weight="normal" fill="#1a1a1a">5</text>
<text x="240.6" y="397.7" font-size="11" text-anchor="middle" font-weight="normal" fill="#1a1a1a">6</text>
<text x="154.5" y="414.9" font-size="19" text-anchor="middle" fill="#111"><tspan font-weight="bold">q </tspan><tspan font-weight="bold" font-size="21">(</tspan><tspan>μ</tspan><tspan font-weight="bold">m</tspan><tspan font-weight="bold" font-size="12" dy="-6.7">-1</tspan><tspan font-weight="bold" font-size="21" dy="6.7">)</tspan></text>
<text x="257.6" y="397.7" font-size="11" text-anchor="middle" font-weight="normal" fill="#1a1a1a">1</text>
<text x="333.3" y="397.7" font-size="11" text-anchor="middle" font-weight="normal" fill="#1a1a1a">2</text>
<text x="377.5" y="397.7" font-size="11" text-anchor="middle" font-weight="normal" fill="#1a1a1a">3</text>
<text x="409" y="397.7" font-size="11" text-anchor="middle" font-weight="normal" fill="#1a1a1a">4</text>
<text x="433.3" y="397.7" font-size="11" text-anchor="middle" font-weight="normal" fill="#1a1a1a">5</text>
<text x="453.2" y="397.7" font-size="11" text-anchor="middle" font-weight="normal" fill="#1a1a1a">6</text>
<text x="367.1" y="414.9" font-size="19" text-anchor="middle" fill="#111"><tspan font-weight="bold">q </tspan><tspan font-weight="bold" font-size="21">(</tspan><tspan>μ</tspan><tspan font-weight="bold">m</tspan><tspan font-weight="bold" font-size="12" dy="-6.7">-1</tspan><tspan font-weight="bold" font-size="21" dy="6.7">)</tspan></text>
<text x="470" y="397.7" font-size="11" text-anchor="middle" font-weight="normal" fill="#1a1a1a">1</text>
<text x="545.7" y="397.7" font-size="11" text-anchor="middle" font-weight="normal" fill="#1a1a1a">2</text>
<text x="589.9" y="397.7" font-size="11" text-anchor="middle" font-weight="normal" fill="#1a1a1a">3</text>
<text x="621.4" y="397.7" font-size="11" text-anchor="middle" font-weight="normal" fill="#1a1a1a">4</text>
<text x="645.7" y="397.7" font-size="11" text-anchor="middle" font-weight="normal" fill="#1a1a1a">5</text>
<text x="665.6" y="397.7" font-size="11" text-anchor="middle" font-weight="normal" fill="#1a1a1a">6</text>
<text x="682.5" y="397.7" font-size="11" text-anchor="middle" font-weight="normal" fill="#1a1a1a">7</text>
<text x="579.5" y="414.9" font-size="19" text-anchor="middle" fill="#111"><tspan font-weight="bold">q </tspan><tspan font-weight="bold" font-size="21">(</tspan><tspan>μ</tspan><tspan font-weight="bold">m</tspan><tspan font-weight="bold" font-size="12" dy="-6.7">-1</tspan><tspan font-weight="bold" font-size="21" dy="6.7">)</tspan></text>
<text x="39.5" y="258.8" font-size="11" text-anchor="end" font-weight="normal" fill="#1a1a1a">1.0</text>
<text x="39.5" y="365.6" font-size="11" text-anchor="end" font-weight="normal" fill="#1a1a1a">0.5</text>
<text x="0" y="0" font-size="20" font-family="Liberation Serif, serif" text-anchor="middle" fill="#111" transform="translate(14.2,297.5) rotate(-90)">δ</text>
<text x="8.3" y="22.2" font-size="24.5" text-anchor="start" font-weight="normal" fill="#2a2a2a">(a)</text>
<text x="8.3" y="233.6" font-size="24.5" text-anchor="start" font-weight="normal" fill="#2a2a2a">(b)</text>
<text x="47.4" y="166" font-size="15" text-anchor="start" font-weight="normal" fill="#1a1a1a">0.5:0</text>
<text x="261.3" y="164.8" font-size="15" text-anchor="start" font-weight="normal" fill="#1a1a1a">0.65:0</text>
<text x="475" y="165" font-size="15" text-anchor="start" font-weight="normal" fill="#1a1a1a">0.5:6.4</text>
<text x="49.2" y="376" font-size="15" text-anchor="start" font-weight="normal" fill="#1a1a1a">0.5:0</text>
<text x="262.9" y="376" font-size="15" text-anchor="start" font-weight="normal" fill="#1a1a1a">0.65:0</text>
<text x="475.5" y="378" font-size="15" text-anchor="start" font-weight="normal" fill="#1a1a1a">0.5:6.4</text>
<polygon points="183,10.6 190.2,10.6 186.6,4.9" fill="#fff"/>
<polygon points="183,10.6 190.2,10.6 186.6,4.9" fill="none" stroke="#ff0000" stroke-width="1.1" stroke-linejoin="miter"/>
<polygon points="183,22.4 190.2,22.4 186.6,16.7" fill="#fff"/>
<polygon points="183,22.4 190.2,22.4 186.6,16.7" fill="none" stroke="#ff8000" stroke-width="1.1" stroke-linejoin="miter"/>
<polygon points="183,34.2 190.2,34.2 186.6,28.5" fill="#fff"/>
<polygon points="183,34.2 190.2,34.2 186.6,28.5" fill="none" stroke="#008000" stroke-width="1.1" stroke-linejoin="miter"/>
<polygon points="183,46 190.2,46 186.6,40.3" fill="#fff"/>
<polygon points="183,46 190.2,46 186.6,40.3" fill="none" stroke="#00ffff" stroke-width="1.1" stroke-linejoin="miter"/>
<polygon points="183,57.8 190.2,57.8 186.6,52.1" fill="#fff"/>
<polygon points="183,57.8 190.2,57.8 186.6,52.1" fill="none" stroke="#000080" stroke-width="1.1" stroke-linejoin="miter"/>
<polygon points="183,69.6 190.2,69.6 186.6,63.9" fill="#fff"/>
<polygon points="183,69.6 190.2,69.6 186.6,63.9" fill="none" stroke="#ff00ff" stroke-width="1.1" stroke-linejoin="miter"/>
<polygon points="223.5,22.4 230.7,22.4 227.1,16.7" fill="#fff"/>
<polygon points="223.5,22.4 230.7,22.4 227.1,16.7" fill="none" stroke="#00ff00" stroke-width="1.1" stroke-linejoin="miter"/>
<polygon points="223.5,34.2 230.7,34.2 227.1,28.5" fill="#fff"/>
<polygon points="223.5,34.2 230.7,34.2 227.1,28.5" fill="none" stroke="#008080" stroke-width="1.1" stroke-linejoin="miter"/>
<polygon points="223.5,46 230.7,46 227.1,40.3" fill="#fff"/>
<polygon points="223.5,46 230.7,46 227.1,40.3" fill="none" stroke="#0000ff" stroke-width="1.1" stroke-linejoin="miter"/>
<polygon points="223.5,57.8 230.7,57.8 227.1,52.1" fill="#fff"/>
<polygon points="223.5,57.8 230.7,57.8 227.1,52.1" fill="none" stroke="#8000ff" stroke-width="1.1" stroke-linejoin="miter"/>
<text x="200.3" y="11.7" font-size="10" text-anchor="start" font-weight="normal" fill="#1a1a1a">8</text>
<text x="200.3" y="23.5" font-size="10" text-anchor="start" font-weight="normal" fill="#1a1a1a">10</text>
<text x="200.3" y="35.3" font-size="10" text-anchor="start" font-weight="normal" fill="#1a1a1a">15</text>
<text x="200.3" y="47.1" font-size="10" text-anchor="start" font-weight="normal" fill="#1a1a1a">19</text>
<text x="200.3" y="58.9" font-size="10" text-anchor="start" font-weight="normal" fill="#1a1a1a">23</text>
<text x="200.3" y="70.7" font-size="10" text-anchor="start" font-weight="normal" fill="#1a1a1a">27</text>
<text x="240.5" y="23.5" font-size="10" text-anchor="start" font-weight="normal" fill="#1a1a1a">13</text>
<text x="240.5" y="35.3" font-size="10" text-anchor="start" font-weight="normal" fill="#1a1a1a">17</text>
<text x="240.5" y="47.1" font-size="10" text-anchor="start" font-weight="normal" fill="#1a1a1a">21</text>
<text x="240.5" y="58.9" font-size="10" text-anchor="start" font-weight="normal" fill="#1a1a1a">25</text>
<text x="213.4" y="11.7" font-size="10" text-anchor="start" font-weight="normal" fill="#1a1a1a">(Closest)</text>
<text x="213.3" y="70.7" font-size="10" text-anchor="start" font-weight="normal" fill="#1a1a1a">(Farthest)</text>
<polygon points="101.5,343.6 108,343.6 108,350.1 101.5,350.1" fill="#fff"/>
<polygon points="101.5,343.6 108,343.6 108,350.1 101.5,350.1" fill="none" stroke="#ff8a8a" stroke-width="1.15" stroke-linejoin="miter"/>
<text x="119.8" y="350.5" font-size="10" text-anchor="start" font-weight="normal" fill="#1a1a1a">9.4</text>
<circle cx="104.8" cy="359.3" r="3.5" fill="#fff" stroke="#ff6262" stroke-width="1.15"/>
<text x="119.8" y="363.7" font-size="10" text-anchor="start" font-weight="normal" fill="#1a1a1a">19</text>
<polygon points="100.4,375.1 109.2,375.1 104.8,367.1" fill="#fff"/>
<polygon points="100.4,375.1 109.2,375.1 104.8,367.1" fill="none" stroke="#ff3a3a" stroke-width="1.15" stroke-linejoin="miter"/>
<text x="119.8" y="376" font-size="10" text-anchor="start" font-weight="normal" fill="#1a1a1a">42</text>
<polygon points="144.2,344.2 153,344.2 148.6,352.2" fill="#fff"/>
<polygon points="144.2,344.2 153,344.2 148.6,352.2" fill="none" stroke="#f00000" stroke-width="1.15" stroke-linejoin="miter"/>
<text x="163.8" y="350.7" font-size="10" text-anchor="start" font-weight="normal" fill="#1a1a1a">90</text>
<polygon points="148.6,355.3 153.1,359.8 148.6,364.3 144.1,359.8" fill="#fff"/>
<polygon points="148.6,355.3 153.1,359.8 148.6,364.3 144.1,359.8" fill="none" stroke="#c8000a" stroke-width="1.15" stroke-linejoin="miter"/>
<text x="163.8" y="363.6" font-size="10" text-anchor="start" font-weight="normal" fill="#1a1a1a">189</text>
</svg>
</body></html>
